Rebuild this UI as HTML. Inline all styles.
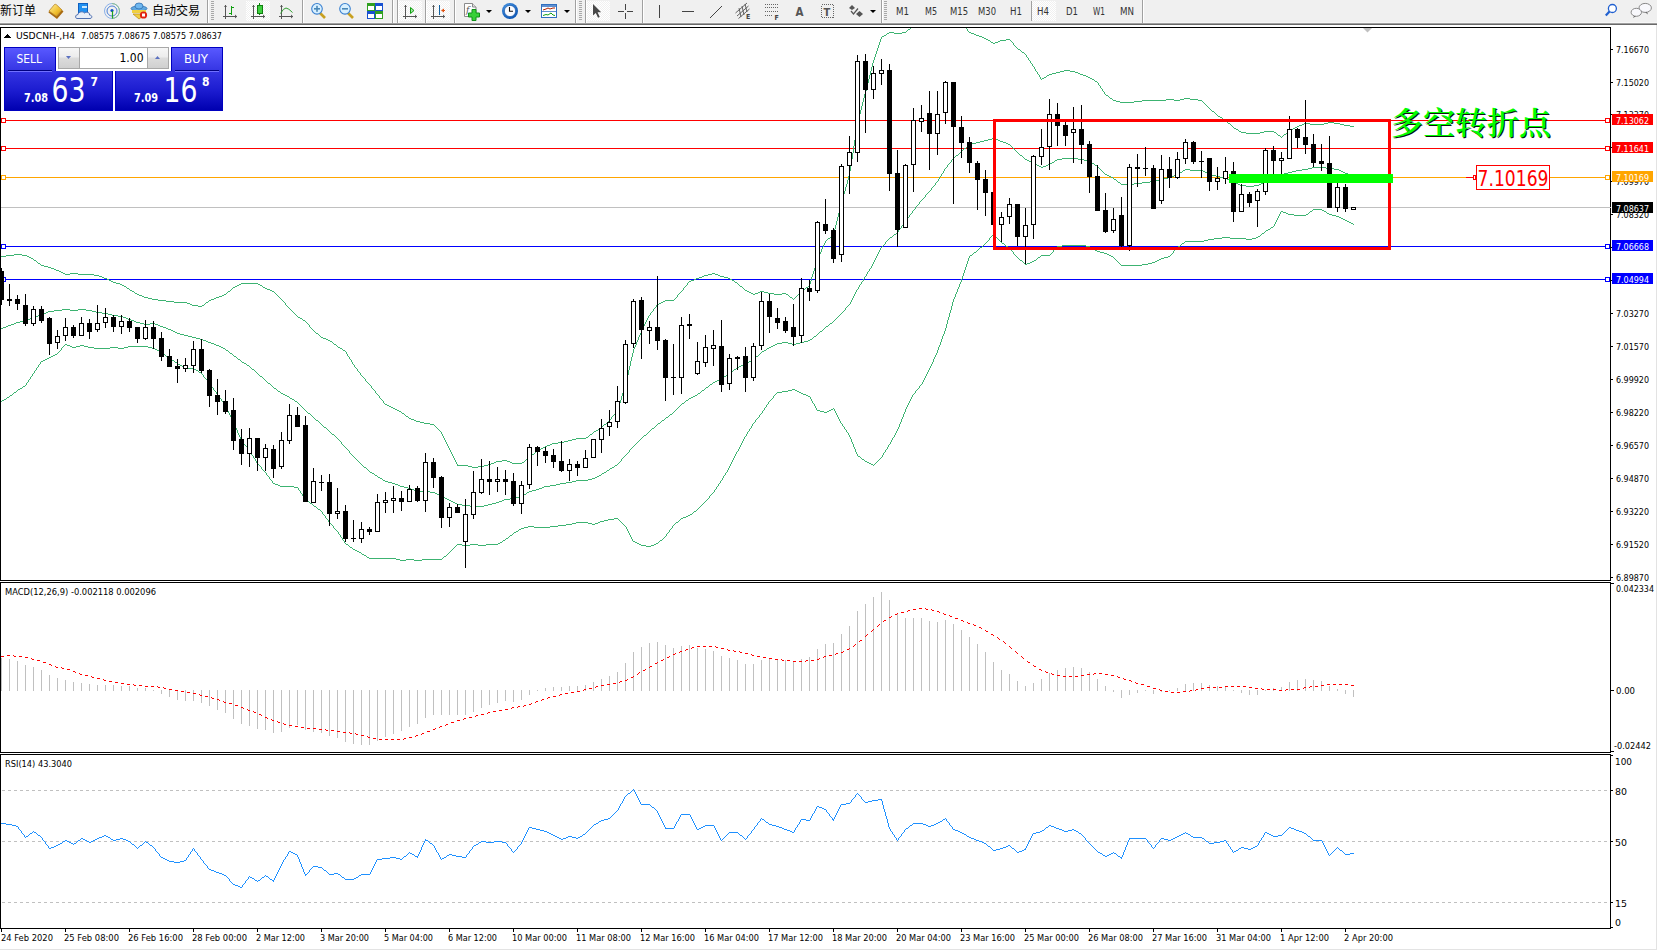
<!DOCTYPE html>
<html><head><meta charset="utf-8"><title>MT4 USDCNH H4</title>
<style>
html,body{margin:0;padding:0;background:#fff;}
body{width:1657px;height:950px;position:relative;overflow:hidden;font-family:"Liberation Sans","Noto Sans CJK SC",sans-serif;}
svg text{shape-rendering:auto;}
</style></head><body>
<svg width="1657" height="950" viewBox="0 0 1657 950" style="position:absolute;left:0;top:0" shape-rendering="crispEdges"><rect x="0" y="0" width="1657" height="22" fill="#f0f0f0"/><rect x="0" y="22" width="1657" height="1" fill="#f7f7f7"/><rect x="0" y="23" width="1657" height="1" fill="#a0a0a0"/><rect x="0" y="24" width="1657" height="1" fill="#696969"/><rect x="0" y="25" width="1656" height="924" fill="#ffffff"/><rect x="1656" y="25" width="1" height="925" fill="#e3e3e3"/><rect x="0" y="949" width="1657" height="1" fill="#e3e3e3"/><defs><pattern id="chk" x="0" y="0" width="2" height="2" patternUnits="userSpaceOnUse"><rect width="2" height="2" fill="#f0f0f0"/><rect x="1" y="0" width="1" height="1" fill="#fff"/><rect x="0" y="1" width="1" height="1" fill="#fff"/></pattern></defs><rect x="246" y="1" width="24" height="20" fill="url(#chk)"/><rect x="398" y="1" width="24" height="20" fill="url(#chk)"/><rect x="426" y="1" width="24" height="20" fill="url(#chk)"/><rect x="586" y="1" width="24" height="20" fill="url(#chk)"/><rect x="1032" y="1" width="24" height="20" fill="url(#chk)"/><rect x="1031" y="1" width="1" height="20" fill="#a0a0a0"/><rect x="207" y="0" width="1" height="23" fill="#a0a0a0"/><rect x="208" y="0" width="1" height="23" fill="#ffffff"/><rect x="302" y="0" width="1" height="23" fill="#a0a0a0"/><rect x="303" y="0" width="1" height="23" fill="#ffffff"/><rect x="392" y="0" width="1" height="23" fill="#a0a0a0"/><rect x="393" y="0" width="1" height="23" fill="#ffffff"/><rect x="397" y="0" width="1" height="23" fill="#a0a0a0"/><rect x="398" y="0" width="1" height="23" fill="#ffffff"/><rect x="425" y="0" width="1" height="23" fill="#a0a0a0"/><rect x="426" y="0" width="1" height="23" fill="#ffffff"/><rect x="454" y="0" width="1" height="23" fill="#a0a0a0"/><rect x="455" y="0" width="1" height="23" fill="#ffffff"/><rect x="575" y="0" width="1" height="23" fill="#a0a0a0"/><rect x="576" y="0" width="1" height="23" fill="#ffffff"/><rect x="585" y="0" width="1" height="23" fill="#a0a0a0"/><rect x="586" y="0" width="1" height="23" fill="#ffffff"/><rect x="642" y="0" width="1" height="23" fill="#a0a0a0"/><rect x="643" y="0" width="1" height="23" fill="#ffffff"/><rect x="881" y="0" width="1" height="23" fill="#a0a0a0"/><rect x="882" y="0" width="1" height="23" fill="#ffffff"/><rect x="1142" y="0" width="1" height="23" fill="#a0a0a0"/><rect x="1143" y="0" width="1" height="23" fill="#ffffff"/><rect x="211" y="1" width="3" height="1" fill="#a8a8a8"/><rect x="211" y="3" width="3" height="1" fill="#a8a8a8"/><rect x="211" y="5" width="3" height="1" fill="#a8a8a8"/><rect x="211" y="7" width="3" height="1" fill="#a8a8a8"/><rect x="211" y="9" width="3" height="1" fill="#a8a8a8"/><rect x="211" y="11" width="3" height="1" fill="#a8a8a8"/><rect x="211" y="13" width="3" height="1" fill="#a8a8a8"/><rect x="211" y="15" width="3" height="1" fill="#a8a8a8"/><rect x="211" y="17" width="3" height="1" fill="#a8a8a8"/><rect x="211" y="19" width="3" height="1" fill="#a8a8a8"/><rect x="579" y="1" width="3" height="1" fill="#a8a8a8"/><rect x="579" y="3" width="3" height="1" fill="#a8a8a8"/><rect x="579" y="5" width="3" height="1" fill="#a8a8a8"/><rect x="579" y="7" width="3" height="1" fill="#a8a8a8"/><rect x="579" y="9" width="3" height="1" fill="#a8a8a8"/><rect x="579" y="11" width="3" height="1" fill="#a8a8a8"/><rect x="579" y="13" width="3" height="1" fill="#a8a8a8"/><rect x="579" y="15" width="3" height="1" fill="#a8a8a8"/><rect x="579" y="17" width="3" height="1" fill="#a8a8a8"/><rect x="579" y="19" width="3" height="1" fill="#a8a8a8"/><rect x="884" y="1" width="3" height="1" fill="#a8a8a8"/><rect x="884" y="3" width="3" height="1" fill="#a8a8a8"/><rect x="884" y="5" width="3" height="1" fill="#a8a8a8"/><rect x="884" y="7" width="3" height="1" fill="#a8a8a8"/><rect x="884" y="9" width="3" height="1" fill="#a8a8a8"/><rect x="884" y="11" width="3" height="1" fill="#a8a8a8"/><rect x="884" y="13" width="3" height="1" fill="#a8a8a8"/><rect x="884" y="15" width="3" height="1" fill="#a8a8a8"/><rect x="884" y="17" width="3" height="1" fill="#a8a8a8"/><rect x="884" y="19" width="3" height="1" fill="#a8a8a8"/><text x="0" y="15" font-family="Liberation Sans, Noto Sans CJK SC, sans-serif" font-size="12" fill="#000" textLength="36" lengthAdjust="spacingAndGlyphs">新订单</text><text x="152" y="15" font-family="Liberation Sans, Noto Sans CJK SC, sans-serif" font-size="12" fill="#000" textLength="48" lengthAdjust="spacingAndGlyphs">自动交易</text><defs><linearGradient id="gbook" x1="0" y1="0" x2="1" y2="1"><stop offset="0" stop-color="#fff0a0"/><stop offset="0.6" stop-color="#f0c030"/><stop offset="1" stop-color="#c88a10"/></linearGradient></defs><g shape-rendering="auto"><path d="M48.5,12.5 L57,19 L63.5,11.5 L62,10 L56.5,16.3 L49,11 Z" fill="#a86a10"/><path d="M49,11 L54.5,4.5 Q55.5,4 56.5,4.8 L62,10 L56.5,16.3 Z" fill="url(#gbook)" stroke="#b07818" stroke-width="0.7"/></g><g shape-rendering="auto"><rect x="78.5" y="3.5" width="9" height="10" fill="#2090f0" stroke="#1060c0"/><rect x="82" y="6" width="5" height="2" fill="#c8e8ff"/><path d="M77,18.5 C75,18.5 75,14.5 78,14.5 C78.5,11.5 83,11 84.5,13 C86,11.5 90,12 89.5,15 C92.5,15 92.5,18.5 90,18.5 Z" fill="#e8eef8" stroke="#5070b0"/></g><g shape-rendering="auto" fill="none"><circle cx="112" cy="11" r="7.5" stroke="#8ab0e8" stroke-width="1"/><circle cx="112" cy="11" r="5" stroke="#4a80d8" stroke-width="1"/><path d="M112,3.5 A7.5,7.5 0 0 1 112,18.5" stroke="#88c090" stroke-width="1"/><circle cx="112" cy="10.5" r="1.6" fill="#1050c0"/><path d="M112.5,11 V18.5" stroke="#20a020" stroke-width="1.2"/></g><g shape-rendering="auto"><path d="M133,14 L139,19 L146,14 Z" fill="#f0d040" stroke="#c09020" stroke-width="0.8"/><ellipse cx="139" cy="8.5" rx="8" ry="2.6" fill="#60a8e0" stroke="#3070b0" stroke-width="0.8"/><ellipse cx="139" cy="6" rx="4" ry="3" fill="#70b8f0" stroke="#3070b0" stroke-width="0.8"/><path d="M132,10 L146,10 L146,13 L132,13 Z" fill="#f0d040"/><circle cx="143.5" cy="15" r="3.6" fill="#e02010"/><rect x="142" y="13.5" width="3" height="3" fill="#fff"/></g><rect x="225" y="5" width="1" height="14" fill="#555"/><rect x="223" y="16" width="14" height="1" fill="#555"/><path d="M224,7 L225.5,5 L227,7 Z" fill="#555" shape-rendering="auto"/><path d="M235,14.5 L237,16.5 L235,18.5 Z" fill="#555" shape-rendering="auto"/><rect x="231" y="6" width="1" height="9" fill="#10a010"/><rect x="229" y="13" width="2" height="1" fill="#10a010"/><rect x="232" y="7" width="2" height="1" fill="#10a010"/><rect x="253" y="5" width="1" height="14" fill="#555"/><rect x="251" y="16" width="14" height="1" fill="#555"/><path d="M252,7 L253.5,5 L255,7 Z" fill="#555" shape-rendering="auto"/><path d="M263,14.5 L265,16.5 L263,18.5 Z" fill="#555" shape-rendering="auto"/><rect x="259" y="3" width="1" height="12" fill="#108010"/><rect x="257" y="5" width="5" height="8" fill="#40d040" stroke="#108010" stroke-width="1"/><rect x="281" y="5" width="1" height="14" fill="#555"/><rect x="279" y="16" width="14" height="1" fill="#555"/><path d="M280,7 L281.5,5 L283,7 Z" fill="#555" shape-rendering="auto"/><path d="M291,14.5 L293,16.5 L291,18.5 Z" fill="#555" shape-rendering="auto"/><path d="M280.5,13.5 Q283.5,8 286,8 Q288.5,8.2 292.5,12.5" fill="none" stroke="#30a030" stroke-width="1" shape-rendering="auto"/><g shape-rendering="auto"><path d="M320,13 L325,18" stroke="#c8a020" stroke-width="2.6"/><circle cx="317" cy="8.8" r="5.3" fill="#d8f0ff" stroke="#3a80d0" stroke-width="1.1"/><rect x="314" y="8" width="6" height="1.6" fill="#4a88b8"/><rect x="316.2" y="5.8" width="1.6" height="6" fill="#4a88b8"/></g><g shape-rendering="auto"><path d="M348,13 L353,18" stroke="#c8a020" stroke-width="2.6"/><circle cx="345" cy="8.8" r="5.3" fill="#d8f0ff" stroke="#3a80d0" stroke-width="1.1"/><rect x="342" y="8" width="6" height="1.6" fill="#4a88b8"/></g><rect x="367" y="3" width="8" height="8" fill="#30a020"/><rect x="368" y="6" width="6" height="4" fill="#fff"/><rect x="375" y="3" width="8" height="8" fill="#1850d0"/><rect x="376" y="6" width="6" height="4" fill="#fff"/><rect x="367" y="11" width="8" height="8" fill="#1850d0"/><rect x="368" y="14" width="6" height="4" fill="#fff"/><rect x="375" y="11" width="8" height="8" fill="#30a020"/><rect x="376" y="14" width="6" height="4" fill="#fff"/><rect x="405" y="5" width="1" height="14" fill="#555"/><rect x="403" y="16" width="14" height="1" fill="#555"/><path d="M404,7 L405.5,5 L407,7 Z" fill="#555" shape-rendering="auto"/><path d="M415,14.5 L417,16.5 L415,18.5 Z" fill="#555" shape-rendering="auto"/><path d="M410.5,7.5 L414,10.5 L410.5,13.5 Z" fill="#a0e0a0" stroke="#10a010" shape-rendering="auto"/><rect x="433" y="5" width="1" height="14" fill="#555"/><rect x="431" y="16" width="14" height="1" fill="#555"/><path d="M432,7 L433.5,5 L435,7 Z" fill="#555" shape-rendering="auto"/><path d="M443,14.5 L445,16.5 L443,18.5 Z" fill="#555" shape-rendering="auto"/><rect x="439" y="5" width="1" height="10" fill="#1060a0"/><path d="M441,10.5 L444,8.5 L444,12.5 Z" fill="#e05010" shape-rendering="auto"/><rect x="443" y="10" width="2" height="1" fill="#e05010"/><g shape-rendering="auto"><path d="M464.5,3.5 H472.5 L476,7 V16.5 H464.5 Z" fill="#fdfdfd" stroke="#8a8a8a"/><path d="M472.5,3.5 V7 H476" fill="#e0e0e0" stroke="#8a8a8a"/><text x="466" y="13" font-family="DejaVu Serif, serif" font-style="italic" font-size="9" fill="#555">f</text><path d="M472,9.5 H476 V13 H479.5 V17 H476 V20.5 H472 V17 H468.5 V13 H472 Z" fill="#38d038" stroke="#10901a" stroke-width="1"/></g><path d="M486,10 L492,10 L489,13 Z" fill="#000" shape-rendering="auto"/><path d="M525,10 L531,10 L528,13 Z" fill="#000" shape-rendering="auto"/><path d="M564,10 L570,10 L567,13 Z" fill="#000" shape-rendering="auto"/><path d="M870,10 L876,10 L873,13 Z" fill="#000" shape-rendering="auto"/><defs><radialGradient id="gclk" cx="0.4" cy="0.35" r="0.7"><stop offset="0" stop-color="#5aa8f0"/><stop offset="1" stop-color="#0850b0"/></radialGradient></defs><g shape-rendering="auto"><circle cx="510" cy="11" r="8" fill="url(#gclk)"/><circle cx="510" cy="11" r="5.6" fill="#fbfbff" stroke="#0a4a9a" stroke-width="0.6"/><path d="M509.5,7 V11.2 H513" fill="none" stroke="#111" stroke-width="1.1"/></g><rect x="541.5" y="4.5" width="15" height="13" fill="#fff" stroke="#3070c0"/><rect x="542" y="5" width="14" height="2" fill="#6090d0"/><rect x="542" y="11" width="14" height="1" fill="#6090d0"/><path d="M543,10 L546,9 L548,8 L550,9 L553,8 L555,8" fill="none" stroke="#b02000" stroke-width="1" shape-rendering="auto"/><path d="M543,15.5 L546,14.5 L548,15 L551,13 L553,15 L555,15.5" fill="none" stroke="#10a010" stroke-width="1" shape-rendering="auto"/><path d="M593,4 L593,15.5 L595.8,13 L598,17.8 L599.8,17 L597.6,12.3 L601.2,12.2 Z" fill="#484848" stroke="#fff" stroke-width="1.2" paint-order="stroke" shape-rendering="auto"/><rect x="618" y="11" width="6" height="1" fill="#444"/><rect x="627" y="11" width="6" height="1" fill="#444"/><rect x="625" y="4" width="1" height="6" fill="#444"/><rect x="625" y="13" width="1" height="6" fill="#444"/><rect x="659" y="5" width="1" height="13" fill="#444"/><rect x="682" y="11" width="12" height="1" fill="#444"/><path d="M710,18 L722,6" stroke="#444" stroke-width="1" shape-rendering="auto"/><g shape-rendering="auto" stroke="#555" stroke-width="0.9" fill="none"><path d="M735.5,13 L747,3"/><path d="M737,16 L748.5,6"/><path d="M738.5,18.5 L749.5,9"/><path d="M739,8 L741,17 M742,6 L744,15 M745,4 L747,12"/></g><text x="746" y="19" font-family="DejaVu Sans Condensed, DejaVu Sans, sans-serif" font-size="7" font-weight="bold" fill="#444">E</text><line x1="765" y1="4.5" x2="778" y2="4.5" stroke="#666" stroke-dasharray="1,1"/><line x1="765" y1="7.5" x2="778" y2="7.5" stroke="#666" stroke-dasharray="1,1"/><line x1="765" y1="11.5" x2="778" y2="11.5" stroke="#666" stroke-dasharray="1,1"/><line x1="765" y1="15.5" x2="773" y2="15.5" stroke="#666" stroke-dasharray="1,1"/><text x="774.5" y="19.5" font-family="DejaVu Sans Condensed, DejaVu Sans, sans-serif" font-size="7" font-weight="bold" fill="#444">F</text><text x="795.5" y="16" font-family="DejaVu Sans Condensed, DejaVu Sans, sans-serif" font-size="12" font-weight="bold" fill="#555" textLength="8" lengthAdjust="spacingAndGlyphs">A</text><rect x="821.5" y="4.5" width="12" height="13" fill="none" stroke="#666" stroke-dasharray="1,1"/><text x="823.5" y="15.5" font-family="DejaVu Sans Condensed, DejaVu Sans, sans-serif" font-size="11" font-weight="bold" fill="#555">T</text><g shape-rendering="auto" fill="#555"><path d="M849,8 L852,5 L855,8 L852,10 Z"/><path d="M856,14 L859.5,11 L863,14 L859.5,17 Z"/><path d="M851,11 L853.5,14 L858,8.5" fill="none" stroke="#555" stroke-width="1.2"/></g><text x="896" y="15" font-family="DejaVu Sans Condensed, DejaVu Sans, sans-serif" font-size="10.2" fill="#333" textLength="13" lengthAdjust="spacingAndGlyphs">M1</text><text x="925" y="15" font-family="DejaVu Sans Condensed, DejaVu Sans, sans-serif" font-size="10.2" fill="#333" textLength="12" lengthAdjust="spacingAndGlyphs">M5</text><text x="950" y="15" font-family="DejaVu Sans Condensed, DejaVu Sans, sans-serif" font-size="10.2" fill="#333" textLength="18" lengthAdjust="spacingAndGlyphs">M15</text><text x="978" y="15" font-family="DejaVu Sans Condensed, DejaVu Sans, sans-serif" font-size="10.2" fill="#333" textLength="18" lengthAdjust="spacingAndGlyphs">M30</text><text x="1010" y="15" font-family="DejaVu Sans Condensed, DejaVu Sans, sans-serif" font-size="10.2" fill="#333" textLength="12" lengthAdjust="spacingAndGlyphs">H1</text><text x="1037" y="15" font-family="DejaVu Sans Condensed, DejaVu Sans, sans-serif" font-size="10.2" fill="#333" textLength="12" lengthAdjust="spacingAndGlyphs">H4</text><text x="1066" y="15" font-family="DejaVu Sans Condensed, DejaVu Sans, sans-serif" font-size="10.2" fill="#333" textLength="12" lengthAdjust="spacingAndGlyphs">D1</text><text x="1093" y="15" font-family="DejaVu Sans Condensed, DejaVu Sans, sans-serif" font-size="10.2" fill="#333" textLength="12" lengthAdjust="spacingAndGlyphs">W1</text><text x="1120" y="15" font-family="DejaVu Sans Condensed, DejaVu Sans, sans-serif" font-size="10.2" fill="#333" textLength="14" lengthAdjust="spacingAndGlyphs">MN</text><g shape-rendering="auto"><circle cx="1612.4" cy="8.5" r="4" fill="#fff" stroke="#2060d0" stroke-width="1.3"/><path d="M1609.5,11.5 L1605.8,15.6" stroke="#2060d0" stroke-width="2.2"/><ellipse cx="1645.2" cy="7.9" rx="6.2" ry="4.5" fill="#f8f8fc" stroke="#888" stroke-width="1"/><path d="M1647,12 L1648,14.5 L1645,12.3" fill="#666"/><ellipse cx="1636.3" cy="12.3" rx="5.2" ry="4" fill="#f8f8fc" stroke="#888" stroke-width="1"/><path d="M1634,16 L1633,18 L1636,16.2" fill="#666"/></g><rect x="0.5" y="27.5" width="1610" height="553" fill="none" stroke="#000"/><rect x="0.5" y="582.5" width="1610" height="170" fill="none" stroke="#000"/><rect x="0.5" y="754.5" width="1610" height="174" fill="none" stroke="#000"/><rect x="1" y="120" width="1609" height="1" fill="#ff0000"/><rect x="1.5" y="118.5" width="4" height="4" fill="#fff" stroke="#ff0000"/><rect x="1605.5" y="118.5" width="4" height="4" fill="#fff" stroke="#ff0000"/><rect x="1" y="148" width="1609" height="1" fill="#ff0000"/><rect x="1.5" y="146.5" width="4" height="4" fill="#fff" stroke="#ff0000"/><rect x="1605.5" y="146.5" width="4" height="4" fill="#fff" stroke="#ff0000"/><rect x="1" y="177" width="1609" height="1" fill="#ffa500"/><rect x="1.5" y="175.5" width="4" height="4" fill="#fff" stroke="#ffa500"/><rect x="1605.5" y="175.5" width="4" height="4" fill="#fff" stroke="#ffa500"/><rect x="1" y="207" width="1610" height="1" fill="#c0c0c0"/><rect x="1" y="246" width="1609" height="1" fill="#0000ff"/><rect x="1.5" y="244.5" width="4" height="4" fill="#fff" stroke="#0000ff"/><rect x="1605.5" y="244.5" width="4" height="4" fill="#fff" stroke="#0000ff"/><rect x="1" y="279" width="1609" height="1" fill="#0000ff"/><rect x="1.5" y="277.5" width="4" height="4" fill="#fff" stroke="#0000ff"/><rect x="1605.5" y="277.5" width="4" height="4" fill="#fff" stroke="#0000ff"/><defs><clipPath id="cm"><rect x="1" y="28" width="1609" height="552"/></clipPath><clipPath id="cmacd"><rect x="1" y="583" width="1609" height="169"/></clipPath><clipPath id="crsi"><rect x="1" y="755" width="1609" height="173"/></clipPath></defs><g clip-path="url(#cm)"><path fill="#3cb371" d="M910 28h1v1h-1zM966 28h1v1h-1zM908 29h2v1h-2zM967 29h1v1h-1zM907 30h1v1h-1zM967 30h1v1h-1zM906 31h1v1h-1zM968 31h1v1h-1zM889 32h5v1h-5zM902 32h4v1h-4zM969 32h2v1h-2zM887 33h2v1h-2zM894 33h8v1h-8zM971 33h3v1h-3zM886 34h1v1h-1zM974 34h2v1h-2zM884 35h2v1h-2zM976 35h3v1h-3zM882 36h2v1h-2zM979 36h3v1h-3zM881 37h1v1h-1zM982 37h2v1h-2zM881 38h1v1h-1zM984 38h2v1h-2zM880 39h1v1h-1zM986 39h2v1h-2zM1006 39h4v1h-4zM880 40h1v1h-1zM988 40h2v1h-2zM1000 40h6v1h-6zM1010 40h1v1h-1zM880 41h1v1h-1zM990 41h1v1h-1zM998 41h2v1h-2zM1011 41h1v1h-1zM879 42h1v1h-1zM991 42h2v1h-2zM995 42h3v1h-3zM1012 42h1v1h-1zM879 43h1v1h-1zM993 43h2v1h-2zM1013 43h1v1h-1zM879 44h1v1h-1zM1013 44h1v1h-1zM878 45h1v1h-1zM1014 45h1v1h-1zM878 46h1v1h-1zM1015 46h1v1h-1zM878 47h1v1h-1zM1016 47h1v1h-1zM877 48h1v1h-1zM1017 48h1v1h-1zM877 49h1v1h-1zM1018 49h2v1h-2zM877 50h1v1h-1zM1020 50h1v1h-1zM876 51h1v1h-1zM1021 51h1v1h-1zM876 52h1v1h-1zM1022 52h2v1h-2zM876 53h1v1h-1zM1024 53h1v1h-1zM875 54h1v1h-1zM1025 54h1v1h-1zM875 55h1v1h-1zM1026 55h1v1h-1zM875 56h1v1h-1zM1026 56h1v1h-1zM874 57h1v1h-1zM1027 57h1v1h-1zM874 58h1v1h-1zM1028 58h1v1h-1zM874 59h1v1h-1zM1028 59h1v1h-1zM873 60h1v1h-1zM1029 60h1v1h-1zM873 61h1v1h-1zM1030 61h1v1h-1zM873 62h1v1h-1zM1030 62h1v1h-1zM872 63h1v1h-1zM1031 63h1v1h-1zM872 64h1v1h-1zM1032 64h1v1h-1zM872 65h1v1h-1zM1032 65h1v1h-1zM872 66h1v1h-1zM1033 66h1v1h-1zM871 67h1v1h-1zM1034 67h1v1h-1zM871 68h1v1h-1zM1034 68h1v1h-1zM871 69h1v1h-1zM1035 69h1v1h-1zM871 70h1v1h-1zM1035 70h1v1h-1zM1064 70h6v1h-6zM870 71h1v1h-1zM1036 71h1v1h-1zM1060 71h4v1h-4zM1070 71h5v1h-5zM870 72h1v1h-1zM1037 72h1v1h-1zM1056 72h4v1h-4zM1075 72h3v1h-3zM870 73h1v1h-1zM1037 73h1v1h-1zM1052 73h4v1h-4zM1078 73h2v1h-2zM870 74h1v1h-1zM1038 74h1v1h-1zM1049 74h3v1h-3zM1080 74h3v1h-3zM869 75h1v1h-1zM1039 75h1v1h-1zM1047 75h2v1h-2zM1083 75h3v1h-3zM869 76h1v1h-1zM1039 76h1v1h-1zM1046 76h1v1h-1zM1086 76h2v1h-2zM869 77h1v1h-1zM1040 77h1v1h-1zM1044 77h2v1h-2zM1088 77h2v1h-2zM869 78h1v1h-1zM1040 78h1v1h-1zM1042 78h2v1h-2zM1090 78h2v1h-2zM868 79h1v1h-1zM1041 79h1v1h-1zM1092 79h2v1h-2zM868 80h1v1h-1zM1094 80h1v1h-1zM868 81h1v1h-1zM1095 81h2v1h-2zM868 82h1v1h-1zM1097 82h1v1h-1zM867 83h1v1h-1zM1098 83h1v1h-1zM867 84h1v1h-1zM1098 84h1v1h-1zM867 85h1v1h-1zM1099 85h1v1h-1zM867 86h1v1h-1zM1100 86h1v1h-1zM866 87h1v1h-1zM1100 87h1v1h-1zM866 88h1v1h-1zM1101 88h1v1h-1zM866 89h1v1h-1zM1102 89h1v1h-1zM866 90h1v1h-1zM1102 90h1v1h-1zM865 91h1v1h-1zM1103 91h1v1h-1zM865 92h1v1h-1zM1104 92h1v1h-1zM865 93h1v1h-1zM1104 93h1v1h-1zM864 94h1v1h-1zM1105 94h1v1h-1zM864 95h1v1h-1zM1106 95h2v1h-2zM864 96h1v1h-1zM1108 96h1v1h-1zM864 97h1v1h-1zM1109 97h1v1h-1zM863 98h1v1h-1zM1110 98h2v1h-2zM1184 98h6v1h-6zM863 99h1v1h-1zM1112 99h1v1h-1zM1166 99h8v1h-8zM1180 99h4v1h-4zM1190 99h8v1h-8zM863 100h1v1h-1zM1113 100h3v1h-3zM1142 100h24v1h-24zM1174 100h6v1h-6zM1198 100h4v1h-4zM863 101h1v1h-1zM1116 101h4v1h-4zM1134 101h8v1h-8zM1202 101h1v1h-1zM862 102h1v1h-1zM1120 102h14v1h-14zM1203 102h1v1h-1zM862 103h1v1h-1zM1204 103h1v1h-1zM862 104h1v1h-1zM1205 104h1v1h-1zM862 105h1v1h-1zM1206 105h1v1h-1zM861 106h1v1h-1zM1207 106h1v1h-1zM861 107h1v1h-1zM1208 107h1v1h-1zM861 108h1v1h-1zM1209 108h1v1h-1zM861 109h1v1h-1zM1210 109h1v1h-1zM860 110h1v1h-1zM1211 110h1v1h-1zM860 111h1v1h-1zM1212 111h2v1h-2zM860 112h1v1h-1zM1214 112h1v1h-1zM860 113h1v1h-1zM1215 113h1v1h-1zM859 114h1v1h-1zM1216 114h1v1h-1zM859 115h1v1h-1zM1217 115h1v1h-1zM859 116h1v1h-1zM1218 116h2v1h-2zM859 117h1v1h-1zM1220 117h2v1h-2zM858 118h1v1h-1zM1222 118h1v1h-1zM858 119h1v1h-1zM1223 119h2v1h-2zM858 120h1v1h-1zM1225 120h1v1h-1zM858 121h1v1h-1zM1226 121h1v1h-1zM857 122h1v1h-1zM1227 122h1v1h-1zM1328 122h6v1h-6zM857 123h1v1h-1zM1228 123h2v1h-2zM1304 123h6v1h-6zM1324 123h4v1h-4zM1334 123h6v1h-6zM857 124h1v1h-1zM1230 124h1v1h-1zM1302 124h2v1h-2zM1310 124h14v1h-14zM1340 124h4v1h-4zM857 125h1v1h-1zM1231 125h1v1h-1zM1299 125h3v1h-3zM1344 125h6v1h-6zM857 126h1v1h-1zM1232 126h1v1h-1zM1297 126h2v1h-2zM1350 126h4v1h-4zM857 127h1v1h-1zM1233 127h1v1h-1zM1295 127h2v1h-2zM856 128h1v1h-1zM1234 128h2v1h-2zM1293 128h2v1h-2zM856 129h1v1h-1zM1236 129h2v1h-2zM1291 129h2v1h-2zM856 130h1v1h-1zM1238 130h1v1h-1zM1289 130h2v1h-2zM856 131h1v1h-1zM1239 131h2v1h-2zM1264 131h10v1h-10zM1288 131h1v1h-1zM856 132h1v1h-1zM1241 132h5v1h-5zM1260 132h4v1h-4zM1274 132h2v1h-2zM1287 132h1v1h-1zM856 133h1v1h-1zM1246 133h14v1h-14zM1276 133h1v1h-1zM1286 133h1v1h-1zM855 134h1v1h-1zM1277 134h1v1h-1zM1284 134h2v1h-2zM855 135h1v1h-1zM1278 135h2v1h-2zM1283 135h1v1h-1zM855 136h1v1h-1zM1280 136h1v1h-1zM1282 136h1v1h-1zM855 137h1v1h-1zM1281 137h1v1h-1zM855 138h1v1h-1zM855 139h1v1h-1zM854 140h1v1h-1zM854 141h1v1h-1zM854 142h1v1h-1zM854 143h1v1h-1zM854 144h1v1h-1zM854 145h1v1h-1zM853 146h1v1h-1zM853 147h1v1h-1zM853 148h1v1h-1zM853 149h1v1h-1zM853 150h1v1h-1zM853 151h1v1h-1zM853 152h1v1h-1zM852 153h1v1h-1zM852 154h1v1h-1zM852 155h1v1h-1zM852 156h1v1h-1zM852 157h1v1h-1zM852 158h1v1h-1zM851 159h1v1h-1zM851 160h1v1h-1zM851 161h1v1h-1zM851 162h1v1h-1zM851 163h1v1h-1zM851 164h1v1h-1zM850 165h1v1h-1zM850 166h1v1h-1zM850 167h1v1h-1zM850 168h1v1h-1zM850 169h1v1h-1zM850 170h1v1h-1zM849 171h1v1h-1zM849 172h1v1h-1zM849 173h1v1h-1zM849 174h1v1h-1zM849 175h1v1h-1zM848 176h1v1h-1zM848 177h1v1h-1zM848 178h1v1h-1zM848 179h1v1h-1zM847 180h1v1h-1zM847 181h1v1h-1zM847 182h1v1h-1zM847 183h1v1h-1zM846 184h1v1h-1zM846 185h1v1h-1zM846 186h1v1h-1zM845 187h1v1h-1zM845 188h1v1h-1zM845 189h1v1h-1zM845 190h1v1h-1zM844 191h1v1h-1zM844 192h1v1h-1zM844 193h1v1h-1zM843 194h1v1h-1zM843 195h1v1h-1zM843 196h1v1h-1zM843 197h1v1h-1zM842 198h1v1h-1zM842 199h1v1h-1zM842 200h1v1h-1zM842 201h1v1h-1zM841 202h1v1h-1zM841 203h1v1h-1zM841 204h1v1h-1zM840 205h1v1h-1zM840 206h1v1h-1zM840 207h1v1h-1zM840 208h1v1h-1zM839 209h1v1h-1zM839 210h1v1h-1zM839 211h1v1h-1zM839 212h1v1h-1zM838 213h1v1h-1zM838 214h1v1h-1zM838 215h1v1h-1zM838 216h1v1h-1zM837 217h1v1h-1zM837 218h1v1h-1zM837 219h1v1h-1zM837 220h1v1h-1zM836 221h1v1h-1zM836 222h1v1h-1zM836 223h1v1h-1zM836 224h1v1h-1zM835 225h1v1h-1zM835 226h1v1h-1zM835 227h1v1h-1zM835 228h1v1h-1zM834 229h1v1h-1zM834 230h1v1h-1zM834 231h1v1h-1zM834 232h1v1h-1zM833 233h1v1h-1zM833 234h1v1h-1zM832 235h1v1h-1zM831 236h1v1h-1zM830 237h1v1h-1zM828 238h2v1h-2zM827 239h1v1h-1zM826 240h1v1h-1zM825 241h1v1h-1zM825 242h1v1h-1zM824 243h1v1h-1zM824 244h1v1h-1zM823 245h1v1h-1zM823 246h1v1h-1zM822 247h1v1h-1zM822 248h1v1h-1zM821 249h1v1h-1zM821 250h1v1h-1zM821 251h1v1h-1zM820 252h1v1h-1zM820 253h1v1h-1zM14 254h8v1h-8zM819 254h1v1h-1zM6 255h8v1h-8zM22 255h5v1h-5zM819 255h1v1h-1zM1 256h5v1h-5zM27 256h2v1h-2zM818 256h1v1h-1zM29 257h2v1h-2zM818 257h1v1h-1zM31 258h2v1h-2zM817 258h1v1h-1zM33 259h1v1h-1zM817 259h1v1h-1zM34 260h2v1h-2zM817 260h1v1h-1zM36 261h1v1h-1zM816 261h1v1h-1zM37 262h1v1h-1zM816 262h1v1h-1zM38 263h2v1h-2zM816 263h1v1h-1zM40 264h1v1h-1zM815 264h1v1h-1zM41 265h3v1h-3zM815 265h1v1h-1zM44 266h4v1h-4zM815 266h1v1h-1zM48 267h3v1h-3zM815 267h1v1h-1zM51 268h3v1h-3zM814 268h1v1h-1zM54 269h2v1h-2zM814 269h1v1h-1zM56 270h3v1h-3zM814 270h1v1h-1zM59 271h2v1h-2zM813 271h1v1h-1zM61 272h2v1h-2zM813 272h1v1h-1zM63 273h2v1h-2zM70 273h8v1h-8zM712 273h3v1h-3zM813 273h1v1h-1zM65 274h5v1h-5zM78 274h16v1h-16zM708 274h4v1h-4zM715 274h3v1h-3zM812 274h1v1h-1zM94 275h5v1h-5zM704 275h4v1h-4zM718 275h2v1h-2zM812 275h1v1h-1zM99 276h3v1h-3zM702 276h2v1h-2zM720 276h4v1h-4zM812 276h1v1h-1zM102 277h2v1h-2zM699 277h3v1h-3zM724 277h4v1h-4zM811 277h1v1h-1zM104 278h3v1h-3zM696 278h3v1h-3zM728 278h2v1h-2zM811 278h1v1h-1zM107 279h2v1h-2zM694 279h2v1h-2zM730 279h2v1h-2zM811 279h1v1h-1zM109 280h2v1h-2zM691 280h3v1h-3zM732 280h2v1h-2zM811 280h1v1h-1zM111 281h2v1h-2zM689 281h2v1h-2zM734 281h1v1h-1zM810 281h1v1h-1zM113 282h3v1h-3zM688 282h1v1h-1zM735 282h2v1h-2zM810 282h1v1h-1zM116 283h4v1h-4zM241 283h17v1h-17zM687 283h1v1h-1zM737 283h1v1h-1zM810 283h1v1h-1zM120 284h2v1h-2zM239 284h2v1h-2zM258 284h2v1h-2zM687 284h1v1h-1zM738 284h1v1h-1zM809 284h1v1h-1zM122 285h2v1h-2zM237 285h2v1h-2zM260 285h2v1h-2zM686 285h1v1h-1zM739 285h1v1h-1zM809 285h1v1h-1zM124 286h2v1h-2zM235 286h2v1h-2zM262 286h1v1h-1zM685 286h1v1h-1zM740 286h2v1h-2zM808 286h1v1h-1zM126 287h1v1h-1zM233 287h2v1h-2zM263 287h2v1h-2zM684 287h1v1h-1zM742 287h1v1h-1zM806 287h2v1h-2zM127 288h2v1h-2zM232 288h1v1h-1zM265 288h2v1h-2zM683 288h1v1h-1zM743 288h1v1h-1zM805 288h1v1h-1zM129 289h1v1h-1zM231 289h1v1h-1zM267 289h3v1h-3zM683 289h1v1h-1zM744 289h1v1h-1zM804 289h1v1h-1zM130 290h2v1h-2zM230 290h1v1h-1zM270 290h2v1h-2zM682 290h1v1h-1zM745 290h2v1h-2zM802 290h2v1h-2zM132 291h2v1h-2zM228 291h2v1h-2zM272 291h2v1h-2zM681 291h1v1h-1zM747 291h2v1h-2zM760 291h4v1h-4zM801 291h1v1h-1zM134 292h1v1h-1zM227 292h1v1h-1zM274 292h1v1h-1zM680 292h1v1h-1zM749 292h2v1h-2zM758 292h2v1h-2zM764 292h4v1h-4zM800 292h1v1h-1zM135 293h2v1h-2zM226 293h1v1h-1zM275 293h1v1h-1zM679 293h1v1h-1zM751 293h2v1h-2zM755 293h3v1h-3zM768 293h6v1h-6zM782 293h4v1h-4zM799 293h1v1h-1zM137 294h2v1h-2zM224 294h2v1h-2zM276 294h1v1h-1zM678 294h1v1h-1zM753 294h2v1h-2zM774 294h8v1h-8zM786 294h2v1h-2zM798 294h1v1h-1zM139 295h3v1h-3zM222 295h2v1h-2zM277 295h1v1h-1zM677 295h1v1h-1zM788 295h1v1h-1zM797 295h1v1h-1zM142 296h2v1h-2zM219 296h3v1h-3zM278 296h1v1h-1zM677 296h1v1h-1zM789 296h1v1h-1zM796 296h1v1h-1zM144 297h4v1h-4zM216 297h3v1h-3zM279 297h1v1h-1zM676 297h1v1h-1zM790 297h2v1h-2zM795 297h1v1h-1zM148 298h4v1h-4zM214 298h2v1h-2zM280 298h1v1h-1zM675 298h1v1h-1zM792 298h1v1h-1zM794 298h1v1h-1zM152 299h6v1h-6zM211 299h3v1h-3zM281 299h1v1h-1zM674 299h1v1h-1zM793 299h1v1h-1zM158 300h8v1h-8zM209 300h2v1h-2zM282 300h1v1h-1zM665 300h9v1h-9zM166 301h8v1h-8zM208 301h1v1h-1zM283 301h1v1h-1zM663 301h2v1h-2zM174 302h13v1h-13zM206 302h2v1h-2zM284 302h1v1h-1zM661 302h2v1h-2zM187 303h3v1h-3zM205 303h1v1h-1zM285 303h1v1h-1zM659 303h2v1h-2zM190 304h2v1h-2zM204 304h1v1h-1zM285 304h1v1h-1zM657 304h2v1h-2zM192 305h6v1h-6zM202 305h2v1h-2zM286 305h1v1h-1zM656 305h1v1h-1zM198 306h4v1h-4zM287 306h1v1h-1zM656 306h1v1h-1zM288 307h1v1h-1zM655 307h1v1h-1zM289 308h1v1h-1zM654 308h1v1h-1zM290 309h1v1h-1zM653 309h1v1h-1zM291 310h1v1h-1zM653 310h1v1h-1zM292 311h1v1h-1zM652 311h1v1h-1zM293 312h1v1h-1zM651 312h1v1h-1zM294 313h1v1h-1zM650 313h1v1h-1zM295 314h1v1h-1zM650 314h1v1h-1zM296 315h1v1h-1zM649 315h1v1h-1zM297 316h1v1h-1zM648 316h1v1h-1zM298 317h2v1h-2zM648 317h1v1h-1zM300 318h2v1h-2zM647 318h1v1h-1zM302 319h1v1h-1zM647 319h1v1h-1zM303 320h2v1h-2zM646 320h1v1h-1zM305 321h1v1h-1zM646 321h1v1h-1zM306 322h1v1h-1zM645 322h1v1h-1zM307 323h1v1h-1zM645 323h1v1h-1zM308 324h1v1h-1zM644 324h1v1h-1zM309 325h1v1h-1zM644 325h1v1h-1zM309 326h1v1h-1zM643 326h1v1h-1zM310 327h1v1h-1zM643 327h1v1h-1zM311 328h1v1h-1zM642 328h1v1h-1zM312 329h1v1h-1zM642 329h1v1h-1zM313 330h1v1h-1zM641 330h1v1h-1zM314 331h1v1h-1zM641 331h1v1h-1zM315 332h1v1h-1zM641 332h1v1h-1zM316 333h2v1h-2zM640 333h1v1h-1zM318 334h1v1h-1zM640 334h1v1h-1zM319 335h1v1h-1zM639 335h1v1h-1zM320 336h1v1h-1zM639 336h1v1h-1zM321 337h2v1h-2zM638 337h1v1h-1zM323 338h3v1h-3zM638 338h1v1h-1zM326 339h2v1h-2zM638 339h1v1h-1zM328 340h2v1h-2zM637 340h1v1h-1zM330 341h2v1h-2zM637 341h1v1h-1zM332 342h1v1h-1zM636 342h1v1h-1zM333 343h1v1h-1zM636 343h1v1h-1zM334 344h2v1h-2zM636 344h1v1h-1zM336 345h1v1h-1zM635 345h1v1h-1zM337 346h1v1h-1zM635 346h1v1h-1zM338 347h2v1h-2zM634 347h1v1h-1zM340 348h2v1h-2zM634 348h1v1h-1zM342 349h1v1h-1zM633 349h1v1h-1zM343 350h2v1h-2zM633 350h1v1h-1zM345 351h1v1h-1zM633 351h1v1h-1zM346 352h1v1h-1zM633 352h1v1h-1zM346 353h1v1h-1zM632 353h1v1h-1zM347 354h1v1h-1zM632 354h1v1h-1zM347 355h1v1h-1zM632 355h1v1h-1zM348 356h1v1h-1zM632 356h1v1h-1zM349 357h1v1h-1zM631 357h1v1h-1zM349 358h1v1h-1zM631 358h1v1h-1zM350 359h1v1h-1zM631 359h1v1h-1zM351 360h1v1h-1zM631 360h1v1h-1zM351 361h1v1h-1zM630 361h1v1h-1zM352 362h1v1h-1zM630 362h1v1h-1zM352 363h1v1h-1zM630 363h1v1h-1zM353 364h1v1h-1zM630 364h1v1h-1zM354 365h1v1h-1zM630 365h1v1h-1zM354 366h1v1h-1zM629 366h1v1h-1zM355 367h1v1h-1zM629 367h1v1h-1zM356 368h1v1h-1zM629 368h1v1h-1zM357 369h1v1h-1zM629 369h1v1h-1zM357 370h1v1h-1zM628 370h1v1h-1zM358 371h1v1h-1zM628 371h1v1h-1zM359 372h1v1h-1zM628 372h1v1h-1zM360 373h1v1h-1zM628 373h1v1h-1zM360 374h1v1h-1zM628 374h1v1h-1zM361 375h1v1h-1zM627 375h1v1h-1zM362 376h1v1h-1zM627 376h1v1h-1zM363 377h1v1h-1zM627 377h1v1h-1zM364 378h1v1h-1zM627 378h1v1h-1zM365 379h1v1h-1zM626 379h1v1h-1zM365 380h1v1h-1zM626 380h1v1h-1zM366 381h1v1h-1zM626 381h1v1h-1zM367 382h1v1h-1zM626 382h1v1h-1zM368 383h1v1h-1zM625 383h1v1h-1zM369 384h1v1h-1zM625 384h1v1h-1zM370 385h1v1h-1zM625 385h1v1h-1zM371 386h1v1h-1zM625 386h1v1h-1zM371 387h1v1h-1zM624 387h1v1h-1zM372 388h1v1h-1zM624 388h1v1h-1zM373 389h1v1h-1zM624 389h1v1h-1zM374 390h1v1h-1zM623 390h1v1h-1zM375 391h1v1h-1zM623 391h1v1h-1zM375 392h1v1h-1zM623 392h1v1h-1zM376 393h1v1h-1zM622 393h1v1h-1zM377 394h1v1h-1zM622 394h1v1h-1zM378 395h1v1h-1zM622 395h1v1h-1zM379 396h1v1h-1zM621 396h1v1h-1zM379 397h1v1h-1zM621 397h1v1h-1zM380 398h1v1h-1zM621 398h1v1h-1zM381 399h1v1h-1zM621 399h1v1h-1zM382 400h1v1h-1zM620 400h1v1h-1zM383 401h1v1h-1zM620 401h1v1h-1zM383 402h1v1h-1zM620 402h1v1h-1zM384 403h1v1h-1zM619 403h1v1h-1zM385 404h2v1h-2zM619 404h1v1h-1zM387 405h2v1h-2zM619 405h1v1h-1zM389 406h2v1h-2zM618 406h1v1h-1zM391 407h2v1h-2zM618 407h1v1h-1zM393 408h2v1h-2zM618 408h1v1h-1zM395 409h2v1h-2zM617 409h1v1h-1zM397 410h2v1h-2zM617 410h1v1h-1zM399 411h2v1h-2zM616 411h1v1h-1zM401 412h1v1h-1zM615 412h1v1h-1zM402 413h2v1h-2zM615 413h1v1h-1zM404 414h1v1h-1zM614 414h1v1h-1zM405 415h1v1h-1zM613 415h1v1h-1zM406 416h2v1h-2zM612 416h1v1h-1zM408 417h1v1h-1zM611 417h1v1h-1zM409 418h2v1h-2zM611 418h1v1h-1zM411 419h3v1h-3zM610 419h1v1h-1zM414 420h2v1h-2zM609 420h1v1h-1zM416 421h4v1h-4zM608 421h1v1h-1zM420 422h4v1h-4zM607 422h1v1h-1zM424 423h6v1h-6zM606 423h1v1h-1zM430 424h4v1h-4zM604 424h2v1h-2zM434 425h1v1h-1zM603 425h1v1h-1zM435 426h1v1h-1zM602 426h1v1h-1zM436 427h1v1h-1zM601 427h1v1h-1zM437 428h1v1h-1zM599 428h2v1h-2zM438 429h1v1h-1zM598 429h1v1h-1zM439 430h1v1h-1zM596 430h2v1h-2zM440 431h1v1h-1zM594 431h2v1h-2zM441 432h1v1h-1zM593 432h1v1h-1zM441 433h1v1h-1zM592 433h1v1h-1zM442 434h1v1h-1zM590 434h2v1h-2zM442 435h1v1h-1zM589 435h1v1h-1zM443 436h1v1h-1zM588 436h1v1h-1zM443 437h1v1h-1zM586 437h2v1h-2zM444 438h1v1h-1zM576 438h10v1h-10zM444 439h1v1h-1zM572 439h4v1h-4zM445 440h1v1h-1zM568 440h4v1h-4zM445 441h1v1h-1zM564 441h4v1h-4zM446 442h1v1h-1zM558 442h6v1h-6zM446 443h1v1h-1zM552 443h6v1h-6zM447 444h1v1h-1zM550 444h2v1h-2zM447 445h1v1h-1zM547 445h3v1h-3zM448 446h1v1h-1zM545 446h2v1h-2zM448 447h1v1h-1zM543 447h2v1h-2zM449 448h1v1h-1zM541 448h2v1h-2zM449 449h1v1h-1zM539 449h2v1h-2zM450 450h1v1h-1zM537 450h2v1h-2zM450 451h1v1h-1zM536 451h1v1h-1zM451 452h1v1h-1zM535 452h1v1h-1zM451 453h1v1h-1zM534 453h1v1h-1zM452 454h1v1h-1zM532 454h2v1h-2zM452 455h1v1h-1zM531 455h1v1h-1zM453 456h1v1h-1zM530 456h1v1h-1zM453 457h1v1h-1zM529 457h1v1h-1zM454 458h1v1h-1zM528 458h1v1h-1zM454 459h1v1h-1zM526 459h2v1h-2zM455 460h1v1h-1zM502 460h5v1h-5zM525 460h1v1h-1zM455 461h1v1h-1zM496 461h6v1h-6zM507 461h3v1h-3zM524 461h1v1h-1zM456 462h1v1h-1zM494 462h2v1h-2zM510 462h2v1h-2zM522 462h2v1h-2zM456 463h1v1h-1zM491 463h3v1h-3zM512 463h10v1h-10zM457 464h1v1h-1zM488 464h3v1h-3zM457 465h11v1h-11zM484 465h4v1h-4zM468 466h4v1h-4zM478 466h6v1h-6zM472 467h6v1h-6z"/><path fill="#3cb371" d="M992 138h3v1h-3zM988 139h4v1h-4zM995 139h3v1h-3zM984 140h4v1h-4zM998 140h2v1h-2zM980 141h4v1h-4zM1000 141h3v1h-3zM976 142h4v1h-4zM1003 142h3v1h-3zM972 143h4v1h-4zM1006 143h2v1h-2zM969 144h3v1h-3zM1008 144h2v1h-2zM968 145h1v1h-1zM1010 145h1v1h-1zM967 146h1v1h-1zM1011 146h1v1h-1zM966 147h1v1h-1zM1012 147h1v1h-1zM964 148h2v1h-2zM1013 148h1v1h-1zM963 149h1v1h-1zM1014 149h1v1h-1zM962 150h1v1h-1zM1015 150h1v1h-1zM961 151h1v1h-1zM1016 151h1v1h-1zM960 152h1v1h-1zM1017 152h1v1h-1zM959 153h1v1h-1zM1018 153h1v1h-1zM958 154h1v1h-1zM1019 154h1v1h-1zM956 155h2v1h-2zM1020 155h2v1h-2zM955 156h1v1h-1zM1022 156h1v1h-1zM954 157h1v1h-1zM1023 157h1v1h-1zM953 158h1v1h-1zM1024 158h1v1h-1zM1062 158h16v1h-16zM952 159h1v1h-1zM1025 159h2v1h-2zM1057 159h5v1h-5zM1078 159h6v1h-6zM951 160h1v1h-1zM1027 160h2v1h-2zM1055 160h2v1h-2zM1084 160h4v1h-4zM951 161h1v1h-1zM1029 161h2v1h-2zM1054 161h1v1h-1zM1088 161h2v1h-2zM950 162h1v1h-1zM1031 162h2v1h-2zM1052 162h2v1h-2zM1090 162h2v1h-2zM949 163h1v1h-1zM1033 163h2v1h-2zM1050 163h2v1h-2zM1092 163h2v1h-2zM948 164h1v1h-1zM1035 164h2v1h-2zM1048 164h2v1h-2zM1094 164h1v1h-1zM947 165h1v1h-1zM1037 165h2v1h-2zM1046 165h2v1h-2zM1095 165h2v1h-2zM947 166h1v1h-1zM1039 166h2v1h-2zM1043 166h3v1h-3zM1097 166h1v1h-1zM946 167h1v1h-1zM1041 167h2v1h-2zM1098 167h1v1h-1zM1312 167h14v1h-14zM945 168h1v1h-1zM1099 168h1v1h-1zM1308 168h4v1h-4zM1326 168h8v1h-8zM944 169h1v1h-1zM1100 169h1v1h-1zM1185 169h5v1h-5zM1302 169h6v1h-6zM1334 169h5v1h-5zM944 170h1v1h-1zM1101 170h1v1h-1zM1183 170h2v1h-2zM1190 170h13v1h-13zM1296 170h6v1h-6zM1339 170h2v1h-2zM943 171h1v1h-1zM1102 171h1v1h-1zM1182 171h1v1h-1zM1203 171h2v1h-2zM1292 171h4v1h-4zM1341 171h2v1h-2zM943 172h1v1h-1zM1103 172h1v1h-1zM1180 172h2v1h-2zM1205 172h2v1h-2zM1288 172h4v1h-4zM1343 172h2v1h-2zM942 173h1v1h-1zM1104 173h1v1h-1zM1178 173h2v1h-2zM1207 173h2v1h-2zM1284 173h4v1h-4zM1345 173h3v1h-3zM941 174h1v1h-1zM1105 174h2v1h-2zM1176 174h2v1h-2zM1209 174h3v1h-3zM1281 174h3v1h-3zM1348 174h4v1h-4zM941 175h1v1h-1zM1107 175h2v1h-2zM1174 175h2v1h-2zM1212 175h4v1h-4zM1279 175h2v1h-2zM1352 175h2v1h-2zM940 176h1v1h-1zM1109 176h2v1h-2zM1171 176h3v1h-3zM1216 176h4v1h-4zM1277 176h2v1h-2zM939 177h1v1h-1zM1111 177h2v1h-2zM1168 177h3v1h-3zM1220 177h4v1h-4zM1275 177h2v1h-2zM939 178h1v1h-1zM1113 178h1v1h-1zM1164 178h4v1h-4zM1224 178h3v1h-3zM1272 178h3v1h-3zM938 179h1v1h-1zM1114 179h2v1h-2zM1160 179h4v1h-4zM1227 179h2v1h-2zM1270 179h2v1h-2zM938 180h1v1h-1zM1116 180h1v1h-1zM1156 180h4v1h-4zM1229 180h2v1h-2zM1267 180h3v1h-3zM937 181h1v1h-1zM1117 181h1v1h-1zM1150 181h6v1h-6zM1231 181h2v1h-2zM1265 181h2v1h-2zM936 182h1v1h-1zM1118 182h2v1h-2zM1142 182h8v1h-8zM1233 182h2v1h-2zM1263 182h2v1h-2zM935 183h1v1h-1zM1120 183h1v1h-1zM1134 183h8v1h-8zM1235 183h3v1h-3zM1261 183h2v1h-2zM935 184h1v1h-1zM1121 184h13v1h-13zM1238 184h2v1h-2zM1259 184h2v1h-2zM934 185h1v1h-1zM1240 185h6v1h-6zM1254 185h5v1h-5zM933 186h1v1h-1zM1246 186h8v1h-8zM932 187h1v1h-1zM931 188h1v1h-1zM931 189h1v1h-1zM930 190h1v1h-1zM929 191h1v1h-1zM928 192h1v1h-1zM927 193h1v1h-1zM926 194h1v1h-1zM925 195h1v1h-1zM925 196h1v1h-1zM924 197h1v1h-1zM923 198h1v1h-1zM922 199h1v1h-1zM921 200h1v1h-1zM920 201h1v1h-1zM919 202h1v1h-1zM919 203h1v1h-1zM918 204h1v1h-1zM917 205h1v1h-1zM916 206h1v1h-1zM915 207h1v1h-1zM915 208h1v1h-1zM914 209h1v1h-1zM913 210h1v1h-1zM912 211h1v1h-1zM912 212h1v1h-1zM911 213h1v1h-1zM910 214h1v1h-1zM909 215h1v1h-1zM909 216h1v1h-1zM908 217h1v1h-1zM907 218h1v1h-1zM906 219h1v1h-1zM906 220h1v1h-1zM905 221h1v1h-1zM904 222h1v1h-1zM904 223h1v1h-1zM903 224h1v1h-1zM902 225h1v1h-1zM901 226h1v1h-1zM901 227h1v1h-1zM900 228h1v1h-1zM899 229h1v1h-1zM898 230h1v1h-1zM898 231h1v1h-1zM897 232h1v1h-1zM896 233h1v1h-1zM894 234h2v1h-2zM893 235h1v1h-1zM892 236h1v1h-1zM890 237h2v1h-2zM889 238h1v1h-1zM888 239h1v1h-1zM887 240h1v1h-1zM886 241h1v1h-1zM885 242h1v1h-1zM885 243h1v1h-1zM884 244h1v1h-1zM883 245h1v1h-1zM882 246h1v1h-1zM881 247h1v1h-1zM880 248h1v1h-1zM880 249h1v1h-1zM879 250h1v1h-1zM879 251h1v1h-1zM878 252h1v1h-1zM878 253h1v1h-1zM877 254h1v1h-1zM877 255h1v1h-1zM876 256h1v1h-1zM876 257h1v1h-1zM875 258h1v1h-1zM875 259h1v1h-1zM874 260h1v1h-1zM874 261h1v1h-1zM873 262h1v1h-1zM873 263h1v1h-1zM872 264h1v1h-1zM872 265h1v1h-1zM871 266h1v1h-1zM871 267h1v1h-1zM870 268h1v1h-1zM869 269h1v1h-1zM869 270h1v1h-1zM868 271h1v1h-1zM867 272h1v1h-1zM867 273h1v1h-1zM866 274h1v1h-1zM866 275h1v1h-1zM865 276h1v1h-1zM864 277h1v1h-1zM864 278h1v1h-1zM863 279h1v1h-1zM863 280h1v1h-1zM862 281h1v1h-1zM861 282h1v1h-1zM861 283h1v1h-1zM860 284h1v1h-1zM859 285h1v1h-1zM859 286h1v1h-1zM858 287h1v1h-1zM858 288h1v1h-1zM857 289h1v1h-1zM856 290h1v1h-1zM856 291h1v1h-1zM855 292h1v1h-1zM855 293h1v1h-1zM854 294h1v1h-1zM854 295h1v1h-1zM853 296h1v1h-1zM853 297h1v1h-1zM852 298h1v1h-1zM852 299h1v1h-1zM851 300h1v1h-1zM851 301h1v1h-1zM850 302h1v1h-1zM850 303h1v1h-1zM849 304h1v1h-1zM848 305h1v1h-1zM847 306h1v1h-1zM846 307h1v1h-1zM845 308h1v1h-1zM62 309h8v1h-8zM78 309h8v1h-8zM845 309h1v1h-1zM54 310h8v1h-8zM70 310h8v1h-8zM86 310h6v1h-6zM844 310h1v1h-1zM48 311h6v1h-6zM92 311h4v1h-4zM843 311h1v1h-1zM46 312h2v1h-2zM96 312h6v1h-6zM842 312h1v1h-1zM43 313h3v1h-3zM102 313h6v1h-6zM841 313h1v1h-1zM40 314h3v1h-3zM108 314h4v1h-4zM840 314h1v1h-1zM38 315h2v1h-2zM112 315h6v1h-6zM839 315h1v1h-1zM35 316h3v1h-3zM118 316h5v1h-5zM838 316h1v1h-1zM32 317h3v1h-3zM123 317h3v1h-3zM837 317h1v1h-1zM30 318h2v1h-2zM126 318h2v1h-2zM836 318h1v1h-1zM27 319h3v1h-3zM128 319h3v1h-3zM835 319h1v1h-1zM24 320h3v1h-3zM131 320h3v1h-3zM834 320h1v1h-1zM20 321h4v1h-4zM134 321h2v1h-2zM833 321h1v1h-1zM16 322h4v1h-4zM136 322h4v1h-4zM832 322h1v1h-1zM14 323h2v1h-2zM140 323h4v1h-4zM150 323h5v1h-5zM830 323h2v1h-2zM11 324h3v1h-3zM144 324h6v1h-6zM155 324h3v1h-3zM829 324h1v1h-1zM8 325h3v1h-3zM158 325h2v1h-2zM828 325h1v1h-1zM6 326h2v1h-2zM160 326h3v1h-3zM826 326h2v1h-2zM3 327h3v1h-3zM163 327h3v1h-3zM825 327h1v1h-1zM1 328h2v1h-2zM166 328h2v1h-2zM824 328h1v1h-1zM168 329h3v1h-3zM823 329h1v1h-1zM171 330h2v1h-2zM822 330h1v1h-1zM173 331h2v1h-2zM820 331h2v1h-2zM175 332h2v1h-2zM819 332h1v1h-1zM177 333h3v1h-3zM818 333h1v1h-1zM180 334h4v1h-4zM817 334h1v1h-1zM184 335h4v1h-4zM816 335h1v1h-1zM188 336h4v1h-4zM814 336h2v1h-2zM192 337h4v1h-4zM813 337h1v1h-1zM196 338h4v1h-4zM812 338h1v1h-1zM200 339h3v1h-3zM810 339h2v1h-2zM203 340h3v1h-3zM808 340h2v1h-2zM206 341h2v1h-2zM804 341h4v1h-4zM208 342h3v1h-3zM782 342h6v1h-6zM800 342h4v1h-4zM211 343h3v1h-3zM777 343h5v1h-5zM788 343h4v1h-4zM796 343h4v1h-4zM214 344h2v1h-2zM775 344h2v1h-2zM792 344h4v1h-4zM216 345h3v1h-3zM773 345h2v1h-2zM219 346h2v1h-2zM771 346h2v1h-2zM221 347h2v1h-2zM769 347h2v1h-2zM223 348h2v1h-2zM767 348h2v1h-2zM225 349h1v1h-1zM766 349h1v1h-1zM226 350h2v1h-2zM764 350h2v1h-2zM228 351h1v1h-1zM762 351h2v1h-2zM229 352h1v1h-1zM761 352h1v1h-1zM230 353h2v1h-2zM760 353h1v1h-1zM232 354h1v1h-1zM759 354h1v1h-1zM233 355h1v1h-1zM758 355h1v1h-1zM234 356h2v1h-2zM756 356h2v1h-2zM236 357h1v1h-1zM755 357h1v1h-1zM237 358h1v1h-1zM754 358h1v1h-1zM238 359h2v1h-2zM753 359h1v1h-1zM240 360h1v1h-1zM751 360h2v1h-2zM241 361h1v1h-1zM749 361h2v1h-2zM242 362h2v1h-2zM747 362h2v1h-2zM244 363h2v1h-2zM745 363h2v1h-2zM246 364h1v1h-1zM743 364h2v1h-2zM247 365h2v1h-2zM741 365h2v1h-2zM249 366h1v1h-1zM739 366h2v1h-2zM250 367h1v1h-1zM737 367h2v1h-2zM251 368h1v1h-1zM736 368h1v1h-1zM252 369h2v1h-2zM734 369h2v1h-2zM254 370h1v1h-1zM733 370h1v1h-1zM255 371h1v1h-1zM732 371h1v1h-1zM256 372h1v1h-1zM730 372h2v1h-2zM257 373h1v1h-1zM729 373h1v1h-1zM258 374h1v1h-1zM727 374h2v1h-2zM259 375h1v1h-1zM726 375h1v1h-1zM260 376h2v1h-2zM724 376h2v1h-2zM262 377h1v1h-1zM722 377h2v1h-2zM263 378h1v1h-1zM721 378h1v1h-1zM264 379h1v1h-1zM719 379h2v1h-2zM265 380h1v1h-1zM717 380h2v1h-2zM266 381h1v1h-1zM715 381h2v1h-2zM267 382h1v1h-1zM713 382h2v1h-2zM268 383h2v1h-2zM712 383h1v1h-1zM270 384h1v1h-1zM710 384h2v1h-2zM271 385h1v1h-1zM709 385h1v1h-1zM272 386h1v1h-1zM708 386h1v1h-1zM273 387h1v1h-1zM706 387h2v1h-2zM274 388h2v1h-2zM705 388h1v1h-1zM276 389h1v1h-1zM704 389h1v1h-1zM277 390h1v1h-1zM702 390h2v1h-2zM278 391h2v1h-2zM701 391h1v1h-1zM280 392h1v1h-1zM700 392h1v1h-1zM281 393h2v1h-2zM698 393h2v1h-2zM283 394h2v1h-2zM697 394h1v1h-1zM285 395h2v1h-2zM695 395h2v1h-2zM287 396h2v1h-2zM693 396h2v1h-2zM289 397h1v1h-1zM691 397h2v1h-2zM290 398h2v1h-2zM689 398h2v1h-2zM292 399h2v1h-2zM688 399h1v1h-1zM294 400h1v1h-1zM686 400h2v1h-2zM295 401h2v1h-2zM685 401h1v1h-1zM297 402h1v1h-1zM684 402h1v1h-1zM298 403h1v1h-1zM682 403h2v1h-2zM299 404h1v1h-1zM681 404h1v1h-1zM300 405h1v1h-1zM680 405h1v1h-1zM301 406h1v1h-1zM679 406h1v1h-1zM302 407h1v1h-1zM678 407h1v1h-1zM303 408h1v1h-1zM677 408h1v1h-1zM304 409h1v1h-1zM676 409h1v1h-1zM305 410h1v1h-1zM675 410h1v1h-1zM306 411h1v1h-1zM674 411h1v1h-1zM307 412h1v1h-1zM673 412h1v1h-1zM308 413h2v1h-2zM672 413h1v1h-1zM310 414h1v1h-1zM670 414h2v1h-2zM311 415h1v1h-1zM669 415h1v1h-1zM312 416h1v1h-1zM668 416h1v1h-1zM313 417h1v1h-1zM666 417h2v1h-2zM314 418h1v1h-1zM665 418h1v1h-1zM315 419h1v1h-1zM664 419h1v1h-1zM316 420h2v1h-2zM662 420h2v1h-2zM318 421h1v1h-1zM661 421h1v1h-1zM319 422h1v1h-1zM660 422h1v1h-1zM320 423h1v1h-1zM658 423h2v1h-2zM321 424h1v1h-1zM657 424h1v1h-1zM322 425h1v1h-1zM656 425h1v1h-1zM323 426h1v1h-1zM655 426h1v1h-1zM324 427h2v1h-2zM654 427h1v1h-1zM326 428h1v1h-1zM652 428h2v1h-2zM327 429h1v1h-1zM651 429h1v1h-1zM328 430h1v1h-1zM650 430h1v1h-1zM329 431h1v1h-1zM649 431h1v1h-1zM330 432h1v1h-1zM648 432h1v1h-1zM331 433h1v1h-1zM647 433h1v1h-1zM332 434h2v1h-2zM646 434h1v1h-1zM334 435h1v1h-1zM644 435h2v1h-2zM335 436h1v1h-1zM643 436h1v1h-1zM336 437h1v1h-1zM642 437h1v1h-1zM337 438h1v1h-1zM641 438h1v1h-1zM338 439h1v1h-1zM640 439h1v1h-1zM339 440h1v1h-1zM639 440h1v1h-1zM340 441h1v1h-1zM638 441h1v1h-1zM341 442h1v1h-1zM637 442h1v1h-1zM341 443h1v1h-1zM636 443h1v1h-1zM342 444h1v1h-1zM635 444h1v1h-1zM343 445h1v1h-1zM634 445h1v1h-1zM344 446h1v1h-1zM633 446h1v1h-1zM345 447h1v1h-1zM632 447h1v1h-1zM346 448h1v1h-1zM631 448h1v1h-1zM347 449h1v1h-1zM630 449h1v1h-1zM348 450h1v1h-1zM629 450h1v1h-1zM349 451h1v1h-1zM629 451h1v1h-1zM349 452h1v1h-1zM628 452h1v1h-1zM350 453h1v1h-1zM627 453h1v1h-1zM351 454h1v1h-1zM626 454h1v1h-1zM352 455h1v1h-1zM625 455h1v1h-1zM353 456h1v1h-1zM624 456h1v1h-1zM354 457h1v1h-1zM623 457h1v1h-1zM355 458h1v1h-1zM622 458h1v1h-1zM356 459h1v1h-1zM621 459h1v1h-1zM357 460h1v1h-1zM621 460h1v1h-1zM358 461h1v1h-1zM620 461h1v1h-1zM359 462h1v1h-1zM619 462h1v1h-1zM360 463h1v1h-1zM618 463h1v1h-1zM361 464h1v1h-1zM617 464h1v1h-1zM362 465h1v1h-1zM615 465h2v1h-2zM363 466h1v1h-1zM614 466h1v1h-1zM364 467h2v1h-2zM612 467h2v1h-2zM366 468h1v1h-1zM610 468h2v1h-2zM367 469h1v1h-1zM609 469h1v1h-1zM368 470h1v1h-1zM607 470h2v1h-2zM369 471h1v1h-1zM606 471h1v1h-1zM370 472h2v1h-2zM604 472h2v1h-2zM372 473h2v1h-2zM602 473h2v1h-2zM374 474h1v1h-1zM601 474h1v1h-1zM375 475h2v1h-2zM599 475h2v1h-2zM377 476h1v1h-1zM597 476h2v1h-2zM378 477h2v1h-2zM595 477h2v1h-2zM380 478h2v1h-2zM592 478h3v1h-3zM382 479h1v1h-1zM588 479h4v1h-4zM383 480h2v1h-2zM576 480h12v1h-12zM385 481h3v1h-3zM572 481h4v1h-4zM388 482h4v1h-4zM566 482h6v1h-6zM392 483h3v1h-3zM560 483h6v1h-6zM395 484h3v1h-3zM556 484h4v1h-4zM398 485h2v1h-2zM550 485h6v1h-6zM400 486h4v1h-4zM544 486h6v1h-6zM404 487h4v1h-4zM542 487h2v1h-2zM408 488h3v1h-3zM539 488h3v1h-3zM411 489h3v1h-3zM536 489h3v1h-3zM414 490h2v1h-2zM532 490h4v1h-4zM416 491h14v1h-14zM529 491h3v1h-3zM430 492h5v1h-5zM527 492h2v1h-2zM435 493h2v1h-2zM526 493h1v1h-1zM437 494h2v1h-2zM524 494h2v1h-2zM439 495h2v1h-2zM522 495h2v1h-2zM441 496h2v1h-2zM520 496h2v1h-2zM443 497h2v1h-2zM516 497h4v1h-4zM445 498h2v1h-2zM510 498h6v1h-6zM447 499h2v1h-2zM504 499h6v1h-6zM449 500h2v1h-2zM502 500h2v1h-2zM451 501h2v1h-2zM499 501h3v1h-3zM453 502h2v1h-2zM496 502h3v1h-3zM455 503h2v1h-2zM492 503h4v1h-4zM457 504h5v1h-5zM488 504h4v1h-4zM462 505h8v1h-8zM484 505h4v1h-4zM470 506h14v1h-14z"/><path fill="#3cb371" d="M1313 209h9v1h-9zM1312 210h1v1h-1zM1322 210h2v1h-2zM1281 211h2v1h-2zM1310 211h2v1h-2zM1324 211h2v1h-2zM1280 212h1v1h-1zM1283 212h3v1h-3zM1309 212h1v1h-1zM1326 212h1v1h-1zM1280 213h1v1h-1zM1286 213h2v1h-2zM1308 213h1v1h-1zM1327 213h2v1h-2zM1279 214h1v1h-1zM1288 214h6v1h-6zM1306 214h2v1h-2zM1329 214h3v1h-3zM1279 215h1v1h-1zM1294 215h12v1h-12zM1332 215h4v1h-4zM1278 216h1v1h-1zM1336 216h3v1h-3zM1278 217h1v1h-1zM1339 217h2v1h-2zM1277 218h1v1h-1zM1341 218h2v1h-2zM1277 219h1v1h-1zM1343 219h2v1h-2zM1276 220h1v1h-1zM1345 220h2v1h-2zM1276 221h1v1h-1zM1347 221h2v1h-2zM1275 222h1v1h-1zM1349 222h2v1h-2zM1275 223h1v1h-1zM1351 223h2v1h-2zM1274 224h1v1h-1zM1353 224h1v1h-1zM1274 225h1v1h-1zM1273 226h1v1h-1zM1271 227h2v1h-2zM1270 228h1v1h-1zM1268 229h2v1h-2zM1266 230h2v1h-2zM1265 231h1v1h-1zM1264 232h1v1h-1zM1262 233h2v1h-2zM993 234h1v1h-1zM1261 234h1v1h-1zM992 235h1v1h-1zM994 235h1v1h-1zM1260 235h1v1h-1zM991 236h1v1h-1zM995 236h1v1h-1zM1258 236h2v1h-2zM990 237h1v1h-1zM996 237h1v1h-1zM1222 237h8v1h-8zM1256 237h2v1h-2zM989 238h1v1h-1zM997 238h1v1h-1zM1214 238h8v1h-8zM1230 238h16v1h-16zM1252 238h4v1h-4zM989 239h1v1h-1zM998 239h1v1h-1zM1208 239h6v1h-6zM1246 239h6v1h-6zM988 240h1v1h-1zM999 240h1v1h-1zM1204 240h4v1h-4zM987 241h1v1h-1zM1000 241h1v1h-1zM1185 241h19v1h-19zM986 242h1v1h-1zM1001 242h1v1h-1zM1184 242h1v1h-1zM985 243h1v1h-1zM1002 243h2v1h-2zM1182 243h2v1h-2zM984 244h1v1h-1zM1004 244h1v1h-1zM1181 244h1v1h-1zM983 245h1v1h-1zM1005 245h1v1h-1zM1062 245h24v1h-24zM1180 245h1v1h-1zM982 246h1v1h-1zM1006 246h2v1h-2zM1057 246h5v1h-5zM1086 246h4v1h-4zM1178 246h2v1h-2zM980 247h2v1h-2zM1008 247h1v1h-1zM1056 247h1v1h-1zM1090 247h2v1h-2zM1177 247h1v1h-1zM979 248h1v1h-1zM1009 248h1v1h-1zM1055 248h1v1h-1zM1092 248h2v1h-2zM1176 248h1v1h-1zM978 249h1v1h-1zM1010 249h1v1h-1zM1054 249h1v1h-1zM1094 249h1v1h-1zM1175 249h1v1h-1zM977 250h1v1h-1zM1011 250h1v1h-1zM1053 250h1v1h-1zM1095 250h2v1h-2zM1174 250h1v1h-1zM976 251h1v1h-1zM1012 251h1v1h-1zM1053 251h1v1h-1zM1097 251h3v1h-3zM1173 251h1v1h-1zM974 252h2v1h-2zM1013 252h1v1h-1zM1052 252h1v1h-1zM1100 252h4v1h-4zM1173 252h1v1h-1zM973 253h1v1h-1zM1013 253h1v1h-1zM1051 253h1v1h-1zM1104 253h3v1h-3zM1172 253h1v1h-1zM972 254h1v1h-1zM1014 254h1v1h-1zM1050 254h1v1h-1zM1107 254h2v1h-2zM1171 254h1v1h-1zM970 255h2v1h-2zM1015 255h1v1h-1zM1041 255h9v1h-9zM1109 255h2v1h-2zM1170 255h1v1h-1zM969 256h1v1h-1zM1016 256h1v1h-1zM1040 256h1v1h-1zM1111 256h2v1h-2zM1168 256h2v1h-2zM969 257h1v1h-1zM1017 257h1v1h-1zM1038 257h2v1h-2zM1113 257h1v1h-1zM1164 257h4v1h-4zM968 258h1v1h-1zM1018 258h1v1h-1zM1037 258h1v1h-1zM1114 258h1v1h-1zM1161 258h3v1h-3zM968 259h1v1h-1zM1019 259h1v1h-1zM1036 259h1v1h-1zM1115 259h1v1h-1zM1159 259h2v1h-2zM968 260h1v1h-1zM1020 260h2v1h-2zM1034 260h2v1h-2zM1116 260h1v1h-1zM1157 260h2v1h-2zM967 261h1v1h-1zM1022 261h1v1h-1zM1032 261h2v1h-2zM1117 261h1v1h-1zM1155 261h2v1h-2zM967 262h1v1h-1zM1023 262h1v1h-1zM1030 262h2v1h-2zM1118 262h1v1h-1zM1152 262h3v1h-3zM967 263h1v1h-1zM1024 263h1v1h-1zM1027 263h3v1h-3zM1119 263h1v1h-1zM1148 263h4v1h-4zM966 264h1v1h-1zM1025 264h2v1h-2zM1120 264h1v1h-1zM1142 264h6v1h-6zM966 265h1v1h-1zM1121 265h21v1h-21zM966 266h1v1h-1zM965 267h1v1h-1zM965 268h1v1h-1zM965 269h1v1h-1zM964 270h1v1h-1zM964 271h1v1h-1zM964 272h1v1h-1zM963 273h1v1h-1zM963 274h1v1h-1zM963 275h1v1h-1zM962 276h1v1h-1zM962 277h1v1h-1zM962 278h1v1h-1zM961 279h1v1h-1zM961 280h1v1h-1zM961 281h1v1h-1zM960 282h1v1h-1zM960 283h1v1h-1zM959 284h1v1h-1zM959 285h1v1h-1zM959 286h1v1h-1zM958 287h1v1h-1zM958 288h1v1h-1zM957 289h1v1h-1zM957 290h1v1h-1zM957 291h1v1h-1zM956 292h1v1h-1zM956 293h1v1h-1zM955 294h1v1h-1zM955 295h1v1h-1zM955 296h1v1h-1zM954 297h1v1h-1zM954 298h1v1h-1zM953 299h1v1h-1zM953 300h1v1h-1zM953 301h1v1h-1zM952 302h1v1h-1zM952 303h1v1h-1zM952 304h1v1h-1zM952 305h1v1h-1zM951 306h1v1h-1zM951 307h1v1h-1zM951 308h1v1h-1zM951 309h1v1h-1zM950 310h1v1h-1zM950 311h1v1h-1zM950 312h1v1h-1zM949 313h1v1h-1zM949 314h1v1h-1zM949 315h1v1h-1zM949 316h1v1h-1zM948 317h1v1h-1zM948 318h1v1h-1zM948 319h1v1h-1zM947 320h1v1h-1zM947 321h1v1h-1zM947 322h1v1h-1zM947 323h1v1h-1zM946 324h1v1h-1zM946 325h1v1h-1zM946 326h1v1h-1zM946 327h1v1h-1zM945 328h1v1h-1zM945 329h1v1h-1zM945 330h1v1h-1zM944 331h1v1h-1zM944 332h1v1h-1zM944 333h1v1h-1zM943 334h1v1h-1zM943 335h1v1h-1zM942 336h1v1h-1zM942 337h1v1h-1zM942 338h1v1h-1zM941 339h1v1h-1zM941 340h1v1h-1zM941 341h1v1h-1zM940 342h1v1h-1zM940 343h1v1h-1zM65 344h2v1h-2zM940 344h1v1h-1zM64 345h1v1h-1zM67 345h3v1h-3zM80 345h4v1h-4zM939 345h1v1h-1zM63 346h1v1h-1zM70 346h2v1h-2zM76 346h4v1h-4zM84 346h4v1h-4zM128 346h20v1h-20zM939 346h1v1h-1zM62 347h1v1h-1zM72 347h4v1h-4zM88 347h6v1h-6zM110 347h8v1h-8zM124 347h4v1h-4zM148 347h4v1h-4zM938 347h1v1h-1zM61 348h1v1h-1zM94 348h16v1h-16zM118 348h6v1h-6zM152 348h3v1h-3zM938 348h1v1h-1zM61 349h1v1h-1zM155 349h2v1h-2zM938 349h1v1h-1zM60 350h1v1h-1zM157 350h2v1h-2zM937 350h1v1h-1zM59 351h1v1h-1zM159 351h2v1h-2zM937 351h1v1h-1zM58 352h1v1h-1zM161 352h1v1h-1zM937 352h1v1h-1zM57 353h1v1h-1zM162 353h2v1h-2zM936 353h1v1h-1zM55 354h2v1h-2zM164 354h1v1h-1zM936 354h1v1h-1zM53 355h2v1h-2zM165 355h1v1h-1zM935 355h1v1h-1zM51 356h2v1h-2zM166 356h2v1h-2zM935 356h1v1h-1zM49 357h2v1h-2zM168 357h1v1h-1zM934 357h1v1h-1zM47 358h2v1h-2zM169 358h1v1h-1zM934 358h1v1h-1zM45 359h2v1h-2zM170 359h2v1h-2zM933 359h1v1h-1zM43 360h2v1h-2zM172 360h2v1h-2zM933 360h1v1h-1zM41 361h2v1h-2zM174 361h1v1h-1zM933 361h1v1h-1zM40 362h1v1h-1zM175 362h2v1h-2zM932 362h1v1h-1zM40 363h1v1h-1zM177 363h1v1h-1zM932 363h1v1h-1zM39 364h1v1h-1zM178 364h2v1h-2zM931 364h1v1h-1zM38 365h1v1h-1zM180 365h2v1h-2zM931 365h1v1h-1zM38 366h1v1h-1zM182 366h1v1h-1zM930 366h1v1h-1zM37 367h1v1h-1zM183 367h2v1h-2zM930 367h1v1h-1zM36 368h1v1h-1zM185 368h9v1h-9zM929 368h1v1h-1zM36 369h1v1h-1zM194 369h2v1h-2zM929 369h1v1h-1zM35 370h1v1h-1zM196 370h2v1h-2zM928 370h1v1h-1zM34 371h1v1h-1zM198 371h1v1h-1zM928 371h1v1h-1zM34 372h1v1h-1zM199 372h2v1h-2zM927 372h1v1h-1zM33 373h1v1h-1zM201 373h1v1h-1zM927 373h1v1h-1zM32 374h1v1h-1zM202 374h1v1h-1zM926 374h1v1h-1zM32 375h1v1h-1zM203 375h1v1h-1zM926 375h1v1h-1zM31 376h1v1h-1zM203 376h1v1h-1zM925 376h1v1h-1zM30 377h1v1h-1zM204 377h1v1h-1zM925 377h1v1h-1zM30 378h1v1h-1zM205 378h1v1h-1zM924 378h1v1h-1zM29 379h1v1h-1zM206 379h1v1h-1zM924 379h1v1h-1zM28 380h1v1h-1zM207 380h1v1h-1zM923 380h1v1h-1zM28 381h1v1h-1zM207 381h1v1h-1zM923 381h1v1h-1zM27 382h1v1h-1zM208 382h1v1h-1zM922 382h1v1h-1zM26 383h1v1h-1zM209 383h1v1h-1zM922 383h1v1h-1zM26 384h1v1h-1zM210 384h1v1h-1zM921 384h1v1h-1zM25 385h1v1h-1zM210 385h1v1h-1zM920 385h1v1h-1zM23 386h2v1h-2zM211 386h1v1h-1zM919 386h1v1h-1zM22 387h1v1h-1zM212 387h1v1h-1zM919 387h1v1h-1zM20 388h2v1h-2zM213 388h1v1h-1zM918 388h1v1h-1zM18 389h2v1h-2zM213 389h1v1h-1zM792 389h3v1h-3zM917 389h1v1h-1zM17 390h1v1h-1zM214 390h1v1h-1zM788 390h4v1h-4zM795 390h2v1h-2zM916 390h1v1h-1zM16 391h1v1h-1zM215 391h1v1h-1zM782 391h6v1h-6zM797 391h2v1h-2zM915 391h1v1h-1zM14 392h2v1h-2zM216 392h1v1h-1zM777 392h5v1h-5zM799 392h2v1h-2zM915 392h1v1h-1zM13 393h1v1h-1zM216 393h1v1h-1zM776 393h1v1h-1zM801 393h2v1h-2zM914 393h1v1h-1zM12 394h1v1h-1zM217 394h1v1h-1zM775 394h1v1h-1zM803 394h3v1h-3zM913 394h1v1h-1zM10 395h2v1h-2zM218 395h1v1h-1zM774 395h1v1h-1zM806 395h2v1h-2zM912 395h1v1h-1zM9 396h1v1h-1zM218 396h1v1h-1zM773 396h1v1h-1zM808 396h2v1h-2zM912 396h1v1h-1zM7 397h2v1h-2zM219 397h1v1h-1zM773 397h1v1h-1zM810 397h1v1h-1zM911 397h1v1h-1zM6 398h1v1h-1zM220 398h1v1h-1zM772 398h1v1h-1zM810 398h1v1h-1zM911 398h1v1h-1zM4 399h2v1h-2zM221 399h1v1h-1zM771 399h1v1h-1zM811 399h1v1h-1zM910 399h1v1h-1zM2 400h2v1h-2zM221 400h1v1h-1zM770 400h1v1h-1zM811 400h1v1h-1zM910 400h1v1h-1zM1 401h1v1h-1zM222 401h1v1h-1zM769 401h1v1h-1zM812 401h1v1h-1zM909 401h1v1h-1zM223 402h1v1h-1zM768 402h1v1h-1zM812 402h1v1h-1zM909 402h1v1h-1zM224 403h1v1h-1zM768 403h1v1h-1zM813 403h1v1h-1zM908 403h1v1h-1zM224 404h1v1h-1zM767 404h1v1h-1zM814 404h1v1h-1zM908 404h1v1h-1zM225 405h1v1h-1zM766 405h1v1h-1zM814 405h1v1h-1zM907 405h1v1h-1zM225 406h1v1h-1zM766 406h1v1h-1zM815 406h1v1h-1zM907 406h1v1h-1zM226 407h1v1h-1zM765 407h1v1h-1zM815 407h1v1h-1zM906 407h1v1h-1zM226 408h1v1h-1zM764 408h1v1h-1zM816 408h1v1h-1zM833 408h1v1h-1zM906 408h1v1h-1zM227 409h1v1h-1zM764 409h1v1h-1zM816 409h1v1h-1zM831 409h2v1h-2zM834 409h1v1h-1zM905 409h1v1h-1zM227 410h1v1h-1zM763 410h1v1h-1zM817 410h3v1h-3zM829 410h2v1h-2zM834 410h1v1h-1zM905 410h1v1h-1zM228 411h1v1h-1zM762 411h1v1h-1zM820 411h4v1h-4zM827 411h2v1h-2zM835 411h1v1h-1zM905 411h1v1h-1zM228 412h1v1h-1zM762 412h1v1h-1zM824 412h3v1h-3zM835 412h1v1h-1zM904 412h1v1h-1zM229 413h1v1h-1zM761 413h1v1h-1zM836 413h1v1h-1zM904 413h1v1h-1zM229 414h1v1h-1zM760 414h1v1h-1zM836 414h1v1h-1zM903 414h1v1h-1zM230 415h1v1h-1zM759 415h1v1h-1zM837 415h1v1h-1zM903 415h1v1h-1zM230 416h1v1h-1zM759 416h1v1h-1zM837 416h1v1h-1zM903 416h1v1h-1zM231 417h1v1h-1zM758 417h1v1h-1zM838 417h1v1h-1zM902 417h1v1h-1zM231 418h1v1h-1zM757 418h1v1h-1zM838 418h1v1h-1zM902 418h1v1h-1zM232 419h1v1h-1zM756 419h1v1h-1zM839 419h1v1h-1zM901 419h1v1h-1zM232 420h1v1h-1zM755 420h1v1h-1zM839 420h1v1h-1zM901 420h1v1h-1zM233 421h1v1h-1zM755 421h1v1h-1zM840 421h1v1h-1zM901 421h1v1h-1zM233 422h1v1h-1zM754 422h1v1h-1zM840 422h1v1h-1zM900 422h1v1h-1zM233 423h1v1h-1zM753 423h1v1h-1zM841 423h1v1h-1zM900 423h1v1h-1zM234 424h1v1h-1zM752 424h1v1h-1zM842 424h1v1h-1zM899 424h1v1h-1zM234 425h1v1h-1zM752 425h1v1h-1zM842 425h1v1h-1zM899 425h1v1h-1zM235 426h1v1h-1zM751 426h1v1h-1zM843 426h1v1h-1zM899 426h1v1h-1zM235 427h1v1h-1zM751 427h1v1h-1zM844 427h1v1h-1zM898 427h1v1h-1zM236 428h1v1h-1zM750 428h1v1h-1zM844 428h1v1h-1zM898 428h1v1h-1zM236 429h1v1h-1zM749 429h1v1h-1zM845 429h1v1h-1zM897 429h1v1h-1zM237 430h1v1h-1zM749 430h1v1h-1zM846 430h1v1h-1zM897 430h1v1h-1zM237 431h1v1h-1zM748 431h1v1h-1zM846 431h1v1h-1zM896 431h1v1h-1zM237 432h1v1h-1zM747 432h1v1h-1zM847 432h1v1h-1zM896 432h1v1h-1zM238 433h1v1h-1zM747 433h1v1h-1zM848 433h1v1h-1zM895 433h1v1h-1zM238 434h1v1h-1zM746 434h1v1h-1zM848 434h1v1h-1zM895 434h1v1h-1zM239 435h1v1h-1zM746 435h1v1h-1zM849 435h1v1h-1zM894 435h1v1h-1zM239 436h1v1h-1zM745 436h1v1h-1zM849 436h1v1h-1zM894 436h1v1h-1zM240 437h1v1h-1zM744 437h1v1h-1zM850 437h1v1h-1zM893 437h1v1h-1zM240 438h1v1h-1zM744 438h1v1h-1zM850 438h1v1h-1zM892 438h1v1h-1zM241 439h1v1h-1zM743 439h1v1h-1zM851 439h1v1h-1zM892 439h1v1h-1zM241 440h1v1h-1zM743 440h1v1h-1zM851 440h1v1h-1zM891 440h1v1h-1zM242 441h1v1h-1zM742 441h1v1h-1zM851 441h1v1h-1zM891 441h1v1h-1zM243 442h1v1h-1zM742 442h1v1h-1zM852 442h1v1h-1zM890 442h1v1h-1zM243 443h1v1h-1zM741 443h1v1h-1zM852 443h1v1h-1zM890 443h1v1h-1zM244 444h1v1h-1zM741 444h1v1h-1zM853 444h1v1h-1zM889 444h1v1h-1zM245 445h1v1h-1zM740 445h1v1h-1zM853 445h1v1h-1zM888 445h1v1h-1zM246 446h1v1h-1zM740 446h1v1h-1zM853 446h1v1h-1zM888 446h1v1h-1zM247 447h1v1h-1zM739 447h1v1h-1zM854 447h1v1h-1zM887 447h1v1h-1zM247 448h1v1h-1zM739 448h1v1h-1zM854 448h1v1h-1zM887 448h1v1h-1zM248 449h1v1h-1zM738 449h1v1h-1zM855 449h1v1h-1zM886 449h1v1h-1zM249 450h1v1h-1zM738 450h1v1h-1zM855 450h1v1h-1zM885 450h1v1h-1zM250 451h1v1h-1zM737 451h1v1h-1zM855 451h1v1h-1zM885 451h1v1h-1zM250 452h1v1h-1zM736 452h1v1h-1zM856 452h1v1h-1zM884 452h1v1h-1zM251 453h1v1h-1zM736 453h1v1h-1zM856 453h1v1h-1zM883 453h1v1h-1zM251 454h1v1h-1zM735 454h1v1h-1zM857 454h1v1h-1zM883 454h1v1h-1zM252 455h1v1h-1zM735 455h1v1h-1zM857 455h1v1h-1zM882 455h1v1h-1zM253 456h1v1h-1zM734 456h1v1h-1zM858 456h2v1h-2zM882 456h1v1h-1zM253 457h1v1h-1zM734 457h1v1h-1zM860 457h1v1h-1zM881 457h1v1h-1zM254 458h1v1h-1zM733 458h1v1h-1zM861 458h1v1h-1zM880 458h1v1h-1zM255 459h1v1h-1zM733 459h1v1h-1zM862 459h2v1h-2zM879 459h1v1h-1zM255 460h1v1h-1zM732 460h1v1h-1zM864 460h1v1h-1zM878 460h1v1h-1zM256 461h1v1h-1zM732 461h1v1h-1zM865 461h2v1h-2zM877 461h1v1h-1zM256 462h1v1h-1zM731 462h1v1h-1zM867 462h2v1h-2zM876 462h1v1h-1zM257 463h1v1h-1zM731 463h1v1h-1zM869 463h2v1h-2zM875 463h1v1h-1zM258 464h1v1h-1zM730 464h1v1h-1zM871 464h2v1h-2zM874 464h1v1h-1zM259 465h1v1h-1zM730 465h1v1h-1zM873 465h1v1h-1zM260 466h1v1h-1zM729 466h1v1h-1zM261 467h1v1h-1zM729 467h1v1h-1zM261 468h1v1h-1zM728 468h1v1h-1zM262 469h1v1h-1zM728 469h1v1h-1zM263 470h1v1h-1zM727 470h1v1h-1zM264 471h1v1h-1zM727 471h1v1h-1zM265 472h1v1h-1zM726 472h1v1h-1zM266 473h1v1h-1zM725 473h1v1h-1zM266 474h1v1h-1zM725 474h1v1h-1zM267 475h1v1h-1zM724 475h1v1h-1zM268 476h1v1h-1zM723 476h1v1h-1zM269 477h1v1h-1zM723 477h1v1h-1zM269 478h1v1h-1zM722 478h1v1h-1zM270 479h1v1h-1zM722 479h1v1h-1zM271 480h1v1h-1zM721 480h1v1h-1zM272 481h1v1h-1zM720 481h1v1h-1zM272 482h1v1h-1zM720 482h1v1h-1zM273 483h2v1h-2zM719 483h1v1h-1zM275 484h3v1h-3zM718 484h1v1h-1zM278 485h2v1h-2zM718 485h1v1h-1zM280 486h14v1h-14zM717 486h1v1h-1zM294 487h4v1h-4zM716 487h1v1h-1zM298 488h1v1h-1zM716 488h1v1h-1zM298 489h1v1h-1zM715 489h1v1h-1zM299 490h1v1h-1zM714 490h1v1h-1zM300 491h1v1h-1zM714 491h1v1h-1zM300 492h1v1h-1zM713 492h1v1h-1zM301 493h1v1h-1zM712 493h1v1h-1zM302 494h1v1h-1zM711 494h1v1h-1zM302 495h1v1h-1zM710 495h1v1h-1zM303 496h1v1h-1zM709 496h1v1h-1zM304 497h1v1h-1zM709 497h1v1h-1zM304 498h1v1h-1zM708 498h1v1h-1zM305 499h1v1h-1zM707 499h1v1h-1zM306 500h2v1h-2zM706 500h1v1h-1zM308 501h1v1h-1zM705 501h1v1h-1zM309 502h1v1h-1zM704 502h1v1h-1zM310 503h2v1h-2zM703 503h1v1h-1zM312 504h1v1h-1zM702 504h1v1h-1zM313 505h1v1h-1zM701 505h1v1h-1zM314 506h2v1h-2zM700 506h1v1h-1zM316 507h1v1h-1zM699 507h1v1h-1zM317 508h1v1h-1zM698 508h1v1h-1zM318 509h2v1h-2zM697 509h1v1h-1zM320 510h1v1h-1zM696 510h1v1h-1zM321 511h1v1h-1zM694 511h2v1h-2zM322 512h1v1h-1zM693 512h1v1h-1zM322 513h1v1h-1zM692 513h1v1h-1zM323 514h1v1h-1zM690 514h2v1h-2zM324 515h1v1h-1zM688 515h2v1h-2zM325 516h1v1h-1zM686 516h2v1h-2zM325 517h1v1h-1zM683 517h3v1h-3zM326 518h1v1h-1zM614 518h4v1h-4zM681 518h2v1h-2zM327 519h1v1h-1zM608 519h6v1h-6zM618 519h1v1h-1zM680 519h1v1h-1zM328 520h1v1h-1zM604 520h4v1h-4zM619 520h1v1h-1zM679 520h1v1h-1zM328 521h1v1h-1zM600 521h4v1h-4zM620 521h1v1h-1zM678 521h1v1h-1zM329 522h1v1h-1zM576 522h12v1h-12zM598 522h2v1h-2zM621 522h1v1h-1zM676 522h2v1h-2zM330 523h1v1h-1zM572 523h4v1h-4zM588 523h4v1h-4zM595 523h3v1h-3zM622 523h1v1h-1zM675 523h1v1h-1zM331 524h1v1h-1zM566 524h6v1h-6zM592 524h3v1h-3zM623 524h1v1h-1zM674 524h1v1h-1zM332 525h1v1h-1zM558 525h8v1h-8zM624 525h1v1h-1zM673 525h1v1h-1zM333 526h1v1h-1zM528 526h6v1h-6zM550 526h8v1h-8zM625 526h1v1h-1zM672 526h1v1h-1zM333 527h1v1h-1zM524 527h4v1h-4zM534 527h16v1h-16zM626 527h1v1h-1zM672 527h1v1h-1zM334 528h1v1h-1zM521 528h3v1h-3zM626 528h1v1h-1zM671 528h1v1h-1zM335 529h1v1h-1zM519 529h2v1h-2zM627 529h1v1h-1zM670 529h1v1h-1zM336 530h1v1h-1zM518 530h1v1h-1zM627 530h1v1h-1zM669 530h1v1h-1zM337 531h1v1h-1zM516 531h2v1h-2zM628 531h1v1h-1zM669 531h1v1h-1zM338 532h1v1h-1zM514 532h2v1h-2zM628 532h1v1h-1zM668 532h1v1h-1zM338 533h1v1h-1zM513 533h1v1h-1zM629 533h1v1h-1zM667 533h1v1h-1zM339 534h1v1h-1zM512 534h1v1h-1zM629 534h1v1h-1zM666 534h1v1h-1zM340 535h1v1h-1zM510 535h2v1h-2zM630 535h1v1h-1zM666 535h1v1h-1zM340 536h1v1h-1zM509 536h1v1h-1zM630 536h1v1h-1zM665 536h1v1h-1zM341 537h1v1h-1zM508 537h1v1h-1zM631 537h1v1h-1zM664 537h1v1h-1zM342 538h1v1h-1zM506 538h2v1h-2zM631 538h1v1h-1zM663 538h1v1h-1zM342 539h1v1h-1zM505 539h1v1h-1zM632 539h1v1h-1zM662 539h1v1h-1zM343 540h1v1h-1zM503 540h2v1h-2zM632 540h1v1h-1zM660 540h2v1h-2zM344 541h1v1h-1zM502 541h1v1h-1zM633 541h2v1h-2zM659 541h1v1h-1zM344 542h1v1h-1zM500 542h2v1h-2zM635 542h2v1h-2zM658 542h1v1h-1zM345 543h1v1h-1zM498 543h2v1h-2zM637 543h2v1h-2zM656 543h2v1h-2zM346 544h2v1h-2zM457 544h5v1h-5zM470 544h8v1h-8zM486 544h12v1h-12zM639 544h2v1h-2zM654 544h2v1h-2zM348 545h1v1h-1zM456 545h1v1h-1zM462 545h8v1h-8zM478 545h8v1h-8zM641 545h5v1h-5zM651 545h3v1h-3zM349 546h1v1h-1zM455 546h1v1h-1zM646 546h5v1h-5zM350 547h2v1h-2zM454 547h1v1h-1zM352 548h1v1h-1zM453 548h1v1h-1zM353 549h2v1h-2zM452 549h1v1h-1zM355 550h2v1h-2zM451 550h1v1h-1zM357 551h2v1h-2zM450 551h1v1h-1zM359 552h2v1h-2zM449 552h1v1h-1zM361 553h1v1h-1zM448 553h1v1h-1zM362 554h2v1h-2zM447 554h1v1h-1zM364 555h2v1h-2zM446 555h1v1h-1zM366 556h1v1h-1zM444 556h2v1h-2zM367 557h2v1h-2zM443 557h1v1h-1zM369 558h27v1h-27zM442 558h1v1h-1zM396 559h4v1h-4zM406 559h8v1h-8zM422 559h20v1h-20zM400 560h6v1h-6zM414 560h8v1h-8z"/><rect x="1" y="268" width="1" height="37" fill="#000"/><rect x="-1" y="271" width="5" height="29" fill="#000"/><rect x="9" y="284" width="1" height="22" fill="#000"/><rect x="7" y="299" width="5" height="2" fill="#000"/><rect x="17" y="295" width="1" height="15" fill="#000"/><rect x="15" y="299" width="5" height="5" fill="#000"/><rect x="25" y="294" width="1" height="32" fill="#000"/><rect x="23" y="305" width="5" height="19" fill="#000"/><rect x="33" y="306" width="1" height="20" fill="#000"/><rect x="31" y="309" width="5" height="15" fill="#000"/><rect x="32" y="310" width="3" height="13" fill="#fff"/><rect x="41" y="306" width="1" height="17" fill="#000"/><rect x="39" y="309" width="5" height="12" fill="#000"/><rect x="49" y="317" width="1" height="38" fill="#000"/><rect x="47" y="318" width="5" height="26" fill="#000"/><rect x="57" y="330" width="1" height="19" fill="#000"/><rect x="55" y="336" width="5" height="7" fill="#000"/><rect x="56" y="337" width="3" height="5" fill="#fff"/><rect x="65" y="318" width="1" height="23" fill="#000"/><rect x="63" y="327" width="5" height="9" fill="#000"/><rect x="64" y="328" width="3" height="7" fill="#fff"/><rect x="73" y="325" width="1" height="13" fill="#000"/><rect x="71" y="327" width="5" height="9" fill="#000"/><rect x="81" y="317" width="1" height="19" fill="#000"/><rect x="79" y="323" width="5" height="13" fill="#000"/><rect x="80" y="324" width="3" height="11" fill="#fff"/><rect x="89" y="319" width="1" height="20" fill="#000"/><rect x="87" y="323" width="5" height="9" fill="#000"/><rect x="97" y="305" width="1" height="27" fill="#000"/><rect x="95" y="323" width="5" height="7" fill="#000"/><rect x="96" y="324" width="3" height="5" fill="#fff"/><rect x="105" y="308" width="1" height="20" fill="#000"/><rect x="103" y="317" width="5" height="6" fill="#000"/><rect x="104" y="318" width="3" height="4" fill="#fff"/><rect x="113" y="315" width="1" height="17" fill="#000"/><rect x="111" y="317" width="5" height="10" fill="#000"/><rect x="121" y="315" width="1" height="19" fill="#000"/><rect x="119" y="321" width="5" height="6" fill="#000"/><rect x="120" y="322" width="3" height="4" fill="#fff"/><rect x="129" y="318" width="1" height="14" fill="#000"/><rect x="127" y="321" width="5" height="7" fill="#000"/><rect x="137" y="327" width="1" height="16" fill="#000"/><rect x="135" y="327" width="5" height="12" fill="#000"/><rect x="145" y="320" width="1" height="20" fill="#000"/><rect x="143" y="327" width="5" height="12" fill="#000"/><rect x="144" y="328" width="3" height="10" fill="#fff"/><rect x="153" y="321" width="1" height="28" fill="#000"/><rect x="151" y="327" width="5" height="12" fill="#000"/><rect x="161" y="332" width="1" height="29" fill="#000"/><rect x="159" y="338" width="5" height="19" fill="#000"/><rect x="169" y="349" width="1" height="18" fill="#000"/><rect x="167" y="356" width="5" height="11" fill="#000"/><rect x="177" y="359" width="1" height="24" fill="#000"/><rect x="175" y="366" width="5" height="3" fill="#000"/><rect x="185" y="358" width="1" height="14" fill="#000"/><rect x="183" y="365" width="5" height="4" fill="#000"/><rect x="184" y="366" width="3" height="2" fill="#fff"/><rect x="193" y="341" width="1" height="32" fill="#000"/><rect x="191" y="349" width="5" height="17" fill="#000"/><rect x="192" y="350" width="3" height="15" fill="#fff"/><rect x="201" y="339" width="1" height="34" fill="#000"/><rect x="199" y="349" width="5" height="22" fill="#000"/><rect x="209" y="369" width="1" height="38" fill="#000"/><rect x="207" y="370" width="5" height="26" fill="#000"/><rect x="217" y="379" width="1" height="36" fill="#000"/><rect x="215" y="395" width="5" height="7" fill="#000"/><rect x="225" y="390" width="1" height="24" fill="#000"/><rect x="223" y="401" width="5" height="11" fill="#000"/><rect x="233" y="398" width="1" height="52" fill="#000"/><rect x="231" y="410" width="5" height="31" fill="#000"/><rect x="241" y="429" width="1" height="36" fill="#000"/><rect x="239" y="439" width="5" height="15" fill="#000"/><rect x="249" y="428" width="1" height="39" fill="#000"/><rect x="247" y="438" width="5" height="16" fill="#000"/><rect x="248" y="439" width="3" height="14" fill="#fff"/><rect x="257" y="438" width="1" height="33" fill="#000"/><rect x="255" y="438" width="5" height="20" fill="#000"/><rect x="265" y="444" width="1" height="27" fill="#000"/><rect x="263" y="448" width="5" height="10" fill="#000"/><rect x="264" y="449" width="3" height="8" fill="#fff"/><rect x="273" y="445" width="1" height="33" fill="#000"/><rect x="271" y="449" width="5" height="20" fill="#000"/><rect x="281" y="432" width="1" height="37" fill="#000"/><rect x="279" y="440" width="5" height="27" fill="#000"/><rect x="280" y="441" width="3" height="25" fill="#fff"/><rect x="289" y="404" width="1" height="40" fill="#000"/><rect x="287" y="415" width="5" height="26" fill="#000"/><rect x="288" y="416" width="3" height="24" fill="#fff"/><rect x="297" y="407" width="1" height="20" fill="#000"/><rect x="295" y="415" width="5" height="12" fill="#000"/><rect x="305" y="416" width="1" height="86" fill="#000"/><rect x="303" y="425" width="5" height="77" fill="#000"/><rect x="313" y="468" width="1" height="35" fill="#000"/><rect x="311" y="481" width="5" height="22" fill="#000"/><rect x="312" y="482" width="3" height="20" fill="#fff"/><rect x="321" y="475" width="1" height="16" fill="#000"/><rect x="319" y="482" width="5" height="1" fill="#000"/><rect x="329" y="474" width="1" height="52" fill="#000"/><rect x="327" y="482" width="5" height="32" fill="#000"/><rect x="337" y="488" width="1" height="31" fill="#000"/><rect x="335" y="511" width="5" height="3" fill="#000"/><rect x="336" y="512" width="3" height="1" fill="#fff"/><rect x="345" y="505" width="1" height="37" fill="#000"/><rect x="343" y="511" width="5" height="28" fill="#000"/><rect x="353" y="520" width="1" height="22" fill="#000"/><rect x="351" y="538" width="5" height="1" fill="#000"/><rect x="361" y="522" width="1" height="21" fill="#000"/><rect x="359" y="529" width="5" height="10" fill="#000"/><rect x="360" y="530" width="3" height="8" fill="#fff"/><rect x="369" y="527" width="1" height="8" fill="#000"/><rect x="367" y="529" width="5" height="3" fill="#000"/><rect x="377" y="494" width="1" height="38" fill="#000"/><rect x="375" y="502" width="5" height="30" fill="#000"/><rect x="376" y="503" width="3" height="28" fill="#fff"/><rect x="385" y="492" width="1" height="21" fill="#000"/><rect x="383" y="500" width="5" height="3" fill="#000"/><rect x="384" y="501" width="3" height="1" fill="#fff"/><rect x="393" y="486" width="1" height="27" fill="#000"/><rect x="391" y="498" width="5" height="3" fill="#000"/><rect x="392" y="499" width="3" height="1" fill="#fff"/><rect x="401" y="491" width="1" height="20" fill="#000"/><rect x="399" y="498" width="5" height="4" fill="#000"/><rect x="409" y="485" width="1" height="17" fill="#000"/><rect x="407" y="489" width="5" height="13" fill="#000"/><rect x="408" y="490" width="3" height="11" fill="#fff"/><rect x="417" y="486" width="1" height="16" fill="#000"/><rect x="415" y="488" width="5" height="13" fill="#000"/><rect x="425" y="453" width="1" height="59" fill="#000"/><rect x="423" y="462" width="5" height="39" fill="#000"/><rect x="424" y="463" width="3" height="37" fill="#fff"/><rect x="433" y="458" width="1" height="30" fill="#000"/><rect x="431" y="462" width="5" height="16" fill="#000"/><rect x="441" y="476" width="1" height="52" fill="#000"/><rect x="439" y="477" width="5" height="41" fill="#000"/><rect x="449" y="503" width="1" height="24" fill="#000"/><rect x="447" y="507" width="5" height="11" fill="#000"/><rect x="448" y="508" width="3" height="9" fill="#fff"/><rect x="457" y="504" width="1" height="9" fill="#000"/><rect x="455" y="507" width="5" height="6" fill="#000"/><rect x="465" y="499" width="1" height="69" fill="#000"/><rect x="463" y="514" width="5" height="28" fill="#000"/><rect x="464" y="515" width="3" height="26" fill="#fff"/><rect x="473" y="471" width="1" height="48" fill="#000"/><rect x="471" y="492" width="5" height="23" fill="#000"/><rect x="472" y="493" width="3" height="21" fill="#fff"/><rect x="481" y="459" width="1" height="35" fill="#000"/><rect x="479" y="479" width="5" height="14" fill="#000"/><rect x="480" y="480" width="3" height="12" fill="#fff"/><rect x="489" y="461" width="1" height="34" fill="#000"/><rect x="487" y="479" width="5" height="3" fill="#000"/><rect x="497" y="467" width="1" height="25" fill="#000"/><rect x="495" y="479" width="5" height="3" fill="#000"/><rect x="496" y="480" width="3" height="1" fill="#fff"/><rect x="505" y="470" width="1" height="25" fill="#000"/><rect x="503" y="479" width="5" height="3" fill="#000"/><rect x="513" y="473" width="1" height="33" fill="#000"/><rect x="511" y="481" width="5" height="23" fill="#000"/><rect x="521" y="481" width="1" height="33" fill="#000"/><rect x="519" y="485" width="5" height="19" fill="#000"/><rect x="520" y="486" width="3" height="17" fill="#fff"/><rect x="529" y="444" width="1" height="45" fill="#000"/><rect x="527" y="447" width="5" height="38" fill="#000"/><rect x="528" y="448" width="3" height="36" fill="#fff"/><rect x="537" y="446" width="1" height="20" fill="#000"/><rect x="535" y="447" width="5" height="5" fill="#000"/><rect x="545" y="447" width="1" height="16" fill="#000"/><rect x="543" y="451" width="5" height="5" fill="#000"/><rect x="553" y="449" width="1" height="19" fill="#000"/><rect x="551" y="455" width="5" height="7" fill="#000"/><rect x="561" y="441" width="1" height="31" fill="#000"/><rect x="559" y="461" width="5" height="10" fill="#000"/><rect x="569" y="459" width="1" height="22" fill="#000"/><rect x="567" y="464" width="5" height="7" fill="#000"/><rect x="568" y="465" width="3" height="5" fill="#fff"/><rect x="577" y="461" width="1" height="15" fill="#000"/><rect x="575" y="464" width="5" height="4" fill="#000"/><rect x="585" y="450" width="1" height="18" fill="#000"/><rect x="583" y="458" width="5" height="10" fill="#000"/><rect x="584" y="459" width="3" height="8" fill="#fff"/><rect x="593" y="439" width="1" height="19" fill="#000"/><rect x="591" y="439" width="5" height="19" fill="#000"/><rect x="592" y="440" width="3" height="17" fill="#fff"/><rect x="601" y="419" width="1" height="34" fill="#000"/><rect x="599" y="428" width="5" height="12" fill="#000"/><rect x="600" y="429" width="3" height="10" fill="#fff"/><rect x="609" y="410" width="1" height="26" fill="#000"/><rect x="607" y="422" width="5" height="5" fill="#000"/><rect x="608" y="423" width="3" height="3" fill="#fff"/><rect x="617" y="386" width="1" height="42" fill="#000"/><rect x="615" y="401" width="5" height="21" fill="#000"/><rect x="616" y="402" width="3" height="19" fill="#fff"/><rect x="625" y="340" width="1" height="64" fill="#000"/><rect x="623" y="344" width="5" height="59" fill="#000"/><rect x="624" y="345" width="3" height="57" fill="#fff"/><rect x="633" y="299" width="1" height="49" fill="#000"/><rect x="631" y="301" width="5" height="43" fill="#000"/><rect x="632" y="302" width="3" height="41" fill="#fff"/><rect x="641" y="297" width="1" height="62" fill="#000"/><rect x="639" y="300" width="5" height="30" fill="#000"/><rect x="649" y="321" width="1" height="23" fill="#000"/><rect x="647" y="327" width="5" height="4" fill="#000"/><rect x="648" y="328" width="3" height="2" fill="#fff"/><rect x="657" y="276" width="1" height="74" fill="#000"/><rect x="655" y="327" width="5" height="14" fill="#000"/><rect x="665" y="339" width="1" height="62" fill="#000"/><rect x="663" y="340" width="5" height="38" fill="#000"/><rect x="673" y="344" width="1" height="51" fill="#000"/><rect x="671" y="377" width="5" height="1" fill="#000"/><rect x="681" y="317" width="1" height="77" fill="#000"/><rect x="679" y="325" width="5" height="53" fill="#000"/><rect x="680" y="326" width="3" height="51" fill="#fff"/><rect x="689" y="314" width="1" height="25" fill="#000"/><rect x="687" y="324" width="5" height="2" fill="#000"/><rect x="697" y="342" width="1" height="33" fill="#000"/><rect x="695" y="361" width="5" height="13" fill="#000"/><rect x="696" y="362" width="3" height="11" fill="#fff"/><rect x="705" y="335" width="1" height="32" fill="#000"/><rect x="703" y="347" width="5" height="16" fill="#000"/><rect x="704" y="348" width="3" height="14" fill="#fff"/><rect x="713" y="330" width="1" height="36" fill="#000"/><rect x="711" y="345" width="5" height="4" fill="#000"/><rect x="712" y="346" width="3" height="2" fill="#fff"/><rect x="721" y="320" width="1" height="72" fill="#000"/><rect x="719" y="346" width="5" height="39" fill="#000"/><rect x="729" y="354" width="1" height="36" fill="#000"/><rect x="727" y="358" width="5" height="26" fill="#000"/><rect x="728" y="359" width="3" height="24" fill="#fff"/><rect x="737" y="356" width="1" height="14" fill="#000"/><rect x="735" y="357" width="5" height="2" fill="#000"/><rect x="745" y="347" width="1" height="45" fill="#000"/><rect x="743" y="356" width="5" height="22" fill="#000"/><rect x="753" y="343" width="1" height="38" fill="#000"/><rect x="751" y="346" width="5" height="32" fill="#000"/><rect x="752" y="347" width="3" height="30" fill="#fff"/><rect x="761" y="292" width="1" height="58" fill="#000"/><rect x="759" y="301" width="5" height="45" fill="#000"/><rect x="760" y="302" width="3" height="43" fill="#fff"/><rect x="769" y="294" width="1" height="39" fill="#000"/><rect x="767" y="301" width="5" height="16" fill="#000"/><rect x="777" y="308" width="1" height="21" fill="#000"/><rect x="775" y="318" width="5" height="5" fill="#000"/><rect x="785" y="317" width="1" height="16" fill="#000"/><rect x="783" y="321" width="5" height="10" fill="#000"/><rect x="793" y="304" width="1" height="42" fill="#000"/><rect x="791" y="327" width="5" height="10" fill="#000"/><rect x="801" y="278" width="1" height="65" fill="#000"/><rect x="799" y="288" width="5" height="48" fill="#000"/><rect x="800" y="289" width="3" height="46" fill="#fff"/><rect x="809" y="280" width="1" height="21" fill="#000"/><rect x="807" y="288" width="5" height="4" fill="#000"/><rect x="817" y="221" width="1" height="72" fill="#000"/><rect x="815" y="222" width="5" height="69" fill="#000"/><rect x="816" y="223" width="3" height="67" fill="#fff"/><rect x="825" y="199" width="1" height="35" fill="#000"/><rect x="823" y="224" width="5" height="7" fill="#000"/><rect x="833" y="228" width="1" height="35" fill="#000"/><rect x="831" y="230" width="5" height="29" fill="#000"/><rect x="841" y="164" width="1" height="98" fill="#000"/><rect x="839" y="166" width="5" height="89" fill="#000"/><rect x="840" y="167" width="3" height="87" fill="#fff"/><rect x="849" y="136" width="1" height="58" fill="#000"/><rect x="847" y="152" width="5" height="14" fill="#000"/><rect x="848" y="153" width="3" height="12" fill="#fff"/><rect x="857" y="55" width="1" height="107" fill="#000"/><rect x="855" y="61" width="5" height="92" fill="#000"/><rect x="856" y="62" width="3" height="90" fill="#fff"/><rect x="865" y="54" width="1" height="79" fill="#000"/><rect x="863" y="61" width="5" height="29" fill="#000"/><rect x="873" y="66" width="1" height="33" fill="#000"/><rect x="871" y="73" width="5" height="17" fill="#000"/><rect x="872" y="74" width="3" height="15" fill="#fff"/><rect x="881" y="59" width="1" height="26" fill="#000"/><rect x="879" y="70" width="5" height="4" fill="#000"/><rect x="880" y="71" width="3" height="2" fill="#fff"/><rect x="889" y="64" width="1" height="127" fill="#000"/><rect x="887" y="70" width="5" height="104" fill="#000"/><rect x="897" y="150" width="1" height="97" fill="#000"/><rect x="895" y="173" width="5" height="57" fill="#000"/><rect x="905" y="164" width="1" height="64" fill="#000"/><rect x="903" y="165" width="5" height="63" fill="#000"/><rect x="904" y="166" width="3" height="61" fill="#fff"/><rect x="913" y="108" width="1" height="84" fill="#000"/><rect x="911" y="120" width="5" height="45" fill="#000"/><rect x="912" y="121" width="3" height="43" fill="#fff"/><rect x="921" y="105" width="1" height="27" fill="#000"/><rect x="919" y="118" width="5" height="4" fill="#000"/><rect x="920" y="119" width="3" height="2" fill="#fff"/><rect x="929" y="91" width="1" height="79" fill="#000"/><rect x="927" y="113" width="5" height="21" fill="#000"/><rect x="937" y="91" width="1" height="64" fill="#000"/><rect x="935" y="114" width="5" height="20" fill="#000"/><rect x="936" y="115" width="3" height="18" fill="#fff"/><rect x="945" y="81" width="1" height="43" fill="#000"/><rect x="943" y="82" width="5" height="31" fill="#000"/><rect x="944" y="83" width="3" height="29" fill="#fff"/><rect x="953" y="82" width="1" height="122" fill="#000"/><rect x="951" y="82" width="5" height="45" fill="#000"/><rect x="961" y="116" width="1" height="42" fill="#000"/><rect x="959" y="127" width="5" height="16" fill="#000"/><rect x="969" y="137" width="1" height="36" fill="#000"/><rect x="967" y="142" width="5" height="21" fill="#000"/><rect x="977" y="161" width="1" height="49" fill="#000"/><rect x="975" y="163" width="5" height="17" fill="#000"/><rect x="985" y="170" width="1" height="46" fill="#000"/><rect x="983" y="179" width="5" height="14" fill="#000"/><rect x="993" y="190" width="1" height="38" fill="#000"/><rect x="991" y="192" width="5" height="33" fill="#000"/><rect x="1001" y="212" width="1" height="30" fill="#000"/><rect x="999" y="217" width="5" height="8" fill="#000"/><rect x="1000" y="218" width="3" height="6" fill="#fff"/><rect x="1009" y="198" width="1" height="26" fill="#000"/><rect x="1007" y="204" width="5" height="13" fill="#000"/><rect x="1008" y="205" width="3" height="11" fill="#fff"/><rect x="1017" y="204" width="1" height="42" fill="#000"/><rect x="1015" y="204" width="5" height="33" fill="#000"/><rect x="1025" y="208" width="1" height="56" fill="#000"/><rect x="1023" y="225" width="5" height="12" fill="#000"/><rect x="1024" y="226" width="3" height="10" fill="#fff"/><rect x="1033" y="155" width="1" height="84" fill="#000"/><rect x="1031" y="156" width="5" height="69" fill="#000"/><rect x="1032" y="157" width="3" height="67" fill="#fff"/><rect x="1041" y="129" width="1" height="36" fill="#000"/><rect x="1039" y="147" width="5" height="10" fill="#000"/><rect x="1040" y="148" width="3" height="8" fill="#fff"/><rect x="1049" y="99" width="1" height="71" fill="#000"/><rect x="1047" y="114" width="5" height="33" fill="#000"/><rect x="1048" y="115" width="3" height="31" fill="#fff"/><rect x="1057" y="103" width="1" height="43" fill="#000"/><rect x="1055" y="114" width="5" height="12" fill="#000"/><rect x="1065" y="122" width="1" height="24" fill="#000"/><rect x="1063" y="125" width="5" height="11" fill="#000"/><rect x="1073" y="107" width="1" height="56" fill="#000"/><rect x="1071" y="129" width="5" height="4" fill="#000"/><rect x="1072" y="130" width="3" height="2" fill="#fff"/><rect x="1081" y="105" width="1" height="59" fill="#000"/><rect x="1079" y="129" width="5" height="16" fill="#000"/><rect x="1089" y="141" width="1" height="52" fill="#000"/><rect x="1087" y="144" width="5" height="33" fill="#000"/><rect x="1097" y="165" width="1" height="46" fill="#000"/><rect x="1095" y="176" width="5" height="35" fill="#000"/><rect x="1105" y="193" width="1" height="40" fill="#000"/><rect x="1103" y="210" width="5" height="22" fill="#000"/><rect x="1113" y="208" width="1" height="25" fill="#000"/><rect x="1111" y="219" width="5" height="12" fill="#000"/><rect x="1112" y="220" width="3" height="10" fill="#fff"/><rect x="1121" y="197" width="1" height="50" fill="#000"/><rect x="1119" y="215" width="5" height="31" fill="#000"/><rect x="1129" y="164" width="1" height="87" fill="#000"/><rect x="1127" y="167" width="5" height="79" fill="#000"/><rect x="1128" y="168" width="3" height="77" fill="#fff"/><rect x="1137" y="154" width="1" height="33" fill="#000"/><rect x="1135" y="167" width="5" height="2" fill="#000"/><rect x="1145" y="147" width="1" height="29" fill="#000"/><rect x="1143" y="168" width="5" height="1" fill="#000"/><rect x="1153" y="165" width="1" height="44" fill="#000"/><rect x="1151" y="168" width="5" height="41" fill="#000"/><rect x="1161" y="155" width="1" height="49" fill="#000"/><rect x="1159" y="169" width="5" height="32" fill="#000"/><rect x="1160" y="170" width="3" height="30" fill="#fff"/><rect x="1169" y="157" width="1" height="31" fill="#000"/><rect x="1167" y="169" width="5" height="9" fill="#000"/><rect x="1177" y="152" width="1" height="27" fill="#000"/><rect x="1175" y="159" width="5" height="19" fill="#000"/><rect x="1176" y="160" width="3" height="17" fill="#fff"/><rect x="1185" y="139" width="1" height="25" fill="#000"/><rect x="1183" y="142" width="5" height="17" fill="#000"/><rect x="1184" y="143" width="3" height="15" fill="#fff"/><rect x="1193" y="141" width="1" height="23" fill="#000"/><rect x="1191" y="142" width="5" height="20" fill="#000"/><rect x="1201" y="151" width="1" height="27" fill="#000"/><rect x="1199" y="161" width="5" height="1" fill="#000"/><rect x="1209" y="158" width="1" height="33" fill="#000"/><rect x="1207" y="158" width="5" height="24" fill="#000"/><rect x="1217" y="167" width="1" height="23" fill="#000"/><rect x="1215" y="178" width="5" height="4" fill="#000"/><rect x="1216" y="179" width="3" height="2" fill="#fff"/><rect x="1225" y="157" width="1" height="27" fill="#000"/><rect x="1223" y="171" width="5" height="8" fill="#000"/><rect x="1224" y="172" width="3" height="6" fill="#fff"/><rect x="1233" y="162" width="1" height="60" fill="#000"/><rect x="1231" y="171" width="5" height="41" fill="#000"/><rect x="1241" y="184" width="1" height="28" fill="#000"/><rect x="1239" y="194" width="5" height="18" fill="#000"/><rect x="1240" y="195" width="3" height="16" fill="#fff"/><rect x="1249" y="192" width="1" height="15" fill="#000"/><rect x="1247" y="194" width="5" height="9" fill="#000"/><rect x="1257" y="189" width="1" height="38" fill="#000"/><rect x="1255" y="191" width="5" height="10" fill="#000"/><rect x="1256" y="192" width="3" height="8" fill="#fff"/><rect x="1265" y="148" width="1" height="47" fill="#000"/><rect x="1263" y="150" width="5" height="42" fill="#000"/><rect x="1264" y="151" width="3" height="40" fill="#fff"/><rect x="1273" y="146" width="1" height="29" fill="#000"/><rect x="1271" y="150" width="5" height="11" fill="#000"/><rect x="1281" y="152" width="1" height="22" fill="#000"/><rect x="1279" y="158" width="5" height="3" fill="#000"/><rect x="1280" y="159" width="3" height="1" fill="#fff"/><rect x="1289" y="116" width="1" height="43" fill="#000"/><rect x="1287" y="129" width="5" height="30" fill="#000"/><rect x="1288" y="130" width="3" height="28" fill="#fff"/><rect x="1297" y="128" width="1" height="20" fill="#000"/><rect x="1295" y="129" width="5" height="9" fill="#000"/><rect x="1305" y="100" width="1" height="54" fill="#000"/><rect x="1303" y="137" width="5" height="8" fill="#000"/><rect x="1313" y="134" width="1" height="33" fill="#000"/><rect x="1311" y="144" width="5" height="19" fill="#000"/><rect x="1321" y="144" width="1" height="27" fill="#000"/><rect x="1319" y="161" width="5" height="3" fill="#000"/><rect x="1329" y="136" width="1" height="72" fill="#000"/><rect x="1327" y="163" width="5" height="45" fill="#000"/><rect x="1337" y="180" width="1" height="32" fill="#000"/><rect x="1335" y="187" width="5" height="21" fill="#000"/><rect x="1336" y="188" width="3" height="19" fill="#fff"/><rect x="1345" y="184" width="1" height="28" fill="#000"/><rect x="1343" y="187" width="5" height="22" fill="#000"/><rect x="1353" y="207" width="1" height="3" fill="#000"/><rect x="1351" y="207" width="5" height="3" fill="#000"/><rect x="1352" y="208" width="3" height="1" fill="#fff"/></g><path d="M994,120 H1389 V248 H994 Z" fill="none" stroke="#ff0000" stroke-width="3" shape-rendering="crispEdges"/><rect x="1229" y="174" width="164" height="9" fill="#00ff00"/><rect x="1466" y="177" width="7" height="1" fill="#ff0000"/><rect x="1473.5" y="175.5" width="2" height="4" fill="#fff" stroke="#ff0000"/><rect x="1476.5" y="165.5" width="73" height="24" fill="#fff" stroke="#ff0000"/><text x="1477.5" y="186" font-family="DejaVu Sans Condensed, DejaVu Sans, sans-serif" font-size="22" fill="#ff0000" textLength="71" lengthAdjust="spacingAndGlyphs">7.10169</text><text x="1391" y="134" font-family="Liberation Serif, Noto Serif CJK SC, serif" font-weight="600" font-size="31" fill="#101010" textLength="160" lengthAdjust="spacingAndGlyphs" transform="translate(1,1)">多空转折点</text><text x="1391" y="134" font-family="Liberation Serif, Noto Serif CJK SC, serif" font-weight="600" font-size="31" fill="#00ff00" textLength="160" lengthAdjust="spacingAndGlyphs">多空转折点</text><path d="M1363,28 L1372,28 L1367.5,32.5 Z" fill="#c0c0c0" shape-rendering="auto"/><rect x="1611" y="49" width="2" height="1" fill="#000"/><text x="1616" y="53" font-family="DejaVu Sans Condensed, DejaVu Sans, sans-serif" font-size="9.5" fill="#000" textLength="33" lengthAdjust="spacingAndGlyphs">7.16670</text><rect x="1611" y="82" width="2" height="1" fill="#000"/><text x="1616" y="86" font-family="DejaVu Sans Condensed, DejaVu Sans, sans-serif" font-size="9.5" fill="#000" textLength="33" lengthAdjust="spacingAndGlyphs">7.15020</text><rect x="1611" y="114" width="2" height="1" fill="#000"/><text x="1616" y="118" font-family="DejaVu Sans Condensed, DejaVu Sans, sans-serif" font-size="9.5" fill="#000" textLength="33" lengthAdjust="spacingAndGlyphs">7.13370</text><rect x="1611" y="147" width="2" height="1" fill="#000"/><text x="1616" y="151" font-family="DejaVu Sans Condensed, DejaVu Sans, sans-serif" font-size="9.5" fill="#000" textLength="33" lengthAdjust="spacingAndGlyphs">7.11720</text><rect x="1611" y="181" width="2" height="1" fill="#000"/><text x="1616" y="185" font-family="DejaVu Sans Condensed, DejaVu Sans, sans-serif" font-size="9.5" fill="#000" textLength="33" lengthAdjust="spacingAndGlyphs">7.09970</text><rect x="1611" y="214" width="2" height="1" fill="#000"/><text x="1616" y="218" font-family="DejaVu Sans Condensed, DejaVu Sans, sans-serif" font-size="9.5" fill="#000" textLength="33" lengthAdjust="spacingAndGlyphs">7.08320</text><rect x="1611" y="247" width="2" height="1" fill="#000"/><text x="1616" y="251" font-family="DejaVu Sans Condensed, DejaVu Sans, sans-serif" font-size="9.5" fill="#000" textLength="33" lengthAdjust="spacingAndGlyphs">7.06620</text><rect x="1611" y="280" width="2" height="1" fill="#000"/><text x="1616" y="284" font-family="DejaVu Sans Condensed, DejaVu Sans, sans-serif" font-size="9.5" fill="#000" textLength="33" lengthAdjust="spacingAndGlyphs">7.04970</text><rect x="1611" y="313" width="2" height="1" fill="#000"/><text x="1616" y="317" font-family="DejaVu Sans Condensed, DejaVu Sans, sans-serif" font-size="9.5" fill="#000" textLength="33" lengthAdjust="spacingAndGlyphs">7.03270</text><rect x="1611" y="346" width="2" height="1" fill="#000"/><text x="1616" y="350" font-family="DejaVu Sans Condensed, DejaVu Sans, sans-serif" font-size="9.5" fill="#000" textLength="33" lengthAdjust="spacingAndGlyphs">7.01570</text><rect x="1611" y="379" width="2" height="1" fill="#000"/><text x="1616" y="383" font-family="DejaVu Sans Condensed, DejaVu Sans, sans-serif" font-size="9.5" fill="#000" textLength="33" lengthAdjust="spacingAndGlyphs">6.99920</text><rect x="1611" y="412" width="2" height="1" fill="#000"/><text x="1616" y="416" font-family="DejaVu Sans Condensed, DejaVu Sans, sans-serif" font-size="9.5" fill="#000" textLength="33" lengthAdjust="spacingAndGlyphs">6.98220</text><rect x="1611" y="445" width="2" height="1" fill="#000"/><text x="1616" y="449" font-family="DejaVu Sans Condensed, DejaVu Sans, sans-serif" font-size="9.5" fill="#000" textLength="33" lengthAdjust="spacingAndGlyphs">6.96570</text><rect x="1611" y="478" width="2" height="1" fill="#000"/><text x="1616" y="482" font-family="DejaVu Sans Condensed, DejaVu Sans, sans-serif" font-size="9.5" fill="#000" textLength="33" lengthAdjust="spacingAndGlyphs">6.94870</text><rect x="1611" y="511" width="2" height="1" fill="#000"/><text x="1616" y="515" font-family="DejaVu Sans Condensed, DejaVu Sans, sans-serif" font-size="9.5" fill="#000" textLength="33" lengthAdjust="spacingAndGlyphs">6.93220</text><rect x="1611" y="544" width="2" height="1" fill="#000"/><text x="1616" y="548" font-family="DejaVu Sans Condensed, DejaVu Sans, sans-serif" font-size="9.5" fill="#000" textLength="33" lengthAdjust="spacingAndGlyphs">6.91520</text><rect x="1611" y="577" width="2" height="1" fill="#000"/><text x="1616" y="581" font-family="DejaVu Sans Condensed, DejaVu Sans, sans-serif" font-size="9.5" fill="#000" textLength="33" lengthAdjust="spacingAndGlyphs">6.89870</text><rect x="1612" y="114" width="41" height="11" fill="#ff0000"/><text x="1616" y="124" font-family="DejaVu Sans Condensed, DejaVu Sans, sans-serif" font-size="9.5" fill="#fff" textLength="33" lengthAdjust="spacingAndGlyphs">7.13062</text><rect x="1612" y="142" width="41" height="11" fill="#ff0000"/><text x="1616" y="152" font-family="DejaVu Sans Condensed, DejaVu Sans, sans-serif" font-size="9.5" fill="#fff" textLength="33" lengthAdjust="spacingAndGlyphs">7.11641</text><rect x="1612" y="171" width="41" height="11" fill="#ffa500"/><text x="1616" y="181" font-family="DejaVu Sans Condensed, DejaVu Sans, sans-serif" font-size="9.5" fill="#fff" textLength="33" lengthAdjust="spacingAndGlyphs">7.10169</text><rect x="1612" y="202" width="41" height="11" fill="#000000"/><text x="1616" y="212" font-family="DejaVu Sans Condensed, DejaVu Sans, sans-serif" font-size="9.5" fill="#fff" textLength="33" lengthAdjust="spacingAndGlyphs">7.08637</text><rect x="1612" y="240" width="41" height="11" fill="#0000ff"/><text x="1616" y="250" font-family="DejaVu Sans Condensed, DejaVu Sans, sans-serif" font-size="9.5" fill="#fff" textLength="33" lengthAdjust="spacingAndGlyphs">7.06668</text><rect x="1612" y="273" width="41" height="11" fill="#0000ff"/><text x="1616" y="283" font-family="DejaVu Sans Condensed, DejaVu Sans, sans-serif" font-size="9.5" fill="#fff" textLength="33" lengthAdjust="spacingAndGlyphs">7.04994</text><rect x="1" y="658" width="1" height="33" fill="#c0c0c0"/><rect x="9" y="659" width="1" height="32" fill="#c0c0c0"/><rect x="17" y="661" width="1" height="30" fill="#c0c0c0"/><rect x="25" y="665" width="1" height="26" fill="#c0c0c0"/><rect x="33" y="667" width="1" height="24" fill="#c0c0c0"/><rect x="41" y="670" width="1" height="21" fill="#c0c0c0"/><rect x="49" y="675" width="1" height="16" fill="#c0c0c0"/><rect x="57" y="678" width="1" height="13" fill="#c0c0c0"/><rect x="65" y="680" width="1" height="11" fill="#c0c0c0"/><rect x="73" y="682" width="1" height="9" fill="#c0c0c0"/><rect x="81" y="683" width="1" height="8" fill="#c0c0c0"/><rect x="89" y="684" width="1" height="7" fill="#c0c0c0"/><rect x="97" y="685" width="1" height="6" fill="#c0c0c0"/><rect x="105" y="685" width="1" height="6" fill="#c0c0c0"/><rect x="113" y="685" width="1" height="6" fill="#c0c0c0"/><rect x="121" y="686" width="1" height="5" fill="#c0c0c0"/><rect x="129" y="686" width="1" height="5" fill="#c0c0c0"/><rect x="137" y="688" width="1" height="3" fill="#c0c0c0"/><rect x="145" y="688" width="1" height="3" fill="#c0c0c0"/><rect x="153" y="690" width="1" height="1" fill="#c0c0c0"/><rect x="161" y="690" width="1" height="4" fill="#c0c0c0"/><rect x="169" y="690" width="1" height="7" fill="#c0c0c0"/><rect x="177" y="690" width="1" height="10" fill="#c0c0c0"/><rect x="185" y="690" width="1" height="11" fill="#c0c0c0"/><rect x="193" y="690" width="1" height="11" fill="#c0c0c0"/><rect x="201" y="690" width="1" height="13" fill="#c0c0c0"/><rect x="209" y="690" width="1" height="16" fill="#c0c0c0"/><rect x="217" y="690" width="1" height="20" fill="#c0c0c0"/><rect x="225" y="690" width="1" height="23" fill="#c0c0c0"/><rect x="233" y="690" width="1" height="29" fill="#c0c0c0"/><rect x="241" y="690" width="1" height="34" fill="#c0c0c0"/><rect x="249" y="690" width="1" height="36" fill="#c0c0c0"/><rect x="257" y="690" width="1" height="39" fill="#c0c0c0"/><rect x="265" y="690" width="1" height="40" fill="#c0c0c0"/><rect x="273" y="690" width="1" height="43" fill="#c0c0c0"/><rect x="281" y="690" width="1" height="42" fill="#c0c0c0"/><rect x="289" y="690" width="1" height="38" fill="#c0c0c0"/><rect x="297" y="690" width="1" height="35" fill="#c0c0c0"/><rect x="305" y="690" width="1" height="40" fill="#c0c0c0"/><rect x="313" y="690" width="1" height="42" fill="#c0c0c0"/><rect x="321" y="690" width="1" height="43" fill="#c0c0c0"/><rect x="329" y="690" width="1" height="46" fill="#c0c0c0"/><rect x="337" y="690" width="1" height="48" fill="#c0c0c0"/><rect x="345" y="690" width="1" height="52" fill="#c0c0c0"/><rect x="353" y="690" width="1" height="54" fill="#c0c0c0"/><rect x="361" y="690" width="1" height="55" fill="#c0c0c0"/><rect x="369" y="690" width="1" height="55" fill="#c0c0c0"/><rect x="377" y="690" width="1" height="51" fill="#c0c0c0"/><rect x="385" y="690" width="1" height="47" fill="#c0c0c0"/><rect x="393" y="690" width="1" height="44" fill="#c0c0c0"/><rect x="401" y="690" width="1" height="41" fill="#c0c0c0"/><rect x="409" y="690" width="1" height="37" fill="#c0c0c0"/><rect x="417" y="690" width="1" height="34" fill="#c0c0c0"/><rect x="425" y="690" width="1" height="28" fill="#c0c0c0"/><rect x="433" y="690" width="1" height="25" fill="#c0c0c0"/><rect x="441" y="690" width="1" height="25" fill="#c0c0c0"/><rect x="449" y="690" width="1" height="25" fill="#c0c0c0"/><rect x="457" y="690" width="1" height="25" fill="#c0c0c0"/><rect x="465" y="690" width="1" height="25" fill="#c0c0c0"/><rect x="473" y="690" width="1" height="22" fill="#c0c0c0"/><rect x="481" y="690" width="1" height="18" fill="#c0c0c0"/><rect x="489" y="690" width="1" height="15" fill="#c0c0c0"/><rect x="497" y="690" width="1" height="13" fill="#c0c0c0"/><rect x="505" y="690" width="1" height="11" fill="#c0c0c0"/><rect x="513" y="690" width="1" height="12" fill="#c0c0c0"/><rect x="521" y="690" width="1" height="10" fill="#c0c0c0"/><rect x="529" y="690" width="1" height="5" fill="#c0c0c0"/><rect x="537" y="690" width="1" height="1" fill="#c0c0c0"/><rect x="545" y="688" width="1" height="3" fill="#c0c0c0"/><rect x="553" y="687" width="1" height="4" fill="#c0c0c0"/><rect x="561" y="687" width="1" height="4" fill="#c0c0c0"/><rect x="569" y="686" width="1" height="5" fill="#c0c0c0"/><rect x="577" y="686" width="1" height="5" fill="#c0c0c0"/><rect x="585" y="685" width="1" height="6" fill="#c0c0c0"/><rect x="593" y="682" width="1" height="9" fill="#c0c0c0"/><rect x="601" y="679" width="1" height="12" fill="#c0c0c0"/><rect x="609" y="676" width="1" height="15" fill="#c0c0c0"/><rect x="617" y="672" width="1" height="19" fill="#c0c0c0"/><rect x="625" y="663" width="1" height="28" fill="#c0c0c0"/><rect x="633" y="652" width="1" height="39" fill="#c0c0c0"/><rect x="641" y="647" width="1" height="44" fill="#c0c0c0"/><rect x="649" y="643" width="1" height="48" fill="#c0c0c0"/><rect x="657" y="642" width="1" height="49" fill="#c0c0c0"/><rect x="665" y="645" width="1" height="46" fill="#c0c0c0"/><rect x="673" y="648" width="1" height="43" fill="#c0c0c0"/><rect x="681" y="646" width="1" height="45" fill="#c0c0c0"/><rect x="689" y="645" width="1" height="46" fill="#c0c0c0"/><rect x="697" y="648" width="1" height="43" fill="#c0c0c0"/><rect x="705" y="649" width="1" height="42" fill="#c0c0c0"/><rect x="713" y="651" width="1" height="40" fill="#c0c0c0"/><rect x="721" y="656" width="1" height="35" fill="#c0c0c0"/><rect x="729" y="658" width="1" height="33" fill="#c0c0c0"/><rect x="737" y="660" width="1" height="31" fill="#c0c0c0"/><rect x="745" y="664" width="1" height="27" fill="#c0c0c0"/><rect x="753" y="664" width="1" height="27" fill="#c0c0c0"/><rect x="761" y="660" width="1" height="31" fill="#c0c0c0"/><rect x="769" y="659" width="1" height="32" fill="#c0c0c0"/><rect x="777" y="659" width="1" height="32" fill="#c0c0c0"/><rect x="785" y="660" width="1" height="31" fill="#c0c0c0"/><rect x="793" y="662" width="1" height="29" fill="#c0c0c0"/><rect x="801" y="659" width="1" height="32" fill="#c0c0c0"/><rect x="809" y="657" width="1" height="34" fill="#c0c0c0"/><rect x="817" y="649" width="1" height="42" fill="#c0c0c0"/><rect x="825" y="644" width="1" height="47" fill="#c0c0c0"/><rect x="833" y="643" width="1" height="48" fill="#c0c0c0"/><rect x="841" y="634" width="1" height="57" fill="#c0c0c0"/><rect x="849" y="626" width="1" height="65" fill="#c0c0c0"/><rect x="857" y="611" width="1" height="80" fill="#c0c0c0"/><rect x="865" y="604" width="1" height="87" fill="#c0c0c0"/><rect x="873" y="597" width="1" height="94" fill="#c0c0c0"/><rect x="881" y="592" width="1" height="99" fill="#c0c0c0"/><rect x="889" y="600" width="1" height="91" fill="#c0c0c0"/><rect x="897" y="613" width="1" height="78" fill="#c0c0c0"/><rect x="905" y="618" width="1" height="73" fill="#c0c0c0"/><rect x="913" y="618" width="1" height="73" fill="#c0c0c0"/><rect x="921" y="618" width="1" height="73" fill="#c0c0c0"/><rect x="929" y="621" width="1" height="70" fill="#c0c0c0"/><rect x="937" y="622" width="1" height="69" fill="#c0c0c0"/><rect x="945" y="620" width="1" height="71" fill="#c0c0c0"/><rect x="953" y="624" width="1" height="67" fill="#c0c0c0"/><rect x="961" y="630" width="1" height="61" fill="#c0c0c0"/><rect x="969" y="637" width="1" height="54" fill="#c0c0c0"/><rect x="977" y="644" width="1" height="47" fill="#c0c0c0"/><rect x="985" y="652" width="1" height="39" fill="#c0c0c0"/><rect x="993" y="662" width="1" height="29" fill="#c0c0c0"/><rect x="1001" y="670" width="1" height="21" fill="#c0c0c0"/><rect x="1009" y="674" width="1" height="17" fill="#c0c0c0"/><rect x="1017" y="681" width="1" height="10" fill="#c0c0c0"/><rect x="1025" y="686" width="1" height="5" fill="#c0c0c0"/><rect x="1033" y="683" width="1" height="8" fill="#c0c0c0"/><rect x="1041" y="679" width="1" height="12" fill="#c0c0c0"/><rect x="1049" y="673" width="1" height="18" fill="#c0c0c0"/><rect x="1057" y="670" width="1" height="21" fill="#c0c0c0"/><rect x="1065" y="668" width="1" height="23" fill="#c0c0c0"/><rect x="1073" y="667" width="1" height="24" fill="#c0c0c0"/><rect x="1081" y="668" width="1" height="23" fill="#c0c0c0"/><rect x="1089" y="672" width="1" height="19" fill="#c0c0c0"/><rect x="1097" y="679" width="1" height="12" fill="#c0c0c0"/><rect x="1105" y="686" width="1" height="5" fill="#c0c0c0"/><rect x="1113" y="690" width="1" height="2" fill="#c0c0c0"/><rect x="1121" y="690" width="1" height="8" fill="#c0c0c0"/><rect x="1129" y="690" width="1" height="5" fill="#c0c0c0"/><rect x="1137" y="690" width="1" height="3" fill="#c0c0c0"/><rect x="1145" y="690" width="1" height="1" fill="#c0c0c0"/><rect x="1153" y="690" width="1" height="4" fill="#c0c0c0"/><rect x="1161" y="690" width="1" height="2" fill="#c0c0c0"/><rect x="1169" y="690" width="1" height="1" fill="#c0c0c0"/><rect x="1177" y="688" width="1" height="3" fill="#c0c0c0"/><rect x="1185" y="684" width="1" height="7" fill="#c0c0c0"/><rect x="1193" y="683" width="1" height="8" fill="#c0c0c0"/><rect x="1201" y="683" width="1" height="8" fill="#c0c0c0"/><rect x="1209" y="685" width="1" height="6" fill="#c0c0c0"/><rect x="1217" y="686" width="1" height="5" fill="#c0c0c0"/><rect x="1225" y="686" width="1" height="5" fill="#c0c0c0"/><rect x="1233" y="690" width="1" height="1" fill="#c0c0c0"/><rect x="1241" y="690" width="1" height="3" fill="#c0c0c0"/><rect x="1249" y="690" width="1" height="5" fill="#c0c0c0"/><rect x="1257" y="690" width="1" height="5" fill="#c0c0c0"/><rect x="1265" y="690" width="1" height="1" fill="#c0c0c0"/><rect x="1273" y="688" width="1" height="3" fill="#c0c0c0"/><rect x="1281" y="687" width="1" height="4" fill="#c0c0c0"/><rect x="1289" y="682" width="1" height="9" fill="#c0c0c0"/><rect x="1297" y="680" width="1" height="11" fill="#c0c0c0"/><rect x="1305" y="679" width="1" height="12" fill="#c0c0c0"/><rect x="1313" y="680" width="1" height="11" fill="#c0c0c0"/><rect x="1321" y="681" width="1" height="10" fill="#c0c0c0"/><rect x="1329" y="686" width="1" height="5" fill="#c0c0c0"/><rect x="1337" y="689" width="1" height="2" fill="#c0c0c0"/><rect x="1345" y="690" width="1" height="4" fill="#c0c0c0"/><rect x="1353" y="690" width="1" height="7" fill="#c0c0c0"/><path fill="#ff0000" d="M919 608h3v1h-3zM925 608h1v1h-1zM913 609h3v1h-3zM926 609h2v1h-2zM931 609h1v1h-1zM908 610h2v1h-2zM932 610h2v1h-2zM907 611h1v1h-1zM937 611h2v1h-2zM901 612h3v1h-3zM939 612h1v1h-1zM897 613h1v1h-1zM943 613h1v1h-1zM895 614h2v1h-2zM944 614h2v1h-2zM949 615h1v1h-1zM891 616h1v1h-1zM950 616h2v1h-2zM889 617h2v1h-2zM955 618h3v1h-3zM884 620h2v1h-2zM961 620h2v1h-2zM883 621h1v1h-1zM963 621h1v1h-1zM967 622h1v1h-1zM968 623h2v1h-2zM879 624h1v1h-1zM973 624h1v1h-1zM878 625h1v1h-1zM974 625h2v1h-2zM877 626h1v1h-1zM979 627h2v1h-2zM981 628h1v1h-1zM873 629h1v1h-1zM872 630h1v1h-1zM985 630h1v1h-1zM871 631h1v1h-1zM986 631h2v1h-2zM867 634h1v1h-1zM991 634h2v1h-2zM866 635h1v1h-1zM993 635h1v1h-1zM865 636h1v1h-1zM997 637h1v1h-1zM998 638h1v1h-1zM999 639h1v1h-1zM860 640h2v1h-2zM859 641h1v1h-1zM1003 641h1v1h-1zM1004 642h1v1h-1zM1005 643h1v1h-1zM855 644h1v1h-1zM854 645h1v1h-1zM697 646h3v1h-3zM703 646h3v1h-3zM709 646h3v1h-3zM715 646h1v1h-1zM853 646h1v1h-1zM1009 646h1v1h-1zM692 647h2v1h-2zM716 647h2v1h-2zM1010 647h1v1h-1zM691 648h1v1h-1zM721 648h3v1h-3zM849 648h1v1h-1zM1011 648h1v1h-1zM686 649h2v1h-2zM727 649h1v1h-1zM847 649h2v1h-2zM685 650h1v1h-1zM728 650h2v1h-2zM733 650h1v1h-1zM680 651h2v1h-2zM734 651h2v1h-2zM739 651h1v1h-1zM843 651h1v1h-1zM1015 651h1v1h-1zM679 652h1v1h-1zM740 652h2v1h-2zM841 652h2v1h-2zM1016 652h1v1h-1zM675 653h1v1h-1zM745 653h3v1h-3zM836 653h2v1h-2zM1017 653h1v1h-1zM673 654h2v1h-2zM751 654h1v1h-1zM835 654h1v1h-1zM7 655h3v1h-3zM13 655h1v1h-1zM752 655h2v1h-2zM829 655h3v1h-3zM1 656h3v1h-3zM14 656h2v1h-2zM19 656h3v1h-3zM669 656h1v1h-1zM757 656h3v1h-3zM824 656h2v1h-2zM1021 656h1v1h-1zM25 657h3v1h-3zM667 657h2v1h-2zM763 657h3v1h-3zM823 657h1v1h-1zM1022 657h1v1h-1zM31 658h1v1h-1zM769 658h3v1h-3zM819 658h1v1h-1zM1023 658h1v1h-1zM32 659h2v1h-2zM663 659h1v1h-1zM775 659h3v1h-3zM781 659h1v1h-1zM817 659h2v1h-2zM37 660h3v1h-3zM661 660h2v1h-2zM782 660h2v1h-2zM787 660h3v1h-3zM806 660h2v1h-2zM811 660h3v1h-3zM793 661h3v1h-3zM799 661h3v1h-3zM805 661h1v1h-1zM1027 661h1v1h-1zM43 662h3v1h-3zM657 662h1v1h-1zM1028 662h2v1h-2zM655 663h2v1h-2zM49 664h2v1h-2zM51 665h1v1h-1zM1033 665h1v1h-1zM55 666h1v1h-1zM650 666h2v1h-2zM1034 666h2v1h-2zM56 667h2v1h-2zM61 667h1v1h-1zM649 667h1v1h-1zM62 668h2v1h-2zM67 669h3v1h-3zM645 669h1v1h-1zM1039 669h2v1h-2zM643 670h2v1h-2zM1041 670h1v1h-1zM73 671h2v1h-2zM1045 671h1v1h-1zM75 672h1v1h-1zM639 672h1v1h-1zM1046 672h2v1h-2zM79 673h1v1h-1zM638 673h1v1h-1zM1051 673h1v1h-1zM1094 673h2v1h-2zM1099 673h3v1h-3zM80 674h2v1h-2zM637 674h1v1h-1zM1052 674h2v1h-2zM1087 674h3v1h-3zM1093 674h1v1h-1zM1105 674h3v1h-3zM85 675h3v1h-3zM1057 675h3v1h-3zM1081 675h3v1h-3zM1111 675h3v1h-3zM91 676h1v1h-1zM633 676h1v1h-1zM1063 676h3v1h-3zM1069 676h3v1h-3zM1075 676h3v1h-3zM1117 676h1v1h-1zM92 677h2v1h-2zM631 677h2v1h-2zM1118 677h2v1h-2zM97 678h3v1h-3zM1123 678h1v1h-1zM103 679h1v1h-1zM627 679h1v1h-1zM1124 679h2v1h-2zM104 680h2v1h-2zM625 680h2v1h-2zM1129 680h2v1h-2zM109 681h3v1h-3zM620 681h2v1h-2zM1131 681h1v1h-1zM115 682h3v1h-3zM619 682h1v1h-1zM1135 682h1v1h-1zM121 683h3v1h-3zM613 683h3v1h-3zM1136 683h2v1h-2zM127 684h3v1h-3zM133 684h1v1h-1zM607 684h3v1h-3zM1141 684h3v1h-3zM1327 684h3v1h-3zM1333 684h3v1h-3zM1339 684h3v1h-3zM1345 684h3v1h-3zM134 685h2v1h-2zM139 685h3v1h-3zM601 685h3v1h-3zM1321 685h3v1h-3zM1351 685h3v1h-3zM145 686h3v1h-3zM151 686h3v1h-3zM157 686h1v1h-1zM596 686h2v1h-2zM1147 686h3v1h-3zM1225 686h3v1h-3zM1231 686h3v1h-3zM1237 686h3v1h-3zM1243 686h3v1h-3zM1310 686h2v1h-2zM1315 686h3v1h-3zM158 687h2v1h-2zM163 687h1v1h-1zM595 687h1v1h-1zM1207 687h3v1h-3zM1213 687h3v1h-3zM1219 687h3v1h-3zM1249 687h3v1h-3zM1304 687h2v1h-2zM1309 687h1v1h-1zM164 688h2v1h-2zM589 688h3v1h-3zM1153 688h3v1h-3zM1201 688h3v1h-3zM1255 688h3v1h-3zM1261 688h1v1h-1zM1303 688h1v1h-1zM169 689h3v1h-3zM584 689h2v1h-2zM1159 689h1v1h-1zM1196 689h2v1h-2zM1262 689h2v1h-2zM1267 689h3v1h-3zM1273 689h3v1h-3zM1286 689h2v1h-2zM1291 689h3v1h-3zM1297 689h3v1h-3zM175 690h3v1h-3zM583 690h1v1h-1zM1160 690h2v1h-2zM1190 690h2v1h-2zM1195 690h1v1h-1zM1279 690h3v1h-3zM1285 690h1v1h-1zM181 691h3v1h-3zM577 691h3v1h-3zM1165 691h3v1h-3zM1183 691h3v1h-3zM1189 691h1v1h-1zM187 692h3v1h-3zM571 692h3v1h-3zM1171 692h3v1h-3zM1177 692h3v1h-3zM193 693h3v1h-3zM565 693h3v1h-3zM199 694h1v1h-1zM560 694h2v1h-2zM200 695h2v1h-2zM559 695h1v1h-1zM205 696h3v1h-3zM553 696h3v1h-3zM211 697h1v1h-1zM548 697h2v1h-2zM212 698h2v1h-2zM547 698h1v1h-1zM217 699h2v1h-2zM542 699h2v1h-2zM219 700h1v1h-1zM541 700h1v1h-1zM223 701h1v1h-1zM536 701h2v1h-2zM224 702h2v1h-2zM535 702h1v1h-1zM229 703h3v1h-3zM531 703h1v1h-1zM529 704h2v1h-2zM235 705h3v1h-3zM524 705h2v1h-2zM518 706h2v1h-2zM523 706h1v1h-1zM241 707h2v1h-2zM512 707h2v1h-2zM517 707h1v1h-1zM243 708h1v1h-1zM511 708h1v1h-1zM247 709h1v1h-1zM505 709h3v1h-3zM248 710h2v1h-2zM499 710h3v1h-3zM253 711h1v1h-1zM493 711h3v1h-3zM254 712h2v1h-2zM488 712h2v1h-2zM487 713h1v1h-1zM259 714h2v1h-2zM481 714h3v1h-3zM261 715h1v1h-1zM476 715h2v1h-2zM475 716h1v1h-1zM265 717h2v1h-2zM469 717h3v1h-3zM267 718h1v1h-1zM464 718h2v1h-2zM271 719h1v1h-1zM463 719h1v1h-1zM272 720h2v1h-2zM457 720h3v1h-3zM277 721h1v1h-1zM278 722h2v1h-2zM451 722h3v1h-3zM283 723h1v1h-1zM284 724h2v1h-2zM446 724h2v1h-2zM289 725h3v1h-3zM445 725h1v1h-1zM295 726h3v1h-3zM440 726h2v1h-2zM301 727h3v1h-3zM439 727h1v1h-1zM307 728h3v1h-3zM313 728h3v1h-3zM435 728h1v1h-1zM319 729h3v1h-3zM325 729h1v1h-1zM433 729h2v1h-2zM326 730h2v1h-2zM331 730h3v1h-3zM337 731h3v1h-3zM427 731h3v1h-3zM343 732h3v1h-3zM349 732h1v1h-1zM350 733h2v1h-2zM355 733h1v1h-1zM422 733h2v1h-2zM356 734h2v1h-2zM421 734h1v1h-1zM361 735h3v1h-3zM416 735h2v1h-2zM367 736h1v1h-1zM415 736h1v1h-1zM368 737h2v1h-2zM409 737h3v1h-3zM373 738h3v1h-3zM404 738h2v1h-2zM379 739h3v1h-3zM385 739h3v1h-3zM391 739h3v1h-3zM397 739h3v1h-3zM403 739h1v1h-1z"/><rect x="1611" y="583" width="3" height="1" fill="#000"/><text x="1616" y="592" font-family="DejaVu Sans Condensed, DejaVu Sans, sans-serif" font-size="9.5" fill="#000" textLength="38" lengthAdjust="spacingAndGlyphs">0.042334</text><rect x="1611" y="690" width="3" height="1" fill="#000"/><text x="1616" y="694" font-family="DejaVu Sans Condensed, DejaVu Sans, sans-serif" font-size="9.5" fill="#000" textLength="19" lengthAdjust="spacingAndGlyphs">0.00</text><rect x="1611" y="751" width="3" height="1" fill="#000"/><text x="1614" y="749" font-family="DejaVu Sans Condensed, DejaVu Sans, sans-serif" font-size="9.5" fill="#000" textLength="37" lengthAdjust="spacingAndGlyphs">-0.02442</text><text x="5" y="595" font-family="DejaVu Sans Condensed, DejaVu Sans, sans-serif" font-size="9.5" fill="#000" textLength="151" lengthAdjust="spacingAndGlyphs">MACD(12,26,9) -0.002118 0.002096</text><line x1="2" y1="790.5" x2="1610" y2="790.5" stroke="#c0c0c0" stroke-dasharray="3,3"/><line x1="2" y1="841.5" x2="1610" y2="841.5" stroke="#c0c0c0" stroke-dasharray="3,3"/><line x1="2" y1="902.5" x2="1610" y2="902.5" stroke="#c0c0c0" stroke-dasharray="3,3"/><path fill="#1e90ff" d="M633 789h1v1h-1zM632 790h1v1h-1zM634 790h1v1h-1zM631 791h1v1h-1zM634 791h1v1h-1zM630 792h1v1h-1zM635 792h1v1h-1zM628 793h2v1h-2zM635 793h1v1h-1zM857 793h1v1h-1zM627 794h1v1h-1zM636 794h1v1h-1zM856 794h1v1h-1zM858 794h1v1h-1zM626 795h1v1h-1zM636 795h1v1h-1zM855 795h1v1h-1zM859 795h1v1h-1zM625 796h1v1h-1zM637 796h1v1h-1zM855 796h1v1h-1zM860 796h1v1h-1zM624 797h1v1h-1zM637 797h1v1h-1zM854 797h1v1h-1zM861 797h1v1h-1zM624 798h1v1h-1zM638 798h1v1h-1zM853 798h1v1h-1zM861 798h1v1h-1zM623 799h1v1h-1zM638 799h1v1h-1zM852 799h1v1h-1zM862 799h1v1h-1zM878 799h4v1h-4zM623 800h1v1h-1zM639 800h1v1h-1zM851 800h1v1h-1zM863 800h1v1h-1zM872 800h6v1h-6zM881 800h1v1h-1zM622 801h1v1h-1zM639 801h1v1h-1zM851 801h1v1h-1zM864 801h1v1h-1zM868 801h4v1h-4zM882 801h1v1h-1zM622 802h1v1h-1zM640 802h1v1h-1zM850 802h1v1h-1zM865 802h3v1h-3zM882 802h1v1h-1zM621 803h1v1h-1zM640 803h1v1h-1zM846 803h4v1h-4zM882 803h1v1h-1zM620 804h1v1h-1zM641 804h9v1h-9zM841 804h5v1h-5zM882 804h1v1h-1zM620 805h1v1h-1zM650 805h1v1h-1zM840 805h1v1h-1zM883 805h1v1h-1zM619 806h1v1h-1zM651 806h1v1h-1zM817 806h2v1h-2zM840 806h1v1h-1zM883 806h1v1h-1zM619 807h1v1h-1zM652 807h2v1h-2zM816 807h1v1h-1zM819 807h3v1h-3zM839 807h1v1h-1zM883 807h1v1h-1zM618 808h1v1h-1zM654 808h1v1h-1zM816 808h1v1h-1zM822 808h2v1h-2zM839 808h1v1h-1zM883 808h1v1h-1zM618 809h1v1h-1zM655 809h1v1h-1zM815 809h1v1h-1zM824 809h2v1h-2zM838 809h1v1h-1zM884 809h1v1h-1zM617 810h1v1h-1zM656 810h1v1h-1zM815 810h1v1h-1zM826 810h1v1h-1zM838 810h1v1h-1zM884 810h1v1h-1zM616 811h1v1h-1zM657 811h1v1h-1zM814 811h1v1h-1zM826 811h1v1h-1zM837 811h1v1h-1zM884 811h1v1h-1zM615 812h1v1h-1zM657 812h1v1h-1zM814 812h1v1h-1zM827 812h1v1h-1zM837 812h1v1h-1zM885 812h1v1h-1zM614 813h1v1h-1zM658 813h1v1h-1zM813 813h1v1h-1zM828 813h1v1h-1zM836 813h1v1h-1zM885 813h1v1h-1zM613 814h1v1h-1zM658 814h1v1h-1zM681 814h9v1h-9zM812 814h1v1h-1zM829 814h1v1h-1zM836 814h1v1h-1zM885 814h1v1h-1zM612 815h1v1h-1zM659 815h1v1h-1zM680 815h1v1h-1zM690 815h1v1h-1zM812 815h1v1h-1zM829 815h1v1h-1zM835 815h1v1h-1zM885 815h1v1h-1zM611 816h1v1h-1zM659 816h1v1h-1zM680 816h1v1h-1zM690 816h1v1h-1zM811 816h1v1h-1zM830 816h1v1h-1zM835 816h1v1h-1zM886 816h1v1h-1zM610 817h1v1h-1zM660 817h1v1h-1zM679 817h1v1h-1zM691 817h1v1h-1zM811 817h1v1h-1zM831 817h1v1h-1zM834 817h1v1h-1zM886 817h1v1h-1zM608 818h2v1h-2zM660 818h1v1h-1zM679 818h1v1h-1zM691 818h1v1h-1zM761 818h1v1h-1zM810 818h1v1h-1zM832 818h1v1h-1zM834 818h1v1h-1zM886 818h1v1h-1zM945 818h1v1h-1zM604 819h4v1h-4zM661 819h1v1h-1zM678 819h1v1h-1zM692 819h1v1h-1zM760 819h1v1h-1zM762 819h2v1h-2zM801 819h5v1h-5zM810 819h1v1h-1zM832 819h2v1h-2zM887 819h1v1h-1zM943 819h2v1h-2zM946 819h1v1h-1zM601 820h3v1h-3zM661 820h1v1h-1zM678 820h1v1h-1zM692 820h1v1h-1zM760 820h1v1h-1zM764 820h1v1h-1zM800 820h1v1h-1zM806 820h4v1h-4zM833 820h1v1h-1zM887 820h1v1h-1zM942 820h1v1h-1zM946 820h1v1h-1zM599 821h2v1h-2zM662 821h1v1h-1zM677 821h1v1h-1zM693 821h1v1h-1zM759 821h1v1h-1zM765 821h1v1h-1zM800 821h1v1h-1zM887 821h1v1h-1zM940 821h2v1h-2zM947 821h1v1h-1zM598 822h1v1h-1zM662 822h1v1h-1zM676 822h1v1h-1zM693 822h1v1h-1zM758 822h1v1h-1zM766 822h2v1h-2zM799 822h1v1h-1zM887 822h1v1h-1zM938 822h2v1h-2zM948 822h1v1h-1zM1 823h5v1h-5zM596 823h2v1h-2zM663 823h1v1h-1zM676 823h1v1h-1zM694 823h1v1h-1zM757 823h1v1h-1zM768 823h1v1h-1zM799 823h1v1h-1zM888 823h1v1h-1zM913 823h10v1h-10zM936 823h2v1h-2zM949 823h1v1h-1zM6 824h6v1h-6zM594 824h2v1h-2zM663 824h1v1h-1zM675 824h1v1h-1zM694 824h1v1h-1zM757 824h1v1h-1zM769 824h3v1h-3zM798 824h1v1h-1zM888 824h1v1h-1zM912 824h1v1h-1zM923 824h3v1h-3zM934 824h2v1h-2zM949 824h1v1h-1zM12 825h4v1h-4zM593 825h1v1h-1zM664 825h1v1h-1zM675 825h1v1h-1zM695 825h1v1h-1zM705 825h9v1h-9zM756 825h1v1h-1zM772 825h4v1h-4zM797 825h1v1h-1zM888 825h1v1h-1zM910 825h2v1h-2zM926 825h2v1h-2zM931 825h3v1h-3zM950 825h1v1h-1zM1049 825h2v1h-2zM16 826h2v1h-2zM592 826h1v1h-1zM664 826h1v1h-1zM674 826h1v1h-1zM695 826h1v1h-1zM703 826h2v1h-2zM714 826h1v1h-1zM755 826h1v1h-1zM776 826h3v1h-3zM797 826h1v1h-1zM888 826h1v1h-1zM909 826h1v1h-1zM928 826h3v1h-3zM951 826h1v1h-1zM1048 826h1v1h-1zM1051 826h3v1h-3zM18 827h1v1h-1zM529 827h3v1h-3zM591 827h1v1h-1zM665 827h1v1h-1zM674 827h1v1h-1zM696 827h1v1h-1zM701 827h2v1h-2zM714 827h1v1h-1zM754 827h1v1h-1zM779 827h3v1h-3zM796 827h1v1h-1zM889 827h1v1h-1zM908 827h1v1h-1zM952 827h1v1h-1zM1046 827h2v1h-2zM1054 827h2v1h-2zM1289 827h2v1h-2zM18 828h1v1h-1zM528 828h1v1h-1zM532 828h4v1h-4zM590 828h1v1h-1zM665 828h9v1h-9zM696 828h1v1h-1zM699 828h2v1h-2zM715 828h1v1h-1zM754 828h1v1h-1zM782 828h2v1h-2zM795 828h1v1h-1zM889 828h1v1h-1zM906 828h2v1h-2zM952 828h1v1h-1zM1045 828h1v1h-1zM1056 828h3v1h-3zM1288 828h1v1h-1zM1291 828h3v1h-3zM19 829h1v1h-1zM528 829h1v1h-1zM536 829h4v1h-4zM589 829h1v1h-1zM697 829h2v1h-2zM715 829h1v1h-1zM753 829h1v1h-1zM784 829h3v1h-3zM795 829h1v1h-1zM890 829h1v1h-1zM905 829h1v1h-1zM953 829h2v1h-2zM1044 829h1v1h-1zM1059 829h3v1h-3zM1072 829h2v1h-2zM1287 829h1v1h-1zM1294 829h2v1h-2zM20 830h1v1h-1zM527 830h1v1h-1zM540 830h4v1h-4zM588 830h1v1h-1zM716 830h1v1h-1zM752 830h1v1h-1zM787 830h3v1h-3zM794 830h1v1h-1zM890 830h1v1h-1zM904 830h1v1h-1zM955 830h3v1h-3zM1042 830h2v1h-2zM1062 830h2v1h-2zM1068 830h4v1h-4zM1074 830h2v1h-2zM1286 830h1v1h-1zM1296 830h3v1h-3zM21 831h1v1h-1zM33 831h1v1h-1zM527 831h1v1h-1zM544 831h3v1h-3zM587 831h1v1h-1zM716 831h1v1h-1zM751 831h1v1h-1zM790 831h2v1h-2zM794 831h1v1h-1zM891 831h1v1h-1zM904 831h1v1h-1zM958 831h2v1h-2zM1040 831h2v1h-2zM1064 831h4v1h-4zM1076 831h2v1h-2zM1285 831h1v1h-1zM1299 831h3v1h-3zM21 832h1v1h-1zM32 832h1v1h-1zM34 832h2v1h-2zM526 832h1v1h-1zM547 832h2v1h-2zM586 832h1v1h-1zM717 832h1v1h-1zM729 832h9v1h-9zM751 832h1v1h-1zM792 832h2v1h-2zM892 832h1v1h-1zM903 832h1v1h-1zM960 832h2v1h-2zM1036 832h4v1h-4zM1078 832h1v1h-1zM1185 832h1v1h-1zM1265 832h2v1h-2zM1284 832h1v1h-1zM1302 832h2v1h-2zM22 833h1v1h-1zM30 833h2v1h-2zM36 833h1v1h-1zM526 833h1v1h-1zM549 833h2v1h-2zM585 833h1v1h-1zM717 833h1v1h-1zM728 833h1v1h-1zM738 833h1v1h-1zM750 833h1v1h-1zM892 833h1v1h-1zM902 833h1v1h-1zM962 833h2v1h-2zM1033 833h3v1h-3zM1079 833h2v1h-2zM1183 833h2v1h-2zM1186 833h2v1h-2zM1264 833h1v1h-1zM1267 833h2v1h-2zM1283 833h1v1h-1zM1304 833h2v1h-2zM23 834h1v1h-1zM29 834h1v1h-1zM37 834h1v1h-1zM525 834h1v1h-1zM551 834h2v1h-2zM583 834h2v1h-2zM718 834h1v1h-1zM727 834h1v1h-1zM739 834h1v1h-1zM749 834h1v1h-1zM893 834h1v1h-1zM901 834h1v1h-1zM964 834h2v1h-2zM1032 834h1v1h-1zM1081 834h1v1h-1zM1181 834h2v1h-2zM1188 834h2v1h-2zM1264 834h1v1h-1zM1269 834h2v1h-2zM1282 834h1v1h-1zM1306 834h1v1h-1zM24 835h1v1h-1zM28 835h1v1h-1zM38 835h2v1h-2zM104 835h2v1h-2zM525 835h1v1h-1zM553 835h2v1h-2zM582 835h1v1h-1zM718 835h1v1h-1zM726 835h1v1h-1zM740 835h2v1h-2zM748 835h1v1h-1zM894 835h1v1h-1zM901 835h1v1h-1zM966 835h1v1h-1zM1032 835h1v1h-1zM1082 835h1v1h-1zM1179 835h2v1h-2zM1190 835h1v1h-1zM1263 835h1v1h-1zM1271 835h2v1h-2zM1278 835h4v1h-4zM1307 835h1v1h-1zM24 836h1v1h-1zM26 836h2v1h-2zM40 836h1v1h-1zM102 836h2v1h-2zM106 836h2v1h-2zM524 836h1v1h-1zM555 836h2v1h-2zM568 836h4v1h-4zM580 836h2v1h-2zM719 836h1v1h-1zM725 836h1v1h-1zM742 836h1v1h-1zM747 836h1v1h-1zM894 836h1v1h-1zM900 836h1v1h-1zM967 836h2v1h-2zM1031 836h1v1h-1zM1083 836h1v1h-1zM1177 836h2v1h-2zM1191 836h2v1h-2zM1263 836h1v1h-1zM1273 836h5v1h-5zM1308 836h2v1h-2zM25 837h1v1h-1zM41 837h1v1h-1zM99 837h3v1h-3zM108 837h2v1h-2zM524 837h1v1h-1zM557 837h2v1h-2zM566 837h2v1h-2zM572 837h4v1h-4zM578 837h2v1h-2zM719 837h1v1h-1zM724 837h1v1h-1zM743 837h1v1h-1zM747 837h1v1h-1zM895 837h1v1h-1zM899 837h1v1h-1zM969 837h2v1h-2zM1031 837h1v1h-1zM1084 837h1v1h-1zM1175 837h2v1h-2zM1193 837h9v1h-9zM1262 837h1v1h-1zM1310 837h1v1h-1zM42 838h1v1h-1zM81 838h2v1h-2zM97 838h2v1h-2zM110 838h1v1h-1zM120 838h3v1h-3zM523 838h1v1h-1zM559 838h2v1h-2zM563 838h3v1h-3zM576 838h2v1h-2zM720 838h1v1h-1zM723 838h1v1h-1zM744 838h1v1h-1zM746 838h1v1h-1zM896 838h1v1h-1zM898 838h1v1h-1zM971 838h3v1h-3zM1030 838h1v1h-1zM1085 838h1v1h-1zM1129 838h17v1h-17zM1161 838h3v1h-3zM1173 838h2v1h-2zM1202 838h2v1h-2zM1261 838h1v1h-1zM1311 838h1v1h-1zM42 839h1v1h-1zM80 839h1v1h-1zM83 839h2v1h-2zM95 839h2v1h-2zM111 839h2v1h-2zM116 839h4v1h-4zM123 839h3v1h-3zM425 839h1v1h-1zM523 839h1v1h-1zM561 839h2v1h-2zM720 839h1v1h-1zM722 839h1v1h-1zM745 839h1v1h-1zM896 839h1v1h-1zM898 839h1v1h-1zM974 839h2v1h-2zM1030 839h1v1h-1zM1085 839h1v1h-1zM1129 839h1v1h-1zM1146 839h1v1h-1zM1160 839h1v1h-1zM1164 839h4v1h-4zM1171 839h2v1h-2zM1204 839h1v1h-1zM1261 839h1v1h-1zM1312 839h1v1h-1zM43 840h1v1h-1zM65 840h2v1h-2zM78 840h2v1h-2zM85 840h2v1h-2zM93 840h2v1h-2zM113 840h3v1h-3zM126 840h2v1h-2zM425 840h3v1h-3zM522 840h1v1h-1zM721 840h1v1h-1zM897 840h1v1h-1zM976 840h3v1h-3zM1029 840h1v1h-1zM1086 840h1v1h-1zM1128 840h1v1h-1zM1147 840h1v1h-1zM1159 840h1v1h-1zM1168 840h3v1h-3zM1205 840h1v1h-1zM1224 840h2v1h-2zM1260 840h1v1h-1zM1313 840h9v1h-9zM44 841h1v1h-1zM63 841h2v1h-2zM67 841h2v1h-2zM77 841h1v1h-1zM87 841h2v1h-2zM91 841h2v1h-2zM128 841h2v1h-2zM145 841h1v1h-1zM424 841h1v1h-1zM428 841h1v1h-1zM481 841h5v1h-5zM494 841h8v1h-8zM522 841h1v1h-1zM979 841h3v1h-3zM1029 841h1v1h-1zM1087 841h1v1h-1zM1128 841h1v1h-1zM1147 841h1v1h-1zM1159 841h1v1h-1zM1206 841h2v1h-2zM1220 841h4v1h-4zM1226 841h1v1h-1zM1259 841h1v1h-1zM1322 841h1v1h-1zM45 842h1v1h-1zM62 842h1v1h-1zM69 842h2v1h-2zM76 842h1v1h-1zM89 842h2v1h-2zM130 842h1v1h-1zM144 842h1v1h-1zM146 842h2v1h-2zM424 842h1v1h-1zM429 842h1v1h-1zM479 842h2v1h-2zM486 842h8v1h-8zM502 842h4v1h-4zM521 842h1v1h-1zM982 842h2v1h-2zM1028 842h1v1h-1zM1088 842h1v1h-1zM1127 842h1v1h-1zM1148 842h1v1h-1zM1158 842h1v1h-1zM1208 842h1v1h-1zM1214 842h6v1h-6zM1226 842h1v1h-1zM1259 842h1v1h-1zM1322 842h1v1h-1zM45 843h1v1h-1zM60 843h2v1h-2zM71 843h2v1h-2zM74 843h2v1h-2zM131 843h1v1h-1zM143 843h1v1h-1zM148 843h1v1h-1zM423 843h1v1h-1zM430 843h2v1h-2zM478 843h1v1h-1zM506 843h1v1h-1zM521 843h1v1h-1zM984 843h2v1h-2zM1028 843h1v1h-1zM1089 843h1v1h-1zM1127 843h1v1h-1zM1149 843h1v1h-1zM1157 843h1v1h-1zM1209 843h5v1h-5zM1227 843h1v1h-1zM1258 843h1v1h-1zM1323 843h1v1h-1zM46 844h1v1h-1zM58 844h2v1h-2zM73 844h1v1h-1zM132 844h2v1h-2zM142 844h1v1h-1zM149 844h1v1h-1zM423 844h1v1h-1zM432 844h1v1h-1zM476 844h2v1h-2zM507 844h1v1h-1zM520 844h1v1h-1zM986 844h1v1h-1zM1027 844h1v1h-1zM1090 844h1v1h-1zM1127 844h1v1h-1zM1150 844h1v1h-1zM1156 844h1v1h-1zM1228 844h1v1h-1zM1258 844h1v1h-1zM1323 844h1v1h-1zM47 845h1v1h-1zM56 845h2v1h-2zM134 845h1v1h-1zM140 845h2v1h-2zM150 845h2v1h-2zM422 845h1v1h-1zM433 845h1v1h-1zM474 845h2v1h-2zM507 845h1v1h-1zM519 845h1v1h-1zM987 845h1v1h-1zM1008 845h2v1h-2zM1027 845h1v1h-1zM1091 845h1v1h-1zM1126 845h1v1h-1zM1151 845h1v1h-1zM1155 845h1v1h-1zM1228 845h1v1h-1zM1257 845h1v1h-1zM1324 845h1v1h-1zM48 846h1v1h-1zM54 846h2v1h-2zM135 846h1v1h-1zM139 846h1v1h-1zM152 846h1v1h-1zM422 846h1v1h-1zM434 846h1v1h-1zM473 846h1v1h-1zM508 846h1v1h-1zM518 846h1v1h-1zM988 846h2v1h-2zM1006 846h2v1h-2zM1010 846h1v1h-1zM1026 846h1v1h-1zM1092 846h1v1h-1zM1126 846h1v1h-1zM1151 846h1v1h-1zM1155 846h1v1h-1zM1229 846h1v1h-1zM1255 846h2v1h-2zM1324 846h1v1h-1zM48 847h1v1h-1zM51 847h3v1h-3zM136 847h1v1h-1zM138 847h1v1h-1zM153 847h1v1h-1zM421 847h1v1h-1zM434 847h1v1h-1zM472 847h1v1h-1zM509 847h1v1h-1zM517 847h1v1h-1zM990 847h1v1h-1zM1003 847h3v1h-3zM1011 847h1v1h-1zM1026 847h1v1h-1zM1093 847h1v1h-1zM1125 847h1v1h-1zM1152 847h1v1h-1zM1154 847h1v1h-1zM1230 847h1v1h-1zM1241 847h3v1h-3zM1253 847h2v1h-2zM1325 847h1v1h-1zM1337 847h1v1h-1zM49 848h2v1h-2zM137 848h1v1h-1zM154 848h1v1h-1zM193 848h1v1h-1zM421 848h1v1h-1zM435 848h1v1h-1zM472 848h1v1h-1zM510 848h1v1h-1zM517 848h1v1h-1zM991 848h1v1h-1zM1000 848h3v1h-3zM1012 848h2v1h-2zM1025 848h1v1h-1zM1094 848h1v1h-1zM1125 848h1v1h-1zM1153 848h1v1h-1zM1230 848h1v1h-1zM1239 848h2v1h-2zM1244 848h4v1h-4zM1251 848h2v1h-2zM1325 848h1v1h-1zM1336 848h1v1h-1zM1338 848h1v1h-1zM155 849h1v1h-1zM192 849h1v1h-1zM194 849h1v1h-1zM421 849h1v1h-1zM435 849h1v1h-1zM471 849h1v1h-1zM511 849h1v1h-1zM516 849h1v1h-1zM992 849h1v1h-1zM996 849h4v1h-4zM1014 849h1v1h-1zM1024 849h2v1h-2zM1095 849h1v1h-1zM1125 849h1v1h-1zM1231 849h1v1h-1zM1238 849h1v1h-1zM1248 849h3v1h-3zM1326 849h1v1h-1zM1335 849h1v1h-1zM1339 849h1v1h-1zM155 850h1v1h-1zM192 850h1v1h-1zM194 850h1v1h-1zM420 850h1v1h-1zM436 850h1v1h-1zM470 850h1v1h-1zM511 850h1v1h-1zM515 850h1v1h-1zM993 850h3v1h-3zM1015 850h1v1h-1zM1022 850h2v1h-2zM1096 850h1v1h-1zM1124 850h1v1h-1zM1232 850h1v1h-1zM1236 850h2v1h-2zM1326 850h1v1h-1zM1334 850h1v1h-1zM1340 850h2v1h-2zM156 851h1v1h-1zM191 851h1v1h-1zM195 851h1v1h-1zM289 851h2v1h-2zM420 851h1v1h-1zM436 851h1v1h-1zM469 851h1v1h-1zM512 851h1v1h-1zM514 851h1v1h-1zM1016 851h1v1h-1zM1019 851h3v1h-3zM1097 851h1v1h-1zM1124 851h1v1h-1zM1232 851h1v1h-1zM1234 851h2v1h-2zM1327 851h1v1h-1zM1333 851h1v1h-1zM1342 851h1v1h-1zM157 852h1v1h-1zM190 852h1v1h-1zM196 852h1v1h-1zM288 852h1v1h-1zM291 852h2v1h-2zM409 852h1v1h-1zM419 852h1v1h-1zM437 852h1v1h-1zM469 852h1v1h-1zM513 852h1v1h-1zM1017 852h2v1h-2zM1098 852h2v1h-2zM1113 852h1v1h-1zM1123 852h1v1h-1zM1233 852h1v1h-1zM1327 852h1v1h-1zM1332 852h1v1h-1zM1343 852h1v1h-1zM158 853h1v1h-1zM190 853h1v1h-1zM197 853h1v1h-1zM288 853h1v1h-1zM293 853h2v1h-2zM408 853h1v1h-1zM410 853h2v1h-2zM419 853h1v1h-1zM438 853h1v1h-1zM468 853h1v1h-1zM1100 853h2v1h-2zM1111 853h2v1h-2zM1114 853h2v1h-2zM1123 853h1v1h-1zM1328 853h1v1h-1zM1331 853h1v1h-1zM1344 853h1v1h-1zM1350 853h4v1h-4zM159 854h1v1h-1zM189 854h1v1h-1zM197 854h1v1h-1zM287 854h1v1h-1zM295 854h2v1h-2zM407 854h1v1h-1zM412 854h2v1h-2zM418 854h1v1h-1zM438 854h1v1h-1zM449 854h3v1h-3zM467 854h1v1h-1zM1102 854h1v1h-1zM1109 854h2v1h-2zM1116 854h1v1h-1zM1123 854h1v1h-1zM1328 854h1v1h-1zM1330 854h1v1h-1zM1345 854h5v1h-5zM159 855h1v1h-1zM188 855h1v1h-1zM198 855h1v1h-1zM287 855h1v1h-1zM297 855h1v1h-1zM406 855h1v1h-1zM414 855h1v1h-1zM418 855h1v1h-1zM439 855h1v1h-1zM447 855h2v1h-2zM452 855h4v1h-4zM466 855h1v1h-1zM1103 855h2v1h-2zM1107 855h2v1h-2zM1117 855h1v1h-1zM1122 855h1v1h-1zM1329 855h1v1h-1zM160 856h1v1h-1zM188 856h1v1h-1zM199 856h1v1h-1zM286 856h1v1h-1zM297 856h1v1h-1zM404 856h2v1h-2zM415 856h3v1h-3zM439 856h1v1h-1zM446 856h1v1h-1zM456 856h6v1h-6zM466 856h1v1h-1zM1105 856h2v1h-2zM1118 856h2v1h-2zM1122 856h1v1h-1zM161 857h2v1h-2zM187 857h1v1h-1zM200 857h1v1h-1zM285 857h1v1h-1zM298 857h1v1h-1zM390 857h6v1h-6zM403 857h1v1h-1zM417 857h1v1h-1zM440 857h1v1h-1zM444 857h2v1h-2zM462 857h4v1h-4zM1120 857h2v1h-2zM163 858h2v1h-2zM186 858h1v1h-1zM200 858h1v1h-1zM285 858h1v1h-1zM298 858h1v1h-1zM382 858h8v1h-8zM396 858h4v1h-4zM402 858h1v1h-1zM440 858h1v1h-1zM442 858h2v1h-2zM1121 858h1v1h-1zM165 859h2v1h-2zM186 859h1v1h-1zM201 859h1v1h-1zM284 859h1v1h-1zM299 859h1v1h-1zM377 859h5v1h-5zM400 859h2v1h-2zM441 859h1v1h-1zM167 860h2v1h-2zM184 860h2v1h-2zM202 860h1v1h-1zM283 860h1v1h-1zM299 860h1v1h-1zM376 860h1v1h-1zM169 861h5v1h-5zM180 861h4v1h-4zM203 861h1v1h-1zM283 861h1v1h-1zM299 861h1v1h-1zM376 861h1v1h-1zM174 862h6v1h-6zM203 862h1v1h-1zM282 862h1v1h-1zM300 862h1v1h-1zM375 862h1v1h-1zM204 863h1v1h-1zM282 863h1v1h-1zM300 863h1v1h-1zM375 863h1v1h-1zM205 864h1v1h-1zM281 864h1v1h-1zM301 864h1v1h-1zM374 864h1v1h-1zM206 865h1v1h-1zM281 865h1v1h-1zM301 865h1v1h-1zM374 865h1v1h-1zM207 866h1v1h-1zM280 866h1v1h-1zM301 866h1v1h-1zM313 866h5v1h-5zM373 866h1v1h-1zM207 867h1v1h-1zM280 867h1v1h-1zM302 867h1v1h-1zM312 867h1v1h-1zM318 867h4v1h-4zM373 867h1v1h-1zM208 868h1v1h-1zM279 868h1v1h-1zM302 868h1v1h-1zM311 868h1v1h-1zM322 868h1v1h-1zM372 868h1v1h-1zM209 869h2v1h-2zM279 869h1v1h-1zM303 869h1v1h-1zM310 869h1v1h-1zM323 869h1v1h-1zM372 869h1v1h-1zM211 870h3v1h-3zM278 870h1v1h-1zM303 870h1v1h-1zM309 870h1v1h-1zM324 870h2v1h-2zM371 870h1v1h-1zM214 871h2v1h-2zM278 871h1v1h-1zM303 871h1v1h-1zM309 871h1v1h-1zM326 871h1v1h-1zM371 871h1v1h-1zM216 872h3v1h-3zM277 872h1v1h-1zM304 872h1v1h-1zM308 872h1v1h-1zM327 872h1v1h-1zM370 872h1v1h-1zM219 873h3v1h-3zM277 873h1v1h-1zM304 873h1v1h-1zM307 873h1v1h-1zM328 873h1v1h-1zM334 873h4v1h-4zM370 873h1v1h-1zM222 874h2v1h-2zM276 874h1v1h-1zM305 874h2v1h-2zM329 874h5v1h-5zM338 874h2v1h-2zM361 874h9v1h-9zM224 875h2v1h-2zM265 875h1v1h-1zM276 875h1v1h-1zM305 875h1v1h-1zM340 875h1v1h-1zM359 875h2v1h-2zM226 876h1v1h-1zM249 876h1v1h-1zM264 876h1v1h-1zM266 876h2v1h-2zM275 876h1v1h-1zM341 876h1v1h-1zM358 876h1v1h-1zM227 877h1v1h-1zM248 877h1v1h-1zM250 877h2v1h-2zM262 877h2v1h-2zM268 877h1v1h-1zM275 877h1v1h-1zM342 877h2v1h-2zM356 877h2v1h-2zM228 878h1v1h-1zM248 878h1v1h-1zM252 878h2v1h-2zM261 878h1v1h-1zM269 878h1v1h-1zM274 878h1v1h-1zM344 878h1v1h-1zM354 878h2v1h-2zM229 879h1v1h-1zM247 879h1v1h-1zM254 879h1v1h-1zM260 879h1v1h-1zM270 879h2v1h-2zM274 879h1v1h-1zM345 879h9v1h-9zM229 880h1v1h-1zM246 880h1v1h-1zM255 880h2v1h-2zM258 880h2v1h-2zM272 880h2v1h-2zM230 881h1v1h-1zM245 881h1v1h-1zM257 881h1v1h-1zM273 881h1v1h-1zM231 882h1v1h-1zM245 882h1v1h-1zM232 883h1v1h-1zM244 883h1v1h-1zM233 884h2v1h-2zM243 884h1v1h-1zM235 885h3v1h-3zM242 885h1v1h-1zM238 886h2v1h-2zM242 886h1v1h-1zM240 887h2v1h-2z"/><rect x="1611" y="755" width="2" height="1" fill="#000"/><text x="1615" y="765" font-family="DejaVu Sans Condensed, DejaVu Sans, sans-serif" font-size="9.5" fill="#000" textLength="17" lengthAdjust="spacingAndGlyphs">100</text><rect x="1611" y="790" width="2" height="1" fill="#000"/><text x="1615" y="795" font-family="DejaVu Sans Condensed, DejaVu Sans, sans-serif" font-size="9.5" fill="#000" textLength="12" lengthAdjust="spacingAndGlyphs">80</text><rect x="1611" y="841" width="2" height="1" fill="#000"/><text x="1615" y="846" font-family="DejaVu Sans Condensed, DejaVu Sans, sans-serif" font-size="9.5" fill="#000" textLength="12" lengthAdjust="spacingAndGlyphs">50</text><rect x="1611" y="902" width="2" height="1" fill="#000"/><text x="1615" y="907" font-family="DejaVu Sans Condensed, DejaVu Sans, sans-serif" font-size="9.5" fill="#000" textLength="12" lengthAdjust="spacingAndGlyphs">15</text><rect x="1611" y="927" width="2" height="1" fill="#000"/><text x="1615" y="926" font-family="DejaVu Sans Condensed, DejaVu Sans, sans-serif" font-size="9.5" fill="#000" textLength="6" lengthAdjust="spacingAndGlyphs">0</text><text x="5" y="767" font-family="DejaVu Sans Condensed, DejaVu Sans, sans-serif" font-size="9.5" fill="#000" textLength="67" lengthAdjust="spacingAndGlyphs">RSI(14) 43.3040</text><rect x="1" y="929" width="1" height="3" fill="#000"/><text x="1" y="941" font-family="DejaVu Sans Condensed, DejaVu Sans, sans-serif" font-size="9.5" fill="#000" textLength="52" lengthAdjust="spacingAndGlyphs">24 Feb 2020</text><rect x="65" y="929" width="1" height="3" fill="#000"/><text x="64" y="941" font-family="DejaVu Sans Condensed, DejaVu Sans, sans-serif" font-size="9.5" fill="#000" textLength="55" lengthAdjust="spacingAndGlyphs">25 Feb 08:00</text><rect x="129" y="929" width="1" height="3" fill="#000"/><text x="128" y="941" font-family="DejaVu Sans Condensed, DejaVu Sans, sans-serif" font-size="9.5" fill="#000" textLength="55" lengthAdjust="spacingAndGlyphs">26 Feb 16:00</text><rect x="193" y="929" width="1" height="3" fill="#000"/><text x="192" y="941" font-family="DejaVu Sans Condensed, DejaVu Sans, sans-serif" font-size="9.5" fill="#000" textLength="55" lengthAdjust="spacingAndGlyphs">28 Feb 00:00</text><rect x="257" y="929" width="1" height="3" fill="#000"/><text x="256" y="941" font-family="DejaVu Sans Condensed, DejaVu Sans, sans-serif" font-size="9.5" fill="#000" textLength="49" lengthAdjust="spacingAndGlyphs">2 Mar 12:00</text><rect x="321" y="929" width="1" height="3" fill="#000"/><text x="320" y="941" font-family="DejaVu Sans Condensed, DejaVu Sans, sans-serif" font-size="9.5" fill="#000" textLength="49" lengthAdjust="spacingAndGlyphs">3 Mar 20:00</text><rect x="385" y="929" width="1" height="3" fill="#000"/><text x="384" y="941" font-family="DejaVu Sans Condensed, DejaVu Sans, sans-serif" font-size="9.5" fill="#000" textLength="49" lengthAdjust="spacingAndGlyphs">5 Mar 04:00</text><rect x="449" y="929" width="1" height="3" fill="#000"/><text x="448" y="941" font-family="DejaVu Sans Condensed, DejaVu Sans, sans-serif" font-size="9.5" fill="#000" textLength="49" lengthAdjust="spacingAndGlyphs">6 Mar 12:00</text><rect x="513" y="929" width="1" height="3" fill="#000"/><text x="512" y="941" font-family="DejaVu Sans Condensed, DejaVu Sans, sans-serif" font-size="9.5" fill="#000" textLength="55" lengthAdjust="spacingAndGlyphs">10 Mar 00:00</text><rect x="577" y="929" width="1" height="3" fill="#000"/><text x="576" y="941" font-family="DejaVu Sans Condensed, DejaVu Sans, sans-serif" font-size="9.5" fill="#000" textLength="55" lengthAdjust="spacingAndGlyphs">11 Mar 08:00</text><rect x="641" y="929" width="1" height="3" fill="#000"/><text x="640" y="941" font-family="DejaVu Sans Condensed, DejaVu Sans, sans-serif" font-size="9.5" fill="#000" textLength="55" lengthAdjust="spacingAndGlyphs">12 Mar 16:00</text><rect x="705" y="929" width="1" height="3" fill="#000"/><text x="704" y="941" font-family="DejaVu Sans Condensed, DejaVu Sans, sans-serif" font-size="9.5" fill="#000" textLength="55" lengthAdjust="spacingAndGlyphs">16 Mar 04:00</text><rect x="769" y="929" width="1" height="3" fill="#000"/><text x="768" y="941" font-family="DejaVu Sans Condensed, DejaVu Sans, sans-serif" font-size="9.5" fill="#000" textLength="55" lengthAdjust="spacingAndGlyphs">17 Mar 12:00</text><rect x="833" y="929" width="1" height="3" fill="#000"/><text x="832" y="941" font-family="DejaVu Sans Condensed, DejaVu Sans, sans-serif" font-size="9.5" fill="#000" textLength="55" lengthAdjust="spacingAndGlyphs">18 Mar 20:00</text><rect x="897" y="929" width="1" height="3" fill="#000"/><text x="896" y="941" font-family="DejaVu Sans Condensed, DejaVu Sans, sans-serif" font-size="9.5" fill="#000" textLength="55" lengthAdjust="spacingAndGlyphs">20 Mar 04:00</text><rect x="961" y="929" width="1" height="3" fill="#000"/><text x="960" y="941" font-family="DejaVu Sans Condensed, DejaVu Sans, sans-serif" font-size="9.5" fill="#000" textLength="55" lengthAdjust="spacingAndGlyphs">23 Mar 16:00</text><rect x="1025" y="929" width="1" height="3" fill="#000"/><text x="1024" y="941" font-family="DejaVu Sans Condensed, DejaVu Sans, sans-serif" font-size="9.5" fill="#000" textLength="55" lengthAdjust="spacingAndGlyphs">25 Mar 00:00</text><rect x="1089" y="929" width="1" height="3" fill="#000"/><text x="1088" y="941" font-family="DejaVu Sans Condensed, DejaVu Sans, sans-serif" font-size="9.5" fill="#000" textLength="55" lengthAdjust="spacingAndGlyphs">26 Mar 08:00</text><rect x="1153" y="929" width="1" height="3" fill="#000"/><text x="1152" y="941" font-family="DejaVu Sans Condensed, DejaVu Sans, sans-serif" font-size="9.5" fill="#000" textLength="55" lengthAdjust="spacingAndGlyphs">27 Mar 16:00</text><rect x="1217" y="929" width="1" height="3" fill="#000"/><text x="1216" y="941" font-family="DejaVu Sans Condensed, DejaVu Sans, sans-serif" font-size="9.5" fill="#000" textLength="55" lengthAdjust="spacingAndGlyphs">31 Mar 04:00</text><rect x="1281" y="929" width="1" height="3" fill="#000"/><text x="1280" y="941" font-family="DejaVu Sans Condensed, DejaVu Sans, sans-serif" font-size="9.5" fill="#000" textLength="49" lengthAdjust="spacingAndGlyphs">1 Apr 12:00</text><rect x="1345" y="929" width="1" height="3" fill="#000"/><text x="1344" y="941" font-family="DejaVu Sans Condensed, DejaVu Sans, sans-serif" font-size="9.5" fill="#000" textLength="49" lengthAdjust="spacingAndGlyphs">2 Apr 20:00</text><defs><linearGradient id="gb" x1="0" y1="0" x2="0" y2="1"><stop offset="0" stop-color="#5858ff"/><stop offset="1" stop-color="#3636e4"/></linearGradient><linearGradient id="gp" x1="0" y1="0" x2="0" y2="1"><stop offset="0" stop-color="#3434e2"/><stop offset="0.5" stop-color="#1c1cd0"/><stop offset="1" stop-color="#0000b0"/></linearGradient><linearGradient id="gs" x1="0" y1="0" x2="0" y2="1"><stop offset="0" stop-color="#f6f6f6"/><stop offset="0.45" stop-color="#ececec"/><stop offset="0.5" stop-color="#dcdcdc"/><stop offset="1" stop-color="#d0d0d0"/></linearGradient></defs><path d="M4,47 H56 V71 H113 V111 H4 Z" fill="#0000c0"/><rect x="5" y="48" width="50" height="22" fill="url(#gb)"/><rect x="5" y="71" width="107" height="39" fill="url(#gp)"/><rect x="5" y="70" width="50" height="1" fill="#3434e2"/><rect x="8" y="70" width="44" height="1" fill="#000080"/><rect x="8" y="71" width="44" height="1" fill="#7070ff"/><path d="M171,47 H223 V111 H115 V71 H171 Z" fill="#0000c0"/><rect x="172" y="48" width="50" height="22" fill="url(#gb)"/><rect x="116" y="71" width="106" height="39" fill="url(#gp)"/><rect x="172" y="70" width="50" height="1" fill="#3434e2"/><rect x="175" y="70" width="44" height="1" fill="#000080"/><rect x="175" y="71" width="44" height="1" fill="#7070ff"/><rect x="58.5" y="47.5" width="110" height="21" fill="#fff" stroke="#a8a8a8"/><rect x="59" y="48" width="20" height="20" fill="url(#gs)"/><rect x="79" y="48" width="1" height="20" fill="#a8a8a8"/><rect x="148" y="48" width="20" height="20" fill="url(#gs)"/><rect x="147" y="48" width="1" height="20" fill="#a8a8a8"/><path d="M66,56 L71,56 L68.5,59 Z" fill="#5a70c0" shape-rendering="auto"/><path d="M155,59 L160,59 L157.5,56 Z" fill="#5a70c0" shape-rendering="auto"/><text x="143.5" y="62" font-family="DejaVu Sans Condensed, DejaVu Sans, sans-serif" font-size="12" fill="#000" text-anchor="end">1.00</text><text x="16.5" y="63" font-family="DejaVu Sans Condensed, DejaVu Sans, sans-serif" font-size="12" fill="#fff" textLength="25.5" lengthAdjust="spacingAndGlyphs">SELL</text><text x="184" y="63" font-family="DejaVu Sans Condensed, DejaVu Sans, sans-serif" font-size="12" fill="#fff" textLength="24" lengthAdjust="spacingAndGlyphs">BUY</text><text x="24" y="102" font-family="DejaVu Sans Condensed, DejaVu Sans, sans-serif" font-size="12" font-weight="bold" fill="#fff" textLength="24" lengthAdjust="spacingAndGlyphs">7.08</text><text x="134" y="102" font-family="DejaVu Sans Condensed, DejaVu Sans, sans-serif" font-size="12" font-weight="bold" fill="#fff" textLength="24" lengthAdjust="spacingAndGlyphs">7.09</text><text x="51.5" y="102" font-family="DejaVu Sans, sans-serif" font-size="33" fill="#fff" textLength="34" lengthAdjust="spacingAndGlyphs">63</text><text x="163.5" y="102" font-family="DejaVu Sans, sans-serif" font-size="33" fill="#fff" textLength="34" lengthAdjust="spacingAndGlyphs">16</text><text x="90.5" y="86" font-family="DejaVu Sans Condensed, DejaVu Sans, sans-serif" font-size="12" font-weight="bold" fill="#fff">7</text><text x="202" y="86" font-family="DejaVu Sans Condensed, DejaVu Sans, sans-serif" font-size="12" font-weight="bold" fill="#fff">8</text><path d="M4,38 L7.5,34 L11,38 Z" fill="#000"/><text x="16" y="39" font-family="DejaVu Sans Condensed, DejaVu Sans, sans-serif" font-size="9.5" fill="#000" textLength="59" lengthAdjust="spacingAndGlyphs">USDCNH-,H4</text><text x="81" y="39" font-family="DejaVu Sans Condensed, DejaVu Sans, sans-serif" font-size="9.5" fill="#000" textLength="141" lengthAdjust="spacingAndGlyphs">7.08575 7.08675 7.08575 7.08637</text></svg>
</body></html>
